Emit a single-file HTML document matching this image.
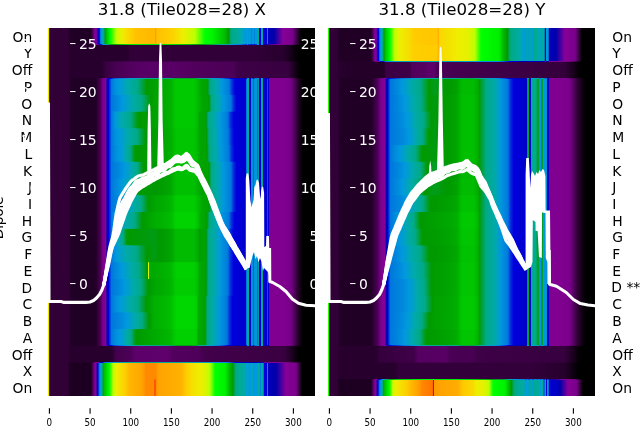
<!DOCTYPE html><html><head><meta charset="utf-8"><title>31.8 (Tile028=28)</title><style>
html,body{margin:0;padding:0;background:#fff}
body{width:640px;height:440px;position:relative;overflow:hidden;font-family:"DejaVu Sans","Liberation Sans",sans-serif;color:#000}
.p{position:absolute;top:28px;width:267px;height:368px;overflow:hidden;background:#2a0033}
.p i{position:absolute;left:0;width:267px;display:block}
.t{position:absolute;white-space:nowrap;line-height:1}
svg{position:absolute;left:0;top:0}
svg text{font-family:"DejaVu Sans","Liberation Sans",sans-serif}
</style></head><body>
<div class="p" style="left:48px">
<i style="top:0px;height:16px;background:linear-gradient(90deg,#f0eb00 0px,#f0eb00 1.1px,#7a008b 1.3px,#7a008b 2.2px,#300036 2.4px,#300036 20px,#210026 22px,#210026 43px,#5f006d 45.5px,#770088 45.88px,#810092 47px,#880099 48.1px,#5200a0 49.2px,#0000aa 49.99px,#0000dd 51.3px,#0077dd 52.45px,#0099dd 53.61px,#00a3be 54.3px,#00aaaa 54.77px,#00aa88 55.95px,#009900 57.12px,#00bb00 58.3px,#00dd00 60.4px,#00ff00 62.5px,#bbff00 68px,#eeee00 74px,#fad600 81px,#ffcc00 84.6px,#ffc200 87px,#ffba00 100px,#ffba00 106.5px,#ffa100 107.3px,#ffa100 108px,#ffc000 108.8px,#ffca00 118px,#ffcc00 119.2px,#fcd300 125px,#eeee00 135px,#bbff00 147px,#00ff00 157px,#00f500 164px,#00dd00 169.4px,#00bb00 177px,#009900 180.5px,#00a76d 182.5px,#00aa88 184.4px,#00aa99 189px,#00aaaa 192.2px,#00a7b4 193.5px,#009cd3 196.5px,#0099dd 198.6px,#00aa9c 198.9px,#00aa9c 200px,#0099dd 200.4px,#0099dd 203px,#0085dd 203.3px,#0085dd 203.9px,#0099dd 204.2px,#0099dd 206px,#0085dd 206.3px,#0085dd 206.9px,#0099dd 207.2px,#0099dd 209.2px,#00aa8b 209.5px,#00aa8b 210.5px,#0000dd 210.9px,#0000dd 212.5px,#00aaa3 212.9px,#00aaa3 214.5px,#0000dd 214.9px,#0000dd 218.7px,#0085dd 219px,#0085dd 219.8px,#0000be 220.1px,#0000af 224px,#0000aa 226px,#880099 235px,#810092 238px,#7e008f 242px,#770088 244.9px,#53005f 247px,#000000 253px,#000000 267px)"></i>
<i style="top:16px;height:1px;background:linear-gradient(90deg,#f0eb00 0px,#f0eb00 1.1px,#7a008b 1.3px,#7a008b 2.2px,#300036 2.4px,#300036 20px,#230028 22px,#230028 43px,#50005c 45.5px,#770088 46.34px,#7b008c 47px,#850096 49.2px,#880099 49.49px,#0000aa 51.3px,#0000dd 52.88px,#006add 54.3px,#0077dd 54.47px,#0099dd 56.09px,#00aaaa 57.71px,#00aa9e 58.3px,#00aa88 60.13px,#009c18 62.5px,#009900 63.86px,#00ac00 68px,#00bb00 71.74px,#00c400 74px,#00d300 80px,#00d600 81px,#00d800 82px,#00dd00 84.21px,#00e300 87px,#00e700 100px,#00e700 106.5px,#00f300 107.3px,#00f300 108px,#00e400 108.8px,#00df00 118px,#00dd00 120.1px,#00d900 125px,#00c500 135px,#00bb00 139.9px,#00ac00 147px,#009900 154.8px,#009c16 157px,#009f33 164px,#00aa88 170.6px,#00aa9d 177px,#00aaaa 178.9px,#00a4bb 180.5px,#009ad9 182.5px,#0099dd 183.5px,#008add 189px,#0079dd 193.5px,#0077dd 193.9px,#004add 196.5px,#0039dd 198.6px,#0088dd 198.9px,#0088dd 200px,#0039dd 200.4px,#0039dd 203px,#0005dd 203.3px,#0005dd 203.9px,#0039dd 204.2px,#0038dd 206px,#0005dd 206.3px,#0004dd 206.9px,#0038dd 207.2px,#0038dd 209.2px,#0094dd 209.5px,#0094dd 210.5px,#0000ab 210.9px,#0000ab 212.5px,#0083dd 212.9px,#0083dd 214.5px,#0000ab 214.9px,#0000ab 218.7px,#0004dd 219px,#0004dd 219.8px,#3a00a3 220.1px,#58009f 224px,#62009e 226px,#880099 229.4px,#800091 235px,#7f0090 236px,#7b008c 238px,#780089 242px,#770088 242.7px,#660075 244px,#3f0048 247px,#1e0023 250px,#000000 253px,#000000 267px)"></i>
<i style="top:17px;height:16px;background:linear-gradient(90deg,#f0eb00 0px,#f0eb00 1.1px,#7a008b 1.3px,#7a008b 2.2px,#300036 2.4px,#300036 20px,#28002e 22px,#28002e 80px,#320039 82px,#320039 200px,#28002e 236px,#130016 244px,#000000 250px,#000000 267px)"></i>
<i style="top:33px;height:1px;background:linear-gradient(90deg,#f0eb00 0px,#f0eb00 1.1px,#7a008b 1.3px,#7a008b 2.2px,#300036 2.4px,#300036 20px,#28002e 22px,#28002e 54px,#320039 58px,#390042 68px,#3f0047 80px,#44004d 82px,#470051 92px,#470051 130px,#43004c 150px,#400049 186px,#380041 190px,#380040 200px,#310037 236px,#2b0032 240px,#1d0021 244px,#150018 246px,#050006 250px,#000000 252px,#000000 267px)"></i>
<i style="top:34px;height:16px;background:linear-gradient(90deg,#f0eb00 0px,#f0eb00 1.1px,#7a008b 1.3px,#7a008b 2.2px,#300036 2.4px,#300036 20px,#28002e 22px,#28002e 54px,#390041 58px,#470052 68px,#51005c 80px,#580065 92px,#580065 130px,#51005c 150px,#4c0057 186px,#3e0047 190px,#37003f 240px,#1d0021 246px,#000000 252px,#000000 267px)"></i>
<i style="top:50px;height:1px;background:linear-gradient(90deg,#f0eb00 0px,#f0eb00 1.1px,#7a008b 1.3px,#7a008b 2.2px,#300036 2.4px,#300036 20px,#2f0036 21px,#28002e 22px,#230028 23px,#230028 48px,#4c0056 53px,#630071 54px,#770088 54.83px,#79008a 55.5px,#7f0090 57px,#860097 58px,#880099 58.17px,#3e00a2 59px,#0000aa 59.83px,#0000bd 60.5px,#0000dd 62.81px,#0017dd 63.5px,#0052dd 66px,#0063dd 68px,#0077dd 70.28px,#0080dd 74px,#0093dd 80px,#0099dd 82.1px,#00a8b0 92px,#00aaaa 93.24px,#00aa9f 97px,#00aa99 98.5px,#00aa92 106px,#00aa8b 116px,#00aa88 119.3px,#00a87a 123px,#009f30 128px,#009f30 130px,#009f32 146px,#00a353 149px,#00a668 150px,#00aa88 151.5px,#00aa90 153px,#00aa91 158.5px,#00aaaa 160.9px,#00a4bb 162px,#0099dc 166.5px,#0099dd 166.6px,#0089dd 170.5px,#0078dd 173.5px,#0077dd 173.8px,#002cdd 180.5px,#0000dd 182.5px,#0000cf 184px,#0000c3 186px,#0000be 187px,#0000b9 190px,#0000b0 197.5px,#0000aa 197.9px,#1100a8 198.3px,#0000aa 198.3px,#0000dd 198.5px,#0077dd 198.6px,#0099dd 198.8px,#009ecd 198.8px,#009ecd 200.7px,#0000b4 201.1px,#0000b4 202.8px,#0064dd 203.2px,#0064dd 205.1px,#0002dd 205.5px,#0064dd 206px,#0077dd 208.6px,#0099dd 208.8px,#00aaaa 209px,#00aa9b 209.1px,#00aa9b 210.2px,#0077dd 210.6px,#0077dd 211.1px,#0000b4 211.4px,#0000b4 212.5px,#00a4bd 212.9px,#00a4bd 215.1px,#0000b4 215.5px,#0000b4 218.9px,#0000da 219.2px,#0000da 219.7px,#0000b4 220px,#0000b4 220.6px,#7e008f 221px,#7c008d 236.5px,#780089 240px,#770088 241.1px,#5e006c 244px,#4a0055 246px,#18001c 251px,#120014 252px,#000000 255px,#000000 267px)"></i>
<i style="top:51px;height:15px;background:linear-gradient(90deg,#f0eb00 0px,#f0eb00 1.1px,#7a008b 1.3px,#7a008b 2.2px,#300036 2.4px,#300036 21px,#210026 23px,#210026 48px,#53005f 53px,#770088 54.25px,#7c008d 55.5px,#830094 57px,#880099 57.6px,#6d009c 58px,#0000aa 59px,#0000dd 60.5px,#0077dd 63.5px,#008bdd 66px,#0099dd 70.57px,#009ece 74px,#00aaaa 80.44px,#00aa88 89.64px,#009c1b 97px,#009900 98.5px,#00a200 106px,#00aa00 116px,#00b200 123px,#00bb00 125px,#00c900 128px,#00c900 146px,#00be00 149px,#00bb00 149.5px,#00a500 153px,#00a300 158.5px,#009900 159.3px,#00aa88 162px,#00aaa3 166.5px,#00aaaa 167.8px,#00a3be 170.5px,#0099dd 173.5px,#007edd 180.5px,#0077dd 181.4px,#0030dd 184px,#0000dd 187px,#0000ce 197.5px,#0000be 198.3px,#0000dd 198.4px,#0077dd 198.5px,#0099dd 198.6px,#00aaaa 198.7px,#00aa96 198.8px,#00aa96 200.7px,#0000d3 201.1px,#0000d3 202.8px,#0092dd 203.2px,#0092dd 205.1px,#005fdd 205.5px,#0077dd 205.6px,#0092dd 206px,#0099dd 208.6px,#00aaaa 208.8px,#00aa88 208.9px,#009900 209.1px,#009900 210.2px,#0099dd 210.6px,#0099dd 211.1px,#0000d3 211.4px,#0000d3 212.5px,#00aa88 212.9px,#00aa88 215.1px,#0000d3 215.5px,#0000d3 218.9px,#0053dd 219.2px,#0053dd 219.7px,#0000d3 220px,#0000d3 220.6px,#810092 221px,#800090 236.5px,#770088 242.8px,#6b007a 244px,#1d0021 251px,#000000 255px,#000000 267px)"></i>
<i style="top:66px;height:1px;background:linear-gradient(90deg,#f0eb00 0px,#f0eb00 1.1px,#7a008b 1.3px,#7a008b 2.2px,#300036 2.4px,#300036 21px,#210026 23px,#210026 48px,#53005f 53px,#770088 54.25px,#7c008d 55.5px,#830094 57px,#880099 57.6px,#6d009c 58px,#0000aa 59px,#0000dd 60.5px,#0077dd 63.5px,#008add 66px,#0096dd 70px,#0099dd 70.94px,#009ecf 74px,#00a5ba 78px,#00aaaa 80.8px,#00aa88 90px,#009d21 97px,#009a06 98.5px,#009900 99.54px,#009b00 101px,#009d00 102.5px,#00a200 106px,#00aa00 116px,#00b200 123px,#00bb00 125px,#00c900 128px,#00c900 146px,#00be00 149px,#00bb00 149.5px,#00a600 153px,#00a400 154.5px,#00a300 158.5px,#009900 159.4px,#009d1c 160px,#00a981 162px,#00aa88 162.3px,#00aa90 163.5px,#00aaa2 166.5px,#00aaaa 168px,#00a4bd 170.5px,#009fcc 172px,#0099dc 173.5px,#0099dd 173.7px,#0094dd 175px,#007edd 180.5px,#0077dd 181.5px,#006add 182px,#0033dd 184px,#001add 185.5px,#0002dd 187px,#0000dd 187.5px,#0000db 188.5px,#0000ce 197.5px,#0000be 198.3px,#0000dd 198.4px,#0077dd 198.5px,#0099dd 198.6px,#00aaaa 198.7px,#00aa96 198.8px,#00aa96 200.7px,#0000d3 201.1px,#0000d3 202.8px,#0092dd 203.2px,#0092dd 205.1px,#005fdd 205.5px,#0077dd 205.6px,#0092dd 206px,#0099dd 208.6px,#00aaaa 208.8px,#00aa88 208.9px,#009900 209.1px,#009900 210.2px,#0099dd 210.6px,#0099dd 211.1px,#0000d3 211.4px,#0000d3 212.5px,#00aa88 212.9px,#00aa88 215.1px,#0000d3 215.5px,#0000d3 218.9px,#0053dd 219.2px,#0053dd 219.7px,#0000d3 220px,#0000d3 220.6px,#810092 221px,#800090 236.5px,#770088 242.8px,#6b007a 244px,#1d0021 251px,#000000 255px,#000000 267px)"></i>
<i style="top:67px;height:16px;background:linear-gradient(90deg,#f0eb00 0px,#f0eb00 1.1px,#7a008b 1.3px,#7a008b 2.2px,#300036 2.4px,#300036 21px,#210026 23px,#210026 48px,#53005f 53px,#770088 54.25px,#7c008d 55.5px,#830094 57px,#880099 57.6px,#6d009c 58px,#0000aa 59px,#0000dd 60.5px,#0077dd 63.5px,#008bdd 70px,#0099dd 74.57px,#009ece 78px,#00aaaa 84.44px,#00aa88 93.64px,#009c1b 101px,#009900 102.5px,#00a200 106px,#00aa00 116px,#00b200 123px,#00bb00 125px,#00c900 128px,#00c900 146px,#00be00 149px,#00bb00 149.7px,#00a500 154.5px,#00a300 160px,#009900 160.8px,#00aa88 163.5px,#00aaa3 168px,#00aaaa 169.3px,#00a3be 172px,#0099dd 175px,#007edd 182px,#0077dd 182.9px,#0030dd 185.5px,#0000dd 188.5px,#0000ce 197.5px,#0000be 198.3px,#0000dd 198.4px,#0077dd 198.5px,#0099dd 198.6px,#00aaaa 198.7px,#00aa96 198.8px,#00aa96 200.7px,#0000d3 201.1px,#0000d3 202.8px,#0092dd 203.2px,#0092dd 205.1px,#005fdd 205.5px,#0077dd 205.6px,#0092dd 206px,#0099dd 208.6px,#00aaaa 208.8px,#00aa88 208.9px,#009900 209.1px,#009900 210.2px,#0099dd 210.6px,#0099dd 211.1px,#0000d3 211.4px,#0000d3 212.5px,#00aa88 212.9px,#00aa88 215.1px,#0000d3 215.5px,#0000d3 218.9px,#0053dd 219.2px,#0053dd 219.7px,#0000d3 220px,#0000d3 220.6px,#810092 221px,#800090 236.5px,#770088 242.8px,#6b007a 244px,#1d0021 251px,#000000 255px,#000000 267px)"></i>
<i style="top:83px;height:1px;background:linear-gradient(90deg,#f0eb00 0px,#f0eb00 1.1px,#7a008b 1.3px,#7a008b 2.2px,#300036 2.4px,#300036 21px,#210026 23px,#210026 48px,#53005f 53px,#770088 54.25px,#7c008d 55.5px,#830094 57px,#880099 57.6px,#6d009c 58px,#0000aa 59px,#0000dd 60.5px,#0077dd 63.5px,#0082dd 65.5px,#0092dd 69px,#0096dd 70px,#0099dd 70.99px,#00a5b9 78px,#00aaaa 80.54px,#00aa89 89px,#00aa88 89.26px,#00a874 90.5px,#009a09 101px,#009900 101.7px,#009b00 102.5px,#00a200 106px,#00aa00 116px,#00b200 123px,#00bb00 125px,#00c900 128px,#00c900 146px,#00be00 149px,#00bb00 149.5px,#00ae00 151.5px,#00a500 154.5px,#00a400 157px,#009900 159.3px,#009b0e 160px,#009e28 160.5px,#00aa88 162.9px,#00aa8f 163.5px,#00aa98 165px,#00aaa9 168px,#00aaaa 168.2px,#00a8b0 169px,#009fca 172px,#0099dd 174.3px,#0095dd 175px,#0085dd 179px,#0077dd 181.7px,#0071dd 182px,#0064dd 182.5px,#001edd 185.5px,#0000dd 188.2px,#0000dc 188.5px,#0000ce 197.5px,#0000be 198.3px,#0000dd 198.4px,#0077dd 198.5px,#0099dd 198.6px,#00aaaa 198.7px,#00aa96 198.8px,#00aa96 200.7px,#0000d3 201.1px,#0000d3 202.8px,#0092dd 203.2px,#0092dd 205.1px,#005fdd 205.5px,#0077dd 205.6px,#0092dd 206px,#0099dd 208.6px,#00aaaa 208.8px,#00aa88 208.9px,#009900 209.1px,#009900 210.2px,#0099dd 210.6px,#0099dd 211.1px,#0000d3 211.4px,#0000d3 212.5px,#00aa88 212.9px,#00aa88 215.1px,#0000d3 215.5px,#0000d3 218.9px,#0053dd 219.2px,#0053dd 219.7px,#0000d3 220px,#0000d3 220.6px,#810092 221px,#800090 236.5px,#770088 242.8px,#6b007a 244px,#1d0021 251px,#000000 255px,#000000 267px)"></i>
<i style="top:84px;height:16px;background:linear-gradient(90deg,#f0eb00 0px,#f0eb00 1.1px,#7a008b 1.3px,#7a008b 2.2px,#300036 2.4px,#300036 21px,#210026 23px,#210026 48px,#53005f 53px,#770088 54.25px,#7c008d 55.5px,#830094 57px,#880099 57.6px,#6d009c 58px,#0000aa 59px,#0000dd 60.5px,#0077dd 63.5px,#008bdd 65.5px,#0099dd 67.5px,#009ece 69px,#00aaaa 74.6px,#00aa88 82.6px,#009c1b 89px,#009900 90.5px,#00a200 106px,#00aa00 116px,#00b200 123px,#00bb00 125px,#00c900 128px,#00c900 146px,#00be00 149px,#00bb00 149.3px,#00a500 151.5px,#00a300 157px,#009900 157.8px,#00aa88 160.5px,#00aaa3 165px,#00aaaa 166.3px,#00a3be 169px,#0099dd 172px,#007edd 179px,#0077dd 179.9px,#0030dd 182.5px,#0000dd 185.5px,#0000ce 197.5px,#0000be 198.3px,#0000dd 198.4px,#0077dd 198.5px,#0099dd 198.6px,#00aaaa 198.7px,#00aa96 198.8px,#00aa96 200.7px,#0000d3 201.1px,#0000d3 202.8px,#0092dd 203.2px,#0092dd 205.1px,#005fdd 205.5px,#0077dd 205.6px,#0092dd 206px,#0099dd 208.6px,#00aaaa 208.8px,#00aa88 208.9px,#009900 209.1px,#009900 210.2px,#0099dd 210.6px,#0099dd 211.1px,#0000d3 211.4px,#0000d3 212.5px,#00aa88 212.9px,#00aa88 215.1px,#0000d3 215.5px,#0000d3 218.9px,#0053dd 219.2px,#0053dd 219.7px,#0000d3 220px,#0000d3 220.6px,#810092 221px,#800090 236.5px,#770088 242.8px,#6b007a 244px,#1d0021 251px,#000000 255px,#000000 267px)"></i>
<i style="top:100px;height:1px;background:linear-gradient(90deg,#f0eb00 0px,#f0eb00 1.1px,#7a008b 1.3px,#7a008b 2.2px,#300036 2.4px,#300036 21px,#210026 23px,#210026 48px,#53005f 53px,#770088 54.25px,#7c008d 55.5px,#830094 57px,#880099 57.6px,#6d009c 58px,#0000aa 59px,#0000dd 60.5px,#0077dd 63.5px,#0089dd 65.5px,#008ddd 66px,#0099dd 68.83px,#0099dc 69px,#00a2c2 74px,#00aaaa 78.01px,#00aa88 86.51px,#00a560 89px,#00a247 90.5px,#009b0d 96px,#009900 97.03px,#009a00 97.5px,#00a000 106px,#00a800 116px,#00b000 123px,#00bb00 125.5px,#00c600 128px,#00c600 146px,#00bc00 149px,#00bb00 149.1px,#00a600 151.5px,#00a400 152px,#00a300 157px,#00a100 157.5px,#009900 158.1px,#00a878 160.5px,#00aa88 160.9px,#00aa89 161px,#00aaa1 165px,#00aaa4 165.5px,#00aaaa 166.7px,#00a4bc 169px,#00a3c0 169.5px,#009ada 172px,#0099dd 172.4px,#0098dd 172.5px,#007fdd 179px,#007cdd 179.5px,#0077dd 180.2px,#0038dd 182.5px,#002ddd 183px,#0005dd 185.5px,#0000dd 186px,#0000ce 197.5px,#0000be 198.3px,#0000dd 198.4px,#0077dd 198.5px,#0099dd 198.6px,#00aaaa 198.7px,#00aa96 198.8px,#00aa96 200.7px,#0000d3 201.1px,#0000d3 202.8px,#0092dd 203.2px,#0092dd 205.1px,#005fdd 205.5px,#0077dd 205.6px,#0092dd 206px,#0099dd 208.6px,#00aaaa 208.8px,#00aa88 208.9px,#009900 209.1px,#009900 210.2px,#0099dd 210.6px,#0099dd 211.1px,#0000d3 211.4px,#0000d3 212.5px,#00aa88 212.9px,#00aa88 215.1px,#0000d3 215.5px,#0000d3 218.9px,#0053dd 219.2px,#0053dd 219.7px,#0000d3 220px,#0000d3 220.6px,#810092 221px,#800090 236.5px,#770088 242.8px,#6b007a 244px,#1d0021 251px,#000000 255px,#000000 267px)"></i>
<i style="top:101px;height:16px;background:linear-gradient(90deg,#f0eb00 0px,#f0eb00 1.1px,#7a008b 1.3px,#7a008b 2.2px,#300036 2.4px,#300036 21px,#210026 23px,#210026 48px,#53005f 53px,#770088 54.25px,#7c008d 55.5px,#830094 57px,#880099 57.6px,#6d009c 58px,#0000aa 59px,#0000dd 60.5px,#0077dd 63.5px,#008bdd 66px,#0099dd 70.57px,#009ece 74px,#00aaaa 80.16px,#00aa88 88.96px,#009c1b 96px,#009900 97.5px,#009e00 106px,#00a700 116px,#00af00 123px,#00bb00 125.7px,#00c500 128px,#00c500 146px,#00bb00 149px,#00a300 152px,#00a300 157.5px,#009900 158.3px,#00aa88 161px,#00aaa3 165.5px,#00aaaa 166.8px,#00a3be 169.5px,#0099dd 172.5px,#007edd 179.5px,#0077dd 180.4px,#0030dd 183px,#0000dd 186px,#0000ce 197.5px,#0000be 198.3px,#0000dd 198.4px,#0077dd 198.5px,#0099dd 198.6px,#00aaaa 198.7px,#00aa96 198.8px,#00aa96 200.7px,#0000d3 201.1px,#0000d3 202.8px,#0092dd 203.2px,#0092dd 205.1px,#005fdd 205.5px,#0077dd 205.6px,#0092dd 206px,#0099dd 208.6px,#00aaaa 208.8px,#00aa88 208.9px,#009900 209.1px,#009900 210.2px,#0099dd 210.6px,#0099dd 211.1px,#0000d3 211.4px,#0000d3 212.5px,#00aa88 212.9px,#00aa88 215.1px,#0000d3 215.5px,#0000d3 218.9px,#0053dd 219.2px,#0053dd 219.7px,#0000d3 220px,#0000d3 220.6px,#810092 221px,#800090 236.5px,#770088 242.8px,#6b007a 244px,#1d0021 251px,#000000 255px,#000000 267px)"></i>
<i style="top:117px;height:1px;background:linear-gradient(90deg,#f0eb00 0px,#f0eb00 1.1px,#7a008b 1.3px,#7a008b 2.2px,#300036 2.4px,#300036 21px,#210026 23px,#210026 48px,#53005f 53px,#770088 54.25px,#7c008d 55.5px,#830094 57px,#880099 57.6px,#6d009c 58px,#0000aa 59px,#0000dd 60.5px,#0077dd 63.5px,#0086dd 66px,#008cdd 67px,#0099dd 71.48px,#009dd2 74px,#009ecd 75px,#00aaaa 78.18px,#00aa88 82.79px,#009e29 86px,#009b0e 87.5px,#009900 93.33px,#009b00 96px,#009c00 97.5px,#009e00 106px,#00a700 116px,#00af00 123px,#00bb00 125.7px,#00c500 128px,#00c500 146px,#00bb00 149px,#00a600 152px,#00a300 152.5px,#00a300 157.5px,#00a300 158px,#009900 158.8px,#00a771 161px,#00aa88 161.5px,#00aaa0 165.5px,#00aaa3 166px,#00aaaa 167.3px,#00a4bb 169.5px,#00a3bf 170px,#009bd8 172.5px,#0099dd 173px,#0080dd 179.5px,#007ddd 180px,#0077dd 180.8px,#003cdd 183px,#002fdd 183.5px,#0007dd 186px,#0000dd 186.5px,#0000ce 197.5px,#0000be 198.3px,#0000dd 198.4px,#0077dd 198.5px,#0099dd 198.6px,#00aaaa 198.7px,#00aa96 198.8px,#00aa96 200.7px,#0000d3 201.1px,#0000d3 202.8px,#0092dd 203.2px,#0092dd 205.1px,#005fdd 205.5px,#0077dd 205.6px,#0092dd 206px,#0099dd 208.6px,#00aaaa 208.8px,#00aa88 208.9px,#009900 209.1px,#009900 210.2px,#0099dd 210.6px,#0099dd 211.1px,#0000d3 211.4px,#0000d3 212.5px,#00aa88 212.9px,#00aa88 215.1px,#0000d3 215.5px,#0000d3 218.9px,#0053dd 219.2px,#0053dd 219.7px,#0000d3 220px,#0000d3 220.6px,#810092 221px,#800090 236.5px,#770088 242.8px,#6b007a 244px,#1d0021 251px,#000000 255px,#000000 267px)"></i>
<i style="top:118px;height:15px;background:linear-gradient(90deg,#f0eb00 0px,#f0eb00 1.1px,#7a008b 1.3px,#7a008b 2.2px,#300036 2.4px,#300036 21px,#210026 23px,#210026 48px,#53005f 53px,#770088 54.25px,#7c008d 55.5px,#830094 57px,#880099 57.6px,#6d009c 58px,#0000aa 59px,#0000dd 60.5px,#0077dd 63.5px,#008bdd 67px,#0099dd 71.57px,#009ece 75px,#00aaaa 78.08px,#00aa88 82.48px,#009c1b 86px,#009900 87.5px,#009e00 106px,#00a700 116px,#00af00 123px,#00bb00 125.7px,#00c500 128px,#00c500 146px,#00bb00 149px,#00a300 152.5px,#00a300 158px,#009900 158.8px,#00aa88 161.5px,#00aaa3 166px,#00aaaa 167.3px,#00a3be 170px,#0099dd 173px,#007edd 180px,#0077dd 180.9px,#0030dd 183.5px,#0000dd 186.5px,#0000ce 197.5px,#0000be 198.3px,#0000dd 198.4px,#0077dd 198.5px,#0099dd 198.6px,#00aaaa 198.7px,#00aa96 198.8px,#00aa96 200.7px,#0000d3 201.1px,#0000d3 202.8px,#0092dd 203.2px,#0092dd 205.1px,#005fdd 205.5px,#0077dd 205.6px,#0092dd 206px,#0099dd 208.6px,#00aaaa 208.8px,#00aa88 208.9px,#009900 209.1px,#009900 210.2px,#0099dd 210.6px,#0099dd 211.1px,#0000d3 211.4px,#0000d3 212.5px,#00aa88 212.9px,#00aa88 215.1px,#0000d3 215.5px,#0000d3 218.9px,#0053dd 219.2px,#0053dd 219.7px,#0000d3 220px,#0000d3 220.6px,#810092 221px,#800090 236.5px,#770088 242.8px,#6b007a 244px,#1d0021 251px,#000000 255px,#000000 267px)"></i>
<i style="top:133px;height:1px;background:linear-gradient(90deg,#f0eb00 0px,#f0eb00 1.1px,#7a008b 1.3px,#7a008b 2.2px,#300036 2.4px,#300036 21px,#210026 23px,#210026 48px,#53005f 53px,#770088 54.25px,#7c008d 55.5px,#830094 57px,#880099 57.6px,#6d009c 58px,#0000aa 59px,#0000dd 60.5px,#0077dd 63.5px,#0089dd 67px,#0098dd 72px,#0099dd 72.48px,#009dd2 75px,#00aaaa 78.86px,#00aaa2 80px,#00aa88 83.53px,#00a13f 86px,#009d22 87.5px,#009900 93.76px,#009900 94px,#009b00 95.5px,#009d00 106px,#00a500 116px,#00ae00 123px,#00bb00 126px,#00c400 128px,#00c400 146px,#00bb00 148.6px,#00ba00 149px,#00a400 152.5px,#00a300 154.5px,#00a300 158px,#009900 159px,#009e2a 160px,#00a876 161.5px,#00aa88 162.1px,#00aa92 163.5px,#00aaa1 166px,#00aaaa 167.7px,#00a9ac 168px,#00a4bc 170px,#009ecf 172px,#009ad9 173px,#0099dd 173.6px,#0093dd 175px,#007fdd 180px,#0077dd 181.2px,#0062dd 182px,#0039dd 183.5px,#0016dd 185.5px,#0006dd 186.5px,#0000dd 187.5px,#0000db 188.5px,#0000ce 197.5px,#0000be 198.3px,#0000dd 198.4px,#0077dd 198.5px,#0099dd 198.6px,#00aaaa 198.7px,#00aa96 198.8px,#00aa96 200.7px,#0000d3 201.1px,#0000d3 202.8px,#0092dd 203.2px,#0092dd 205.1px,#005fdd 205.5px,#0077dd 205.6px,#0092dd 206px,#0099dd 208.6px,#00aaaa 208.8px,#00aa88 208.9px,#009900 209.1px,#009900 210.2px,#0099dd 210.6px,#0099dd 211.1px,#0000d3 211.4px,#0000d3 212.5px,#00aa88 212.9px,#00aa88 215.1px,#0000d3 215.5px,#0000d3 218.9px,#0053dd 219.2px,#0053dd 219.7px,#0000d3 220px,#0000d3 220.6px,#810092 221px,#800090 236.5px,#770088 242.8px,#6b007a 244px,#1d0021 251px,#000000 255px,#000000 267px)"></i>
<i style="top:134px;height:16px;background:linear-gradient(90deg,#f0eb00 0px,#f0eb00 1.1px,#7a008b 1.3px,#7a008b 2.2px,#300036 2.4px,#300036 21px,#210026 23px,#210026 48px,#53005f 53px,#770088 54.25px,#7c008d 55.5px,#830094 57px,#880099 57.6px,#6d009c 58px,#0000aa 59px,#0000dd 60.5px,#0077dd 63.5px,#008bdd 72px,#0099dd 76.57px,#009ece 80px,#00aaaa 83.92px,#00aa88 89.52px,#009c1b 94px,#009900 95.5px,#009a05 106px,#009900 107.7px,#00a000 116px,#00a800 123px,#00bb00 127.2px,#00be00 128px,#00be00 146px,#00bb00 147px,#00b400 149px,#00a000 154.5px,#00a300 160px,#009900 160.8px,#00aa88 163.5px,#00aaa3 168px,#00aaaa 169.3px,#00a3be 172px,#0099dd 175px,#007edd 182px,#0077dd 182.9px,#0030dd 185.5px,#0000dd 188.5px,#0000ce 197.5px,#0000be 198.3px,#0000dd 198.4px,#0077dd 198.5px,#0099dd 198.6px,#00aaaa 198.7px,#00aa96 198.8px,#00aa96 200.7px,#0000d3 201.1px,#0000d3 202.8px,#0092dd 203.2px,#0092dd 205.1px,#005fdd 205.5px,#0077dd 205.6px,#0092dd 206px,#0099dd 208.6px,#00aaaa 208.8px,#00aa88 208.9px,#009900 209.1px,#009900 210.2px,#0099dd 210.6px,#0099dd 211.1px,#0000d3 211.4px,#0000d3 212.5px,#00aa88 212.9px,#00aa88 215.1px,#0000d3 215.5px,#0000d3 218.9px,#0053dd 219.2px,#0053dd 219.7px,#0000d3 220px,#0000d3 220.6px,#810092 221px,#800090 236.5px,#770088 242.8px,#6b007a 244px,#1d0021 251px,#000000 255px,#000000 267px)"></i>
<i style="top:150px;height:1px;background:linear-gradient(90deg,#f0eb00 0px,#f0eb00 1.1px,#7a008b 1.3px,#7a008b 2.2px,#300036 2.4px,#300036 21px,#210026 23px,#210026 48px,#53005f 53px,#770088 54.25px,#7c008d 55.5px,#830094 57px,#880099 57.6px,#6d009c 58px,#0000aa 59px,#0000dd 60.5px,#0077dd 63.5px,#0087dd 69px,#008fdd 72px,#0099dd 75.21px,#009cd5 77px,#00a3c0 80px,#00aaaa 82.37px,#00aa88 87.78px,#00a350 90px,#009f30 91.5px,#009b0f 94px,#009901 95.5px,#009a05 106px,#009900 107.7px,#00a000 116px,#00a800 123px,#00bb00 127.2px,#00be00 128px,#00be00 146px,#00bb00 147px,#00b400 149px,#00a000 154.5px,#00a300 160px,#009900 160.8px,#00aa88 163.5px,#00aaa3 168px,#00aaaa 169.3px,#00a3be 172px,#0099dd 175px,#007edd 182px,#0077dd 182.9px,#0030dd 185.5px,#0000dd 188.5px,#0000ce 197.5px,#0000be 198.3px,#0000dd 198.4px,#0077dd 198.5px,#0099dd 198.6px,#00aaaa 198.7px,#00aa96 198.8px,#00aa96 200.7px,#0000d3 201.1px,#0000d3 202.8px,#0092dd 203.2px,#0092dd 205.1px,#005fdd 205.5px,#0077dd 205.6px,#0092dd 206px,#0099dd 208.6px,#00aaaa 208.8px,#00aa88 208.9px,#009900 209.1px,#009900 210.2px,#0099dd 210.6px,#0099dd 211.1px,#0000d3 211.4px,#0000d3 212.5px,#00aa88 212.9px,#00aa88 215.1px,#0000d3 215.5px,#0000d3 218.9px,#0053dd 219.2px,#0053dd 219.7px,#0000d3 220px,#0000d3 220.6px,#810092 221px,#800090 236.5px,#770088 242.8px,#6b007a 244px,#1d0021 251px,#000000 255px,#000000 267px)"></i>
<i style="top:151px;height:16px;background:linear-gradient(90deg,#f0eb00 0px,#f0eb00 1.1px,#7a008b 1.3px,#7a008b 2.2px,#300036 2.4px,#300036 21px,#210026 23px,#210026 48px,#53005f 53px,#770088 54.25px,#7c008d 55.5px,#830094 57px,#880099 57.6px,#6d009c 58px,#0000aa 59px,#0000dd 60.5px,#0077dd 63.5px,#008bdd 69px,#0099dd 73.57px,#009ece 77px,#00aaaa 80.64px,#00aa88 85.84px,#009c1b 90px,#009900 91.5px,#009a05 106px,#009900 107.7px,#00a000 116px,#00a800 123px,#00bb00 127.2px,#00be00 128px,#00be00 146px,#00bb00 147px,#00b400 149px,#00a000 154.5px,#00a300 160px,#009900 160.8px,#00aa88 163.5px,#00aaa3 168px,#00aaaa 169.3px,#00a3be 172px,#0099dd 175px,#007edd 182px,#0077dd 182.9px,#0030dd 185.5px,#0000dd 188.5px,#0000ce 197.5px,#0000be 198.3px,#0000dd 198.4px,#0077dd 198.5px,#0099dd 198.6px,#00aaaa 198.7px,#00aa96 198.8px,#00aa96 200.7px,#0000d3 201.1px,#0000d3 202.8px,#0092dd 203.2px,#0092dd 205.1px,#005fdd 205.5px,#0077dd 205.6px,#0092dd 206px,#0099dd 208.6px,#00aaaa 208.8px,#00aa88 208.9px,#009900 209.1px,#009900 210.2px,#0099dd 210.6px,#0099dd 211.1px,#0000d3 211.4px,#0000d3 212.5px,#00aa88 212.9px,#00aa88 215.1px,#0000d3 215.5px,#0000d3 218.9px,#0053dd 219.2px,#0053dd 219.7px,#0000d3 220px,#0000d3 220.6px,#810092 221px,#800090 236.5px,#770088 242.8px,#6b007a 244px,#1d0021 251px,#000000 255px,#000000 267px)"></i>
<i style="top:167px;height:1px;background:linear-gradient(90deg,#f0eb00 0px,#f0eb00 1.1px,#7a008b 1.3px,#7a008b 2.2px,#300036 2.4px,#300036 21px,#210026 23px,#210026 48px,#53005f 53px,#770088 54.25px,#7c008d 55.5px,#830094 57px,#880099 57.6px,#6d009c 58px,#0000aa 59px,#0000dd 60.5px,#0077dd 63.5px,#0086dd 69px,#008edd 72px,#0099dd 75.75px,#009bd7 77px,#00a1c6 80px,#00aaaa 83.66px,#00aa8a 90px,#00aa88 90.46px,#00a875 91.5px,#009c15 99px,#009901 100.5px,#009900 100.6px,#00a200 106px,#00aa00 116px,#00b200 123px,#00bb00 125px,#00c800 128px,#00c800 146px,#00be00 149px,#00bb00 149.7px,#00a500 154.5px,#00a300 160px,#009900 160.8px,#00aa88 163.5px,#00aaa3 168px,#00aaaa 169.3px,#00a3be 172px,#0099dd 175px,#007edd 182px,#0077dd 182.9px,#0030dd 185.5px,#0000dd 188.5px,#0000ce 197.5px,#0000be 198.3px,#0000dd 198.4px,#0077dd 198.5px,#0099dd 198.6px,#00aaaa 198.7px,#00aa96 198.8px,#00aa96 200.7px,#0000d3 201.1px,#0000d3 202.8px,#0092dd 203.2px,#0092dd 205.1px,#005fdd 205.5px,#0077dd 205.6px,#0092dd 206px,#0099dd 208.6px,#00aaaa 208.8px,#00aa88 208.9px,#009900 209.1px,#009900 210.2px,#0099dd 210.6px,#0099dd 211.1px,#0000d3 211.4px,#0000d3 212.5px,#00aa88 212.9px,#00aa88 215.1px,#0000d3 215.5px,#0000d3 218.9px,#0053dd 219.2px,#0053dd 219.7px,#0000d3 220px,#0000d3 220.6px,#810092 221px,#800090 236.5px,#770088 242.8px,#6b007a 244px,#1d0021 251px,#000000 255px,#000000 267px)"></i>
<i style="top:168px;height:16px;background:linear-gradient(90deg,#f0eb00 0px,#f0eb00 1.1px,#7a008b 1.3px,#7a008b 2.2px,#300036 2.4px,#300036 21px,#210026 23px,#210026 48px,#53005f 53px,#770088 54.25px,#7c008d 55.5px,#830094 57px,#880099 57.6px,#6d009c 58px,#0000aa 59px,#0000dd 60.5px,#0077dd 63.5px,#008bdd 72px,#0099dd 76.57px,#009ece 80px,#00aaaa 85.32px,#00aa88 92.92px,#009c1b 99px,#009900 100.5px,#00a500 106px,#00ad00 116px,#00b600 123px,#00bb00 124.2px,#00cc00 128px,#00cc00 146px,#00c200 149px,#00bb00 150.4px,#00a700 154.5px,#00a300 160px,#009900 160.8px,#00aa88 163.5px,#00aaa3 168px,#00aaaa 169.3px,#00a3be 172px,#0099dd 175px,#007edd 182px,#0077dd 182.9px,#0030dd 185.5px,#0000dd 188.5px,#0000ce 197.5px,#0000be 198.3px,#0000dd 198.4px,#0077dd 198.5px,#0099dd 198.6px,#00aaaa 198.7px,#00aa96 198.8px,#00aa96 200.7px,#0000d3 201.1px,#0000d3 202.8px,#0092dd 203.2px,#0092dd 205.1px,#005fdd 205.5px,#0077dd 205.6px,#0092dd 206px,#0099dd 208.6px,#00aaaa 208.8px,#00aa88 208.9px,#009900 209.1px,#009900 210.2px,#0099dd 210.6px,#0099dd 211.1px,#0000d3 211.4px,#0000d3 212.5px,#00aa88 212.9px,#00aa88 215.1px,#0000d3 215.5px,#0000d3 218.9px,#0053dd 219.2px,#0053dd 219.7px,#0000d3 220px,#0000d3 220.6px,#810092 221px,#800090 236.5px,#770088 242.8px,#6b007a 244px,#1d0021 251px,#000000 255px,#000000 267px)"></i>
<i style="top:184px;height:16px;background:linear-gradient(90deg,#f0eb00 0px,#f0eb00 1.1px,#7a008b 1.3px,#7a008b 2.2px,#300036 2.4px,#300036 21px,#210026 23px,#210026 48px,#53005f 53px,#770088 54.25px,#7c008d 55.5px,#830094 57px,#880099 57.6px,#6d009c 58px,#0000aa 59px,#0000dd 60.5px,#0077dd 63.5px,#008bdd 65.5px,#0099dd 69.79px,#009ece 73px,#00aaaa 78.6px,#00aa88 86.6px,#009c1b 93px,#009900 94.5px,#00ac00 106px,#00b400 116px,#00bb00 121.8px,#00bc00 123px,#00d300 128px,#00d300 146px,#00c900 149px,#00bb00 150.6px,#00aa00 152.5px,#00a300 158px,#009900 158.8px,#00aa88 161.5px,#00aaa3 166px,#00aaaa 167.3px,#00a3be 170px,#0099dd 173px,#007edd 180px,#0077dd 180.9px,#0030dd 183.5px,#0000dd 186.5px,#0000ce 197.5px,#0000be 198.3px,#0000dd 198.4px,#0077dd 198.5px,#0099dd 198.6px,#00aaaa 198.7px,#00aa96 198.8px,#00aa96 200.7px,#0000d3 201.1px,#0000d3 202.8px,#0092dd 203.2px,#0092dd 205.1px,#005fdd 205.5px,#0077dd 205.6px,#0092dd 206px,#0099dd 208.6px,#00aaaa 208.8px,#00aa88 208.9px,#009900 209.1px,#009900 210.2px,#0099dd 210.6px,#0099dd 211.1px,#0000d3 211.4px,#0000d3 212.5px,#00aa88 212.9px,#00aa88 215.1px,#0000d3 215.5px,#0000d3 218.9px,#0053dd 219.2px,#0053dd 219.7px,#0000d3 220px,#0000d3 220.6px,#810092 221px,#800090 236.5px,#770088 242.8px,#6b007a 244px,#1d0021 251px,#000000 255px,#000000 267px)"></i>
<i style="top:200px;height:1px;background:linear-gradient(90deg,#f0eb00 0px,#f0eb00 1.1px,#7a008b 1.3px,#7a008b 2.2px,#300036 2.4px,#300036 21px,#210026 23px,#210026 48px,#53005f 53px,#770088 54.25px,#7c008d 55.5px,#830094 57px,#880099 57.6px,#6d009c 58px,#0000aa 59px,#0000dd 60.5px,#0077dd 63.5px,#008bdd 65.5px,#0099dd 68.77px,#0099dc 69px,#00a3be 73px,#00aaaa 75.38px,#00aa9b 78px,#00aa95 79.5px,#00aa88 83.67px,#009c16 93px,#009903 94.5px,#009900 95.14px,#00a600 106px,#00ae00 116px,#00b600 123px,#00bb00 124.1px,#00cc00 128px,#00cc00 146px,#00c200 149px,#00bb00 149.8px,#00ad00 151.5px,#00a700 152.5px,#00a400 157px,#00a000 158px,#009900 158.5px,#00a563 160.5px,#00aa88 161.3px,#00aa8a 161.5px,#00aa9f 165px,#00aaa5 166px,#00aaaa 167.1px,#00a5b9 169px,#00a2c1 170px,#009bd6 172px,#0099dd 172.8px,#0098dd 173px,#0081dd 179px,#007cdd 180px,#0077dd 180.6px,#0043dd 182.5px,#002bdd 183.5px,#000cdd 185.5px,#0000dd 186.4px,#0000dd 186.5px,#0000ce 197.5px,#0000be 198.3px,#0000dd 198.4px,#0077dd 198.5px,#0099dd 198.6px,#00aaaa 198.7px,#00aa96 198.8px,#00aa96 200.7px,#0000d3 201.1px,#0000d3 202.8px,#0092dd 203.2px,#0092dd 205.1px,#005fdd 205.5px,#0077dd 205.6px,#0092dd 206px,#0099dd 208.6px,#00aaaa 208.8px,#00aa88 208.9px,#009900 209.1px,#009900 210.2px,#0099dd 210.6px,#0099dd 211.1px,#0000d3 211.4px,#0000d3 212.5px,#00aa88 212.9px,#00aa88 215.1px,#0000d3 215.5px,#0000d3 218.9px,#0053dd 219.2px,#0053dd 219.7px,#0000d3 220px,#0000d3 220.6px,#810092 221px,#800090 236.5px,#770088 242.8px,#6b007a 244px,#1d0021 251px,#000000 255px,#000000 267px)"></i>
<i style="top:201px;height:16px;background:linear-gradient(90deg,#f0eb00 0px,#f0eb00 1.1px,#7a008b 1.3px,#7a008b 2.2px,#300036 2.4px,#300036 21px,#210026 23px,#210026 48px,#53005f 53px,#770088 54.25px,#7c008d 55.5px,#830094 57px,#880099 57.6px,#6d009c 58px,#0000aa 59px,#0000dd 60.5px,#0077dd 63.5px,#008bdd 65.5px,#0099dd 67.5px,#009ece 69px,#00aaaa 71.52px,#00aa88 75.12px,#009c1b 78px,#009900 79.5px,#009b13 106px,#009900 111.8px,#009c00 116px,#00a500 123px,#00bb00 128px,#00bb00 146px,#00b100 149px,#009e00 151.5px,#00a300 157px,#009900 157.8px,#00aa88 160.5px,#00aaa3 165px,#00aaaa 166.3px,#00a3be 169px,#0099dd 172px,#007edd 179px,#0077dd 179.9px,#0030dd 182.5px,#0000dd 185.5px,#0000ce 197.5px,#0000be 198.3px,#0000dd 198.4px,#0077dd 198.5px,#0099dd 198.6px,#00aaaa 198.7px,#00aa96 198.8px,#00aa96 200.7px,#0000d3 201.1px,#0000d3 202.8px,#0092dd 203.2px,#0092dd 205.1px,#005fdd 205.5px,#0077dd 205.6px,#0092dd 206px,#0099dd 208.6px,#00aaaa 208.8px,#00aa88 208.9px,#009900 209.1px,#009900 210.2px,#0099dd 210.6px,#0099dd 211.1px,#0000d3 211.4px,#0000d3 212.5px,#00aa88 212.9px,#00aa88 215.1px,#0000d3 215.5px,#0000d3 218.9px,#0053dd 219.2px,#0053dd 219.7px,#0000d3 220px,#0000d3 220.6px,#810092 221px,#800090 236.5px,#770088 242.8px,#6b007a 244px,#1d0021 251px,#000000 255px,#000000 267px)"></i>
<i style="top:217px;height:1px;background:linear-gradient(90deg,#f0eb00 0px,#f0eb00 1.1px,#7a008b 1.3px,#7a008b 2.2px,#300036 2.4px,#300036 21px,#210026 23px,#210026 48px,#53005f 53px,#770088 54.25px,#7c008d 55.5px,#830094 57px,#880099 57.6px,#6d009c 58px,#0000aa 59px,#0000dd 60.5px,#0077dd 63.5px,#008bdd 65.5px,#0099dd 67.99px,#009cd5 69px,#00a2c1 71px,#00aaaa 73.5px,#00aa8f 78px,#00aa89 79.5px,#00aa88 80.04px,#009c15 97px,#009a06 98.5px,#009b13 106px,#009900 111.8px,#009c00 116px,#00a500 123px,#00bb00 128px,#00bb00 146px,#00b100 149px,#009e00 151.5px,#00a300 157px,#009900 157.8px,#00aa88 160.5px,#00aaa3 165px,#00aaaa 166.3px,#00a3be 169px,#0099dd 172px,#007edd 179px,#0077dd 179.9px,#0030dd 182.5px,#0000dd 185.5px,#0000ce 197.5px,#0000be 198.3px,#0000dd 198.4px,#0077dd 198.5px,#0099dd 198.6px,#00aaaa 198.7px,#00aa96 198.8px,#00aa96 200.7px,#0000d3 201.1px,#0000d3 202.8px,#0092dd 203.2px,#0092dd 205.1px,#005fdd 205.5px,#0077dd 205.6px,#0092dd 206px,#0099dd 208.6px,#00aaaa 208.8px,#00aa88 208.9px,#009900 209.1px,#009900 210.2px,#0099dd 210.6px,#0099dd 211.1px,#0000d3 211.4px,#0000d3 212.5px,#00aa88 212.9px,#00aa88 215.1px,#0000d3 215.5px,#0000d3 218.9px,#0053dd 219.2px,#0053dd 219.7px,#0000d3 220px,#0000d3 220.6px,#810092 221px,#800090 236.5px,#770088 242.8px,#6b007a 244px,#1d0021 251px,#000000 255px,#000000 267px)"></i>
<i style="top:218px;height:16px;background:linear-gradient(90deg,#f0eb00 0px,#f0eb00 1.1px,#7a008b 1.3px,#7a008b 2.2px,#300036 2.4px,#300036 21px,#210026 23px,#210026 48px,#53005f 53px,#770088 54.25px,#7c008d 55.5px,#830094 57px,#880099 57.6px,#6d009c 58px,#0000aa 59px,#0000dd 60.5px,#0077dd 63.5px,#008bdd 65.5px,#0099dd 68.64px,#009ece 71px,#00aaaa 78.28px,#00aa88 88.68px,#009c1b 97px,#009900 98.5px,#009b13 106px,#009900 111.8px,#009c00 116px,#00a500 123px,#00bb00 128px,#00bb00 146px,#00b100 149px,#009e00 151.5px,#00a300 157px,#009900 157.8px,#00aa88 160.5px,#00aaa3 165px,#00aaaa 166.3px,#00a3be 169px,#0099dd 172px,#007edd 179px,#0077dd 179.9px,#0030dd 182.5px,#0000dd 185.5px,#0000ce 197.5px,#0000be 198.3px,#0000dd 198.4px,#0077dd 198.5px,#0099dd 198.6px,#00aaaa 198.7px,#00aa96 198.8px,#00aa96 200.7px,#0000d3 201.1px,#0000d3 202.8px,#0092dd 203.2px,#0092dd 205.1px,#005fdd 205.5px,#0077dd 205.6px,#0092dd 206px,#0099dd 208.6px,#00aaaa 208.8px,#00aa88 208.9px,#009900 209.1px,#009900 210.2px,#0099dd 210.6px,#0099dd 211.1px,#0000d3 211.4px,#0000d3 212.5px,#00aa88 212.9px,#00aa88 215.1px,#0000d3 215.5px,#0000d3 218.9px,#0053dd 219.2px,#0053dd 219.7px,#0000d3 220px,#0000d3 220.6px,#810092 221px,#800090 236.5px,#770088 242.8px,#6b007a 244px,#1d0021 251px,#000000 255px,#000000 267px)"></i>
<i style="top:234px;height:1px;background:linear-gradient(90deg,#f0eb00 0px,#f0eb00 1.1px,#7a008b 1.3px,#7a008b 2.2px,#300036 2.4px,#300036 21px,#210026 23px,#210026 48px,#53005f 53px,#770088 54.25px,#7c008d 55.5px,#830094 57px,#880099 57.6px,#6d009c 58px,#0000aa 59px,#0000dd 60.5px,#0077dd 63.5px,#0081dd 65.5px,#008edd 69px,#0095dd 71px,#0099dd 72.45px,#00a0c8 77px,#00aaaa 82.18px,#00aa88 90.88px,#009e28 97px,#009c18 98px,#009b0f 98.5px,#009900 99.5px,#00bb00 99.66px,#00dd00 99.82px,#00ff00 99.98px,#8eff00 100.1px,#8dff00 101.1px,#00a500 101.5px,#00a500 106px,#00ad00 116px,#00b500 123px,#00bb00 124.3px,#00cc00 128px,#00cc00 146px,#00c100 149px,#00bb00 149.6px,#00a600 151.5px,#00a300 157px,#009900 157.8px,#00aa88 160.5px,#00aaa3 165px,#00aaaa 166.3px,#00a3be 169px,#0099dd 172px,#007edd 179px,#0077dd 179.9px,#0030dd 182.5px,#0000dd 185.5px,#0000ce 197.5px,#0000be 198.3px,#0000dd 198.4px,#0077dd 198.5px,#0099dd 198.6px,#00aaaa 198.7px,#00aa96 198.8px,#00aa96 200.7px,#0000d3 201.1px,#0000d3 202.8px,#0092dd 203.2px,#0092dd 205.1px,#005fdd 205.5px,#0077dd 205.6px,#0092dd 206px,#0099dd 208.6px,#00aaaa 208.8px,#00aa88 208.9px,#009900 209.1px,#009900 210.2px,#0099dd 210.6px,#0099dd 211.1px,#0000d3 211.4px,#0000d3 212.5px,#00aa88 212.9px,#00aa88 215.1px,#0000d3 215.5px,#0000d3 218.9px,#0053dd 219.2px,#0053dd 219.7px,#0000d3 220px,#0000d3 220.6px,#810092 221px,#800090 236.5px,#770088 242.8px,#6b007a 244px,#1d0021 251px,#000000 255px,#000000 267px)"></i>
<i style="top:235px;height:15px;background:linear-gradient(90deg,#f0eb00 0px,#f0eb00 1.1px,#7a008b 1.3px,#7a008b 2.2px,#300036 2.4px,#300036 21px,#210026 23px,#210026 48px,#53005f 53px,#770088 54.25px,#7c008d 55.5px,#830094 57px,#880099 57.6px,#6d009c 58px,#0000aa 59px,#0000dd 60.5px,#0077dd 63.5px,#008bdd 69px,#0099dd 73.57px,#009ece 77px,#00aaaa 82.88px,#00aa88 91.28px,#009c1b 98px,#009900 99.5px,#00bb00 99.63px,#00dd00 99.76px,#00ff00 99.89px,#bbff00 100px,#daf500 100.1px,#daf500 101.1px,#00a900 101.5px,#00a900 106px,#00b100 116px,#00b900 123px,#00bb00 123.5px,#00cf00 128px,#00cf00 146px,#00c500 149px,#00bb00 149.9px,#00a800 151.5px,#00a300 157px,#009900 157.8px,#00aa88 160.5px,#00aaa3 165px,#00aaaa 166.3px,#00a3be 169px,#0099dd 172px,#007edd 179px,#0077dd 179.9px,#0030dd 182.5px,#0000dd 185.5px,#0000ce 197.5px,#0000be 198.3px,#0000dd 198.4px,#0077dd 198.5px,#0099dd 198.6px,#00aaaa 198.7px,#00aa96 198.8px,#00aa96 200.7px,#0000d3 201.1px,#0000d3 202.8px,#0092dd 203.2px,#0092dd 205.1px,#005fdd 205.5px,#0077dd 205.6px,#0092dd 206px,#0099dd 208.6px,#00aaaa 208.8px,#00aa88 208.9px,#009900 209.1px,#009900 210.2px,#0099dd 210.6px,#0099dd 211.1px,#0000d3 211.4px,#0000d3 212.5px,#00aa88 212.9px,#00aa88 215.1px,#0000d3 215.5px,#0000d3 218.9px,#0053dd 219.2px,#0053dd 219.7px,#0000d3 220px,#0000d3 220.6px,#810092 221px,#800090 236.5px,#770088 242.8px,#6b007a 244px,#1d0021 251px,#000000 255px,#000000 267px)"></i>
<i style="top:250px;height:1px;background:linear-gradient(90deg,#f0eb00 0px,#f0eb00 1.1px,#7a008b 1.3px,#7a008b 2.2px,#300036 2.4px,#300036 21px,#210026 23px,#210026 48px,#53005f 53px,#770088 54.25px,#7c008d 55.5px,#830094 57px,#880099 57.6px,#6d009c 58px,#0000aa 59px,#0000dd 60.5px,#0077dd 63.5px,#008bdd 69px,#0094dd 72px,#0099dd 73.84px,#009ecf 77px,#00a4bd 80px,#00aaaa 83.12px,#00aa88 91.44px,#009d1d 98px,#009a0b 99px,#009902 99.5px,#009900 99.5px,#00bb00 99.64px,#00dd00 99.79px,#00ff00 99.93px,#bbff00 100.1px,#c4fc00 100.1px,#c4fc00 100.5px,#c4fc00 101.1px,#00a700 101.5px,#00a800 106px,#00b000 116px,#00b900 123px,#00bb00 123.5px,#00cf00 128px,#00cf00 146px,#00c500 149px,#00bb00 149.9px,#00a800 151.5px,#00a300 157px,#009900 157.8px,#00aa88 160.5px,#00aaa3 165px,#00aaaa 166.3px,#00a3be 169px,#0099dd 172px,#007edd 179px,#0077dd 179.9px,#0030dd 182.5px,#0000dd 185.5px,#0000ce 197.5px,#0000be 198.3px,#0000dd 198.4px,#0077dd 198.5px,#0099dd 198.6px,#00aaaa 198.7px,#00aa96 198.8px,#00aa96 200.7px,#0000d3 201.1px,#0000d3 202.8px,#0092dd 203.2px,#0092dd 205.1px,#005fdd 205.5px,#0077dd 205.6px,#0092dd 206px,#0099dd 208.6px,#00aaaa 208.8px,#00aa88 208.9px,#009900 209.1px,#009900 210.2px,#0099dd 210.6px,#0099dd 211.1px,#0000d3 211.4px,#0000d3 212.5px,#00aa88 212.9px,#00aa88 215.1px,#0000d3 215.5px,#0000d3 218.9px,#0053dd 219.2px,#0053dd 219.7px,#0000d3 220px,#0000d3 220.6px,#810092 221px,#800090 236.5px,#770088 242.8px,#6b007a 244px,#1d0021 251px,#000000 255px,#000000 267px)"></i>
<i style="top:251px;height:16px;background:linear-gradient(90deg,#f0eb00 0px,#f0eb00 1.1px,#7a008b 1.3px,#7a008b 2.2px,#300036 2.4px,#300036 21px,#210026 23px,#210026 48px,#53005f 53px,#770088 54.25px,#7c008d 55.5px,#830094 57px,#880099 57.6px,#6d009c 58px,#0000aa 59px,#0000dd 60.5px,#0077dd 63.5px,#008bdd 72px,#0099dd 76.57px,#009ece 80px,#00aaaa 85.32px,#00aa88 92.92px,#009c1b 99px,#009900 100.5px,#00a500 106px,#00ad00 116px,#00b600 123px,#00bb00 124.2px,#00cc00 128px,#00cc00 146px,#00c200 149px,#00bb00 149.6px,#00a700 151.5px,#00a300 157px,#009900 157.8px,#00aa88 160.5px,#00aaa3 165px,#00aaaa 166.3px,#00a3be 169px,#0099dd 172px,#007edd 179px,#0077dd 179.9px,#0030dd 182.5px,#0000dd 185.5px,#0000ce 197.5px,#0000be 198.3px,#0000dd 198.4px,#0077dd 198.5px,#0099dd 198.6px,#00aaaa 198.7px,#00aa96 198.8px,#00aa96 200.7px,#0000d3 201.1px,#0000d3 202.8px,#0092dd 203.2px,#0092dd 205.1px,#005fdd 205.5px,#0077dd 205.6px,#0092dd 206px,#0099dd 208.6px,#00aaaa 208.8px,#00aa88 208.9px,#009900 209.1px,#009900 210.2px,#0099dd 210.6px,#0099dd 211.1px,#0000d3 211.4px,#0000d3 212.5px,#00aa88 212.9px,#00aa88 215.1px,#0000d3 215.5px,#0000d3 218.9px,#0053dd 219.2px,#0053dd 219.7px,#0000d3 220px,#0000d3 220.6px,#810092 221px,#800090 236.5px,#770088 242.8px,#6b007a 244px,#1d0021 251px,#000000 255px,#000000 267px)"></i>
<i style="top:267px;height:1px;background:linear-gradient(90deg,#f0eb00 0px,#f0eb00 1.1px,#7a008b 1.3px,#7a008b 2.2px,#300036 2.4px,#300036 21px,#210026 23px,#210026 48px,#53005f 53px,#770088 54.25px,#7c008d 55.5px,#830094 57px,#880099 57.6px,#6d009c 58px,#0000aa 59px,#0000dd 60.5px,#0077dd 63.5px,#0084dd 67px,#0091dd 72px,#0099dd 74.75px,#0099dc 75px,#00a2c3 80px,#00aaaa 83.95px,#00aa88 91.94px,#009f32 97px,#009c17 98.5px,#009b0f 99px,#009900 99.95px,#009b00 100.5px,#00a900 106px,#00b100 116px,#00b900 123px,#00bb00 123.4px,#00d000 128px,#00d000 146px,#00c600 149px,#00bb00 149.7px,#00af00 150.5px,#00a800 151.5px,#00a400 156px,#009f00 157px,#009900 157.4px,#00a668 159.5px,#00aa88 160.3px,#00aa8a 160.5px,#00aa9f 164px,#00aaa5 165px,#00aaaa 166px,#00a5ba 168px,#00a2c2 169px,#009bd7 171px,#0099dd 171.8px,#0098dd 172px,#0080dd 178px,#007bdd 179px,#0077dd 179.5px,#0041dd 181.5px,#002add 182.5px,#000add 184.5px,#0000dd 185.4px,#0000dd 185.5px,#0000ce 197.5px,#0000be 198.3px,#0000dd 198.4px,#0077dd 198.5px,#0099dd 198.6px,#00aaaa 198.7px,#00aa96 198.8px,#00aa96 200.7px,#0000d3 201.1px,#0000d3 202.8px,#0092dd 203.2px,#0092dd 205.1px,#005fdd 205.5px,#0077dd 205.6px,#0092dd 206px,#0099dd 208.6px,#00aaaa 208.8px,#00aa88 208.9px,#009900 209.1px,#009900 210.2px,#0099dd 210.6px,#0099dd 211.1px,#0000d3 211.4px,#0000d3 212.5px,#00aa88 212.9px,#00aa88 215.1px,#0000d3 215.5px,#0000d3 218.9px,#0053dd 219.2px,#0053dd 219.7px,#0000d3 220px,#0000d3 220.6px,#810092 221px,#800090 236.5px,#770088 242.8px,#6b007a 244px,#1d0021 251px,#000000 255px,#000000 267px)"></i>
<i style="top:268px;height:16px;background:linear-gradient(90deg,#f0eb00 0px,#f0eb00 1.1px,#7a008b 1.3px,#7a008b 2.2px,#300036 2.4px,#300036 21px,#210026 23px,#210026 48px,#53005f 53px,#770088 54.25px,#7c008d 55.5px,#830094 57px,#880099 57.6px,#6d009c 58px,#0000aa 59px,#0000dd 60.5px,#0077dd 63.5px,#008bdd 67px,#0099dd 71.57px,#009ece 75px,#00aaaa 81.16px,#00aa88 89.96px,#009c1b 97px,#009900 98.5px,#00af00 106px,#00b800 116px,#00bb00 118.9px,#00c000 123px,#00d600 128px,#00d600 146px,#00cc00 149px,#00bb00 149.8px,#00ac00 150.5px,#00a300 156px,#009900 156.8px,#00aa88 159.5px,#00aaa3 164px,#00aaaa 165.3px,#00a3be 168px,#0099dd 171px,#007edd 178px,#0077dd 178.9px,#0030dd 181.5px,#0000dd 184.5px,#0000ce 197.5px,#0000be 198.3px,#0000dd 198.4px,#0077dd 198.5px,#0099dd 198.6px,#00aaaa 198.7px,#00aa96 198.8px,#00aa96 200.7px,#0000d3 201.1px,#0000d3 202.8px,#0092dd 203.2px,#0092dd 205.1px,#005fdd 205.5px,#0077dd 205.6px,#0092dd 206px,#0099dd 208.6px,#00aaaa 208.8px,#00aa88 208.9px,#009900 209.1px,#009900 210.2px,#0099dd 210.6px,#0099dd 211.1px,#0000d3 211.4px,#0000d3 212.5px,#00aa88 212.9px,#00aa88 215.1px,#0000d3 215.5px,#0000d3 218.9px,#0053dd 219.2px,#0053dd 219.7px,#0000d3 220px,#0000d3 220.6px,#810092 221px,#800090 236.5px,#770088 242.8px,#6b007a 244px,#1d0021 251px,#000000 255px,#000000 267px)"></i>
<i style="top:284px;height:1px;background:linear-gradient(90deg,#f0eb00 0px,#f0eb00 1.1px,#7a008b 1.3px,#7a008b 2.2px,#300036 2.4px,#300036 21px,#210026 23px,#210026 48px,#53005f 53px,#770088 54.25px,#7c008d 55.5px,#830094 57px,#880099 57.6px,#6d009c 58px,#0000aa 59px,#0000dd 60.5px,#0077dd 63.5px,#0083dd 67px,#0093dd 74px,#0096dd 75px,#0099dd 75.93px,#00a3bf 82px,#00aaaa 85.11px,#00aa88 92.67px,#00a03a 97px,#009d1e 98.5px,#009b0d 99.5px,#009900 100.3px,#009c00 101px,#00af00 106px,#00b800 116px,#00bb00 118.9px,#00c000 123px,#00d600 128px,#00d600 146px,#00cc00 149px,#00bb00 149.8px,#00ac00 150.5px,#00a300 156px,#009900 156.8px,#00aa88 159.5px,#00aaa3 164px,#00aaaa 165.3px,#00a3be 168px,#0099dd 171px,#007edd 178px,#0077dd 178.9px,#0030dd 181.5px,#0000dd 184.5px,#0000ce 197.5px,#0000be 198.3px,#0000dd 198.4px,#0077dd 198.5px,#0099dd 198.6px,#00aaaa 198.7px,#00aa96 198.8px,#00aa96 200.7px,#0000d3 201.1px,#0000d3 202.8px,#0092dd 203.2px,#0092dd 205.1px,#005fdd 205.5px,#0077dd 205.6px,#0092dd 206px,#0099dd 208.6px,#00aaaa 208.8px,#00aa88 208.9px,#009900 209.1px,#009900 210.2px,#0099dd 210.6px,#0099dd 211.1px,#0000d3 211.4px,#0000d3 212.5px,#00aa88 212.9px,#00aa88 215.1px,#0000d3 215.5px,#0000d3 218.9px,#0053dd 219.2px,#0053dd 219.7px,#0000d3 220px,#0000d3 220.6px,#810092 221px,#800090 236.5px,#770088 242.8px,#6b007a 244px,#1d0021 251px,#000000 255px,#000000 267px)"></i>
<i style="top:285px;height:16px;background:linear-gradient(90deg,#f0eb00 0px,#f0eb00 1.1px,#7a008b 1.3px,#7a008b 2.2px,#300036 2.4px,#300036 21px,#210026 23px,#210026 48px,#53005f 53px,#770088 54.25px,#7c008d 55.5px,#830094 57px,#880099 57.6px,#6d009c 58px,#0000aa 59px,#0000dd 60.5px,#0077dd 63.5px,#008bdd 74px,#0099dd 78.57px,#009ece 82px,#00aaaa 86.9px,#00aa88 93.9px,#009c1b 99.5px,#009900 101px,#00af00 106px,#00b800 116px,#00bb00 118.9px,#00c000 123px,#00d600 128px,#00d600 146px,#00cc00 149px,#00bb00 149.8px,#00ac00 150.5px,#00a300 156px,#009900 156.8px,#00aa88 159.5px,#00aaa3 164px,#00aaaa 165.3px,#00a3be 168px,#0099dd 171px,#007edd 178px,#0077dd 178.9px,#0030dd 181.5px,#0000dd 184.5px,#0000ce 197.5px,#0000be 198.3px,#0000dd 198.4px,#0077dd 198.5px,#0099dd 198.6px,#00aaaa 198.7px,#00aa96 198.8px,#00aa96 200.7px,#0000d3 201.1px,#0000d3 202.8px,#0092dd 203.2px,#0092dd 205.1px,#005fdd 205.5px,#0077dd 205.6px,#0092dd 206px,#0099dd 208.6px,#00aaaa 208.8px,#00aa88 208.9px,#009900 209.1px,#009900 210.2px,#0099dd 210.6px,#0099dd 211.1px,#0000d3 211.4px,#0000d3 212.5px,#00aa88 212.9px,#00aa88 215.1px,#0000d3 215.5px,#0000d3 218.9px,#0053dd 219.2px,#0053dd 219.7px,#0000d3 220px,#0000d3 220.6px,#810092 221px,#800090 236.5px,#770088 242.8px,#6b007a 244px,#1d0021 251px,#000000 255px,#000000 267px)"></i>
<i style="top:301px;height:1px;background:linear-gradient(90deg,#f0eb00 0px,#f0eb00 1.1px,#7a008b 1.3px,#7a008b 2.2px,#300036 2.4px,#300036 21px,#210026 23px,#210026 48px,#53005f 53px,#770088 54.25px,#7c008d 55.5px,#830094 57px,#880099 57.6px,#6d009c 58px,#0000aa 59px,#0000dd 60.5px,#0077dd 63.5px,#008add 67px,#0099dd 72.15px,#009cd5 74px,#009dd1 75px,#00aaaa 78.83px,#00aa95 82px,#00aa88 83.85px,#009f31 87px,#009c16 88.5px,#009900 92.87px,#00a100 99.5px,#00a300 101px,#00a900 106px,#00b100 116px,#00ba00 123px,#00bb00 123.3px,#00d000 128px,#00d000 146px,#00c600 149px,#00bb00 149.6px,#00a900 150.5px,#00a300 156px,#009900 156.8px,#00aa88 159.5px,#00aaa3 164px,#00aaaa 165.3px,#00a3be 168px,#0099dd 171px,#007edd 178px,#0077dd 178.9px,#0030dd 181.5px,#0000dd 184.5px,#0000ce 197.5px,#0000be 198.3px,#0000dd 198.4px,#0077dd 198.5px,#0099dd 198.6px,#00aaaa 198.7px,#00aa96 198.8px,#00aa96 200.7px,#0000d3 201.1px,#0000d3 202.8px,#0092dd 203.2px,#0092dd 205.1px,#005fdd 205.5px,#0077dd 205.6px,#0092dd 206px,#0099dd 208.6px,#00aaaa 208.8px,#00aa88 208.9px,#009900 209.1px,#009900 210.2px,#0099dd 210.6px,#0099dd 211.1px,#0000d3 211.4px,#0000d3 212.5px,#00aa88 212.9px,#00aa88 215.1px,#0000d3 215.5px,#0000d3 218.9px,#0053dd 219.2px,#0053dd 219.7px,#0000d3 220px,#0000d3 220.6px,#810092 221px,#800090 236.5px,#770088 242.8px,#6b007a 244px,#1d0021 251px,#000000 255px,#000000 267px)"></i>
<i style="top:302px;height:15px;background:linear-gradient(90deg,#f0eb00 0px,#f0eb00 1.1px,#7a008b 1.3px,#7a008b 2.2px,#300036 2.4px,#300036 21px,#210026 23px,#210026 48px,#53005f 53px,#770088 54.25px,#7c008d 55.5px,#830094 57px,#880099 57.6px,#6d009c 58px,#0000aa 59px,#0000dd 60.5px,#0077dd 63.5px,#008bdd 67px,#0099dd 71.57px,#009ece 75px,#00aaaa 78.36px,#00aa88 83.16px,#009c1b 87px,#009900 88.5px,#00a900 106px,#00b100 116px,#00b900 123px,#00bb00 123.5px,#00cf00 128px,#00cf00 146px,#00c500 149px,#00bb00 149.5px,#00a800 150.5px,#00a300 156px,#009900 156.8px,#00aa88 159.5px,#00aaa3 164px,#00aaaa 165.3px,#00a3be 168px,#0099dd 171px,#007edd 178px,#0077dd 178.9px,#0030dd 181.5px,#0000dd 184.5px,#0000ce 197.5px,#0000be 198.3px,#0000dd 198.4px,#0077dd 198.5px,#0099dd 198.6px,#00aaaa 198.7px,#00aa96 198.8px,#00aa96 200.7px,#0000d3 201.1px,#0000d3 202.8px,#0092dd 203.2px,#0092dd 205.1px,#005fdd 205.5px,#0077dd 205.6px,#0092dd 206px,#0099dd 208.6px,#00aaaa 208.8px,#00aa88 208.9px,#009900 209.1px,#009900 210.2px,#0099dd 210.6px,#0099dd 211.1px,#0000d3 211.4px,#0000d3 212.5px,#00aa88 212.9px,#00aa88 215.1px,#0000d3 215.5px,#0000d3 218.9px,#0053dd 219.2px,#0053dd 219.7px,#0000d3 220px,#0000d3 220.6px,#810092 221px,#800090 236.5px,#770088 242.8px,#6b007a 244px,#1d0021 251px,#000000 255px,#000000 267px)"></i>
<i style="top:317px;height:1px;background:linear-gradient(90deg,#f0eb00 0px,#f0eb00 1.1px,#7a008b 1.3px,#7a008b 2.2px,#300036 2.4px,#300036 20px,#2f0036 21px,#28002e 22px,#230028 23px,#230028 48px,#4c0056 53px,#770088 54.86px,#79008a 55.5px,#7f0090 57px,#860097 58px,#880099 58.21px,#4200a2 59px,#0000aa 59.89px,#0000bb 60.5px,#0000dd 62.94px,#0012dd 63.5px,#001bdd 64px,#0050dd 67px,#005add 68px,#0077dd 71.37px,#0080dd 75px,#0099dd 79.29px,#00a1c5 82px,#00aaaa 85.05px,#00aa9e 87px,#00aa99 88.5px,#00aa8c 106px,#00aa88 111.9px,#00a97d 116px,#00a76e 120px,#00a664 123px,#00a456 124px,#009c1b 128px,#009d1c 146px,#00a13e 149px,#00a97d 150px,#00aa88 150.2px,#00aa8d 150.5px,#00aa92 156px,#00aaaa 158.3px,#00a4bc 159.5px,#0099dd 163.9px,#0099dd 164px,#0088dd 168px,#0077dd 171px,#0077dd 171.1px,#002add 178px,#0000dd 179.9px,#0000ce 181.5px,#0000bd 184.5px,#0000b0 197.5px,#0000aa 197.9px,#1100a8 198.3px,#0000aa 198.3px,#0000dd 198.5px,#0077dd 198.6px,#0099dd 198.8px,#009ecd 198.8px,#009ecd 200.7px,#0000b4 201.1px,#0000b4 202.8px,#0064dd 203.2px,#0064dd 205.1px,#0002dd 205.5px,#0064dd 206px,#0077dd 208.6px,#0099dd 208.8px,#00aaaa 209px,#00aa9b 209.1px,#00aa9b 210.2px,#0077dd 210.6px,#0077dd 211.1px,#0000b4 211.4px,#0000b4 212.5px,#00a4bd 212.9px,#00a4bd 215.1px,#0000b4 215.5px,#0000b4 218.9px,#0000da 219.2px,#0000da 219.7px,#0000b4 220px,#0000b4 220.6px,#7e008f 221px,#7c008d 236px,#7c008d 236.5px,#770088 240.9px,#5d006a 244px,#17001b 251px,#000000 255px,#000000 267px)"></i>
<i style="top:318px;height:16px;background:linear-gradient(90deg,#f0eb00 0px,#f0eb00 1.1px,#7a008b 1.3px,#7a008b 2.2px,#300036 2.4px,#300036 20px,#28002e 22px,#28002e 64px,#43004c 68px,#4c0057 82px,#5d006a 87px,#5f006d 120px,#53005f 124px,#4f005a 150px,#43004c 156px,#390041 236px,#1d0021 244px,#000000 251px,#000000 267px)"></i>
<i style="top:334px;height:1px;background:linear-gradient(90deg,#f0eb00 0px,#f0eb00 1.1px,#7a008b 1.3px,#7a008b 2.2px,#300036 2.4px,#300036 20px,#230028 22px,#230028 43px,#41004b 45.5px,#6d007c 47px,#770088 47.36px,#7c008d 48.5px,#880099 49.99px,#870099 50px,#0000aa 52.53px,#0000b3 53px,#0000dd 54.58px,#0057dd 56px,#0077dd 57.63px,#008ddd 61.5px,#0098dd 64px,#0099dd 64.22px,#009bd7 65px,#00a3be 68px,#00a4bb 68.5px,#00aaaa 74.83px,#00aaaa 75px,#00aa9e 81px,#00aa9e 82px,#00aa99 87px,#00aa97 92px,#00aa91 97.5px,#00aa90 106.2px,#00aa90 108px,#00aa95 111px,#00aa97 120px,#00aa9a 124px,#00aa9c 133px,#00aaa4 138.5px,#00aaaa 142.2px,#00a9ac 143px,#00a6b6 150px,#00a5b9 152px,#00a3c0 156px,#009ece 160px,#0099dc 164px,#0099dd 164.3px,#0091dd 167px,#008add 177px,#0077dd 180.5px,#0064dd 181.5px,#002ddd 185px,#0002dd 187px,#0000dd 187.3px,#0000cd 193px,#0000c2 197px,#0000af 198.6px,#0000c4 198.9px,#0000c4 200.2px,#0000aa 200.6px,#0000aa 202.8px,#0000bd 203.2px,#0000bd 204.4px,#0000aa 204.8px,#0000aa 208.8px,#0000c6 209.2px,#0000c6 210.4px,#0000cb 210.8px,#0000cb 212.2px,#2500a5 212.5px,#2500a5 213px,#0000cb 213.3px,#0000ca 215.4px,#7c009b 215.8px,#7c009b 219px,#1900a7 219.3px,#1900a7 220.1px,#850096 220.4px,#830094 225px,#820093 228px,#7b008c 236px,#79008a 238px,#770088 239.7px,#6a0079 241px,#5f006c 244px,#570063 246px,#28002e 250px,#1c0020 251px,#000000 254px,#000000 267px)"></i>
<i style="top:335px;height:16px;background:linear-gradient(90deg,#f0eb00 0px,#f0eb00 1.1px,#7a008b 1.3px,#7a008b 2.2px,#300036 2.4px,#300036 20px,#1d0021 22px,#1d0021 43px,#5f006d 45.5px,#770088 45.88px,#810092 47px,#880099 47.75px,#5200a0 48.5px,#0000aa 49.06px,#0000dd 50px,#0077dd 51.15px,#0099dd 52.31px,#00a3be 53px,#00aaaa 53.35px,#00aa88 54.24px,#009900 55.12px,#00bb00 56px,#00dd00 58.75px,#00ff00 61.5px,#bbff00 65px,#eeee00 68.5px,#fad600 75px,#ffcc00 77.57px,#ffb800 81px,#ffa800 92px,#ff9900 96.12px,#ff8a00 97.5px,#ff8a00 106.2px,#ff8a00 108px,#ff9900 109px,#ffa300 111px,#ffb200 133px,#ffcc00 138.5px,#f6dd00 143px,#eeee00 152px,#e4f100 156px,#c5fc00 160px,#bbff00 161.3px,#70ff00 164px,#00ff00 167px,#00f100 177px,#00dd00 178.7px,#00bb00 181.5px,#009900 185px,#00a76d 187px,#00aa88 188.7px,#00aa99 193px,#00aaaa 197px,#009cd3 198.6px,#00aaa7 198.9px,#00aaa7 200.2px,#0099dd 200.6px,#0099dd 202.8px,#00a7b4 203.2px,#00a7b4 204.4px,#0099dd 204.8px,#0099dd 208.8px,#00aaa3 209.2px,#00aaa3 210.4px,#00aa9c 210.8px,#00aa9c 212.2px,#0085dd 212.5px,#0085dd 213px,#00aa9c 213.3px,#00aa9c 215.4px,#0000dd 215.8px,#0000dd 219px,#008bdd 219.3px,#008bdd 220.1px,#0000be 220.4px,#0000af 225px,#0000aa 228px,#880099 238px,#810092 241px,#7e008f 246px,#770088 248.3px,#53005f 250px,#000000 254px,#000000 267px)"></i>
<i style="top:351px;height:1px;background:linear-gradient(90deg,#f0eb00 0px,#f0eb00 1.1px,#7a008b 1.3px,#7a008b 2.2px,#300036 2.4px,#300036 20px,#1d0021 22px,#1d0021 43px,#5f006d 45.5px,#770088 45.88px,#810092 47px,#880099 47.75px,#5200a0 48.5px,#0000aa 49.06px,#0000dd 50px,#0077dd 51.15px,#0099dd 52.31px,#00a3be 53px,#00aaaa 53.35px,#00aa88 54.24px,#009900 55.12px,#00bb00 56px,#00dd00 58.75px,#00ff00 61.5px,#bbff00 65px,#eeee00 68.5px,#fad600 75px,#ffcc00 77.57px,#ffb800 81px,#ffa800 92px,#ff9900 96.12px,#ff8a00 97.5px,#ff8a00 106.2px,#ff6400 106.5px,#ff6400 107.9px,#ff8a00 108px,#ff9900 109px,#ffa300 111px,#ffb200 133px,#ffcc00 138.5px,#f6dd00 143px,#eeee00 152px,#e4f100 156px,#c5fc00 160px,#bbff00 161.3px,#70ff00 164px,#00ff00 167px,#00f100 177px,#00dd00 178.7px,#00bb00 181.5px,#009900 185px,#00a76d 187px,#00aa88 188.7px,#00aa99 193px,#00aaaa 197px,#009cd3 198.6px,#00aaa7 198.9px,#00aaa7 200.2px,#0099dd 200.6px,#0099dd 202.8px,#00a7b4 203.2px,#00a7b4 204.4px,#0099dd 204.8px,#0099dd 208.8px,#00aaa3 209.2px,#00aaa3 210.4px,#00aa9c 210.8px,#00aa9c 212.2px,#0085dd 212.5px,#0085dd 213px,#00aa9c 213.3px,#00aa9c 215.4px,#0000dd 215.8px,#0000dd 219px,#008bdd 219.3px,#008bdd 220.1px,#0000be 220.4px,#0000af 225px,#0000aa 228px,#880099 238px,#810092 241px,#7e008f 246px,#770088 248.3px,#53005f 250px,#000000 254px,#000000 267px)"></i>
<i style="top:352px;height:16px;background:linear-gradient(90deg,#f0eb00 0px,#f0eb00 1.1px,#7a008b 1.3px,#7a008b 2.2px,#300036 2.4px,#300036 20px,#1d0021 22px,#1d0021 43px,#5f006d 45.5px,#770088 45.88px,#810092 47px,#880099 47.75px,#5200a0 48.5px,#0000aa 49.06px,#0000dd 50px,#0077dd 51.15px,#0099dd 52.31px,#00a3be 53px,#00aaaa 53.35px,#00aa88 54.24px,#009900 55.12px,#00bb00 56px,#00dd00 58.75px,#00ff00 61.5px,#bbff00 65px,#eeee00 68.5px,#fad600 75px,#ffcc00 77.57px,#ffb800 81px,#ffa800 92px,#ff9900 96.12px,#ff8a00 97.5px,#ff8a00 106.2px,#ff5600 106.5px,#ff5600 107.9px,#ff8a00 108px,#ff9900 109px,#ffa300 111px,#ffb200 133px,#ffcc00 138.5px,#f6dd00 143px,#eeee00 152px,#e4f100 156px,#c5fc00 160px,#bbff00 161.3px,#70ff00 164px,#00ff00 167px,#00f100 177px,#00dd00 178.7px,#00bb00 181.5px,#009900 185px,#00a76d 187px,#00aa88 188.7px,#00aa99 193px,#00aaaa 197px,#009cd3 198.6px,#00aaa7 198.9px,#00aaa7 200.2px,#0099dd 200.6px,#0099dd 202.8px,#00a7b4 203.2px,#00a7b4 204.4px,#0099dd 204.8px,#0099dd 208.8px,#00aaa3 209.2px,#00aaa3 210.4px,#00aa9c 210.8px,#00aa9c 212.2px,#0085dd 212.5px,#0085dd 213px,#00aa9c 213.3px,#00aa9c 215.4px,#0000dd 215.8px,#0000dd 219px,#008bdd 219.3px,#008bdd 220.1px,#0000be 220.4px,#0000af 225px,#0000aa 228px,#880099 238px,#810092 241px,#7e008f 246px,#770088 248.3px,#53005f 250px,#000000 254px,#000000 267px)"></i>
</div>
<div class="p" style="left:328px">
<i style="top:0px;height:16px;background:linear-gradient(90deg,#2dff00 0px,#2dff00 1.1px,#7a008b 1.3px,#7a008b 2.2px,#300036 2.4px,#300036 9px,#210026 11px,#210026 43px,#5f006d 45.5px,#770088 45.88px,#810092 47px,#880099 48px,#5200a0 49px,#0000aa 49.56px,#0000dd 50.5px,#0077dd 51.58px,#0099dd 52.65px,#00a3be 53.3px,#00aaaa 53.74px,#00aa88 54.82px,#009900 55.91px,#00bb00 57px,#00dd00 59.5px,#00ff00 62px,#bbff00 66.5px,#eeee00 72px,#f6dd00 81px,#ffcc00 86px,#ffc700 100px,#ffc700 109px,#ffb200 110px,#ffb200 110.8px,#ffcc00 111.3px,#fad600 111.6px,#f5e000 120px,#f0eb00 127px,#eeee00 131.3px,#e4f100 140px,#bbff00 147px,#00ff00 153px,#00ee00 171px,#00dd00 172.3px,#00bb00 175px,#009900 179.5px,#00a76d 181.5px,#00aa88 183.7px,#00aa96 188px,#00aaa7 192px,#00aaaa 192.4px,#00a0c9 194.5px,#0099dd 198.3px,#00aa96 198.7px,#00aa96 200.2px,#009cd3 200.6px,#009cd3 202.2px,#00aaa3 202.6px,#00aaa3 204.2px,#0099dd 204.6px,#0099dd 206px,#00aa92 206.4px,#00aa92 209px,#00a7b4 209.4px,#00a5b9 213.6px,#00aaa3 214px,#00aaaa 216.4px,#0000be 216.8px,#0000be 217.8px,#0099dd 218.2px,#0099dd 220.4px,#0000b9 220.8px,#0000af 226px,#0000aa 228px,#880099 237px,#810092 240px,#7d008e 245px,#770088 247.4px,#470052 250px,#000000 254px,#000000 267px)"></i>
<i style="top:16px;height:1px;background:linear-gradient(90deg,#2dff00 0px,#2dff00 1.1px,#7a008b 1.3px,#7a008b 2.2px,#300036 2.4px,#300036 9px,#210026 11px,#210026 43px,#5f006d 45.5px,#770088 45.88px,#810092 47px,#880099 48px,#5200a0 49px,#0000aa 49.56px,#0000dd 50.5px,#0077dd 51.58px,#0099dd 52.65px,#00a3be 53.3px,#00aaaa 53.74px,#00aa88 54.82px,#009900 55.91px,#00bb00 57px,#00dd00 59.5px,#00ff00 62px,#bbff00 66.5px,#eeee00 72px,#f6dd00 81px,#ffcd00 86px,#ffcc00 89.82px,#ffc800 100px,#ffc800 109px,#ffb400 110px,#ffb400 110.8px,#ffcc00 111.3px,#f9d700 111.6px,#f5e000 120px,#f0eb00 127px,#eeee00 131.3px,#e4f100 140px,#bbff00 147px,#00ff00 153px,#00ee00 171px,#00dd00 172.3px,#00bb00 175px,#009900 179.5px,#00a76d 181.5px,#00aa88 183.7px,#00aa96 188px,#00aaa7 192px,#00aaaa 192.4px,#00a0c9 194.5px,#0099dd 198.3px,#00aa96 198.7px,#00aa96 200.2px,#009cd3 200.6px,#009cd3 202.2px,#00aaa3 202.6px,#00aaa3 204.2px,#0099dd 204.6px,#0099dd 206px,#00aa92 206.4px,#00aa92 209px,#00a7b4 209.4px,#00a5b9 213.6px,#00aaa3 214px,#00aaaa 216.4px,#0000be 216.8px,#0000be 217.8px,#0099dd 218.2px,#0099dd 220.4px,#0000b9 220.8px,#0000af 226px,#0000aa 228px,#880099 237px,#810092 240px,#7d008e 245px,#770088 247.4px,#470052 250px,#000000 254px,#000000 267px)"></i>
<i style="top:17px;height:16px;background:linear-gradient(90deg,#2dff00 0px,#2dff00 1.1px,#7a008b 1.3px,#7a008b 2.2px,#300036 2.4px,#300036 9px,#210026 11px,#210026 43px,#5f006d 45.5px,#770088 45.88px,#810092 47px,#880099 48px,#5200a0 49px,#0000aa 49.56px,#0000dd 50.5px,#0077dd 51.58px,#0099dd 52.65px,#00a3be 53.3px,#00aaaa 53.74px,#00aa88 54.82px,#009900 55.91px,#00bb00 57px,#00dd00 59.5px,#00ff00 62px,#bbff00 66.5px,#eeee00 72px,#f6dd00 81px,#fdcf00 86px,#ffcc00 100px,#ffcc00 109px,#ffb800 110px,#ffb800 110.8px,#ffcc00 111.2px,#f8da00 111.6px,#f5e000 120px,#f0eb00 127px,#eeee00 131.3px,#e4f100 140px,#bbff00 147px,#00ff00 153px,#00ee00 171px,#00dd00 172.3px,#00bb00 175px,#009900 179.5px,#00a76d 181.5px,#00aa88 183.7px,#00aa96 188px,#00aaa7 192px,#00aaaa 192.4px,#00a0c9 194.5px,#0099dd 198.3px,#00aa96 198.7px,#00aa96 200.2px,#009cd3 200.6px,#009cd3 202.2px,#00aaa3 202.6px,#00aaa3 204.2px,#0099dd 204.6px,#0099dd 206px,#00aa92 206.4px,#00aa92 209px,#00a7b4 209.4px,#00a5b9 213.6px,#00aaa3 214px,#00aaaa 216.4px,#0000be 216.8px,#0000be 217.8px,#0099dd 218.2px,#0099dd 220.4px,#0000b9 220.8px,#0000af 226px,#0000aa 228px,#880099 237px,#810092 240px,#7d008e 245px,#770088 247.4px,#470052 250px,#000000 254px,#000000 267px)"></i>
<i style="top:33px;height:1px;background:linear-gradient(90deg,#2dff00 0px,#2dff00 1.1px,#7a008b 1.3px,#7a008b 2.2px,#300036 2.4px,#300036 9px,#25002b 11px,#230028 24px,#230028 43px,#3f0048 45.5px,#6a0079 47px,#770088 47.6px,#7b008c 49px,#880099 50.5px,#880099 50.54px,#0000aa 52.91px,#0000b2 53.3px,#0000dd 55.3px,#0023dd 56px,#005bdd 57px,#0077dd 58px,#0090dd 62px,#0099dd 64.67px,#009cd4 66.5px,#00a4bc 72px,#00a8b0 81px,#00a8af 82px,#00aaaa 83.11px,#00aaa8 84px,#00aaa5 86px,#00aaa3 98px,#00aaa2 100px,#00aaa2 106px,#00aaa5 109px,#00aa9f 110px,#00aa9f 110.8px,#00aaaa 111.5px,#00aaab 111.6px,#00a8b0 120px,#00a5b8 127px,#00a3bf 140px,#009dd2 147px,#0099dd 149.8px,#0099dd 150px,#0091dd 153px,#0089dd 171px,#0077dd 174px,#0063dd 175px,#002cdd 179.5px,#0001dd 181.5px,#0000dd 181.7px,#0000cf 188px,#0000c4 192px,#0000b3 194.5px,#0000aa 198.2px,#0100aa 198.3px,#0000cf 198.7px,#0000cf 200.2px,#0000ae 200.6px,#0000ae 202.2px,#0000c5 202.6px,#0000c5 204.2px,#0100aa 204.6px,#0100aa 206px,#0000d1 206.4px,#0000d1 209px,#0000bc 209.4px,#0000b9 213.6px,#0000c5 214px,#0000c0 216.4px,#850096 216.8px,#850096 217.8px,#0300aa 218.2px,#0300aa 220.4px,#840095 220.8px,#820093 226px,#810092 228px,#7a008b 236px,#79008a 237px,#770088 238.7px,#6b007a 240px,#580065 245px,#4e005a 246px,#25002a 250px,#100013 252px,#000000 254px,#000000 267px)"></i>
<i style="top:34px;height:16px;background:linear-gradient(90deg,#2dff00 0px,#2dff00 1.1px,#7a008b 1.3px,#7a008b 2.2px,#300036 2.4px,#300036 9px,#28002e 11px,#240029 24px,#240029 56px,#3c0044 58px,#3e0047 82px,#51005c 84px,#560062 98px,#5d006a 100px,#5d006a 106px,#4a0054 109px,#43004c 150px,#34003c 236px,#18001b 246px,#000000 252px,#000000 267px)"></i>
<i style="top:50px;height:1px;background:linear-gradient(90deg,#2dff00 0px,#2dff00 1.1px,#7a008b 1.3px,#7a008b 2.2px,#300036 2.4px,#300036 9px,#2f0036 10px,#28002e 11px,#230027 12px,#220027 24px,#220027 43px,#41004a 49px,#680077 52.5px,#770088 53.12px,#7c008d 54.5px,#800091 56px,#820093 56.5px,#880099 57.39px,#82009a 57.5px,#57009f 58px,#3e00a2 58.3px,#0000aa 58.97px,#0000bd 59.5px,#0000dd 61.83px,#0016dd 62.5px,#0050dd 69.6px,#0077dd 74.14px,#007fdd 77.6px,#008ddd 82px,#0095dd 84px,#0099dd 85.32px,#00aaaa 95.97px,#00aaa4 98px,#00aa9e 99.5px,#00aa9d 100px,#00aa99 101px,#00aa9e 106px,#00aa9e 109px,#00aa99 122px,#00aa92 129px,#00aa88 131.6px,#00a561 134px,#00a561 145.5px,#00a983 148.5px,#00aa88 148.8px,#00aa8d 150px,#00aa90 151px,#00aaa0 152.3px,#00aaa5 154px,#00aaaa 155.1px,#00a4bc 158px,#009cd5 164px,#0099dd 165.3px,#008bdd 169px,#0077dd 172px,#0077dd 172.1px,#002add 179px,#0000dd 180.9px,#0000cd 182.5px,#0000bd 185.5px,#0000b0 197.5px,#0000aa 198px,#1100a8 198.5px,#00aaa6 198.9px,#00aaa6 200.7px,#0000b4 201.1px,#0000b4 202.5px,#0000dd 202.7px,#0077dd 202.8px,#0099dd 203px,#009ecd 203.1px,#00a1c5 205px,#00a0c9 206.5px,#00a1c5 208.2px,#00aaaa 208.6px,#00aaa3 208.8px,#00aaa3 210.7px,#00aaaa 210.8px,#0099dd 211px,#0077dd 211.3px,#0076dd 211.3px,#0076dd 212.6px,#0077dd 212.6px,#0099dd 212.9px,#00aaaa 213.1px,#00aaa3 213.2px,#00aaa3 215.1px,#00aaaa 215.2px,#0099dd 215.4px,#0077dd 215.7px,#0076dd 215.7px,#0063dd 219.2px,#1200a8 219.5px,#1200a8 220.6px,#7e008f 221px,#7c008d 234px,#7b008c 236px,#780089 240px,#770088 240.6px,#470051 246px,#17001b 252px,#000000 258px,#000000 267px)"></i>
<i style="top:51px;height:15px;background:linear-gradient(90deg,#2dff00 0px,#2dff00 1.1px,#7a008b 1.3px,#7a008b 2.2px,#300036 2.4px,#300036 10px,#210026 12px,#210026 43px,#470052 49px,#770088 52.5px,#800090 54.5px,#860097 56.5px,#880099 56.7px,#5200a0 57.5px,#0000aa 58.3px,#0000dd 59.5px,#0077dd 62.5px,#008bdd 69.6px,#0099dd 74.17px,#009ece 77.6px,#00aaaa 83.73px,#00aa88 92.49px,#009c1b 99.5px,#009900 101px,#009c1b 106px,#009900 119.3px,#009a00 122px,#00a300 129px,#00bb00 134px,#00bb00 145.5px,#00b100 148.5px,#00a500 151px,#009900 151.8px,#009c1b 152.3px,#00a036 154px,#00aa88 158px,#00aa9c 164px,#00aaaa 166.9px,#00a5b9 169px,#0099dd 172px,#007edd 179px,#0077dd 179.9px,#0030dd 182.5px,#0000dd 185.5px,#0000ce 197.5px,#0000be 198.5px,#00a036 198.9px,#00a036 200.7px,#0000d3 201.1px,#0000d3 202.5px,#0000dd 202.5px,#0077dd 202.7px,#0099dd 202.8px,#00aaaa 203px,#00aa96 203.1px,#00aa8f 205px,#00aa92 206.5px,#00aa8f 208.2px,#00aa88 208.3px,#009e29 208.8px,#009e29 210.7px,#00aa88 210.9px,#00aaaa 211.1px,#0099dd 211.3px,#0099dd 212.6px,#00aaaa 212.8px,#00aa88 213px,#009e29 213.2px,#009e29 215.1px,#00aa88 215.3px,#00aaaa 215.5px,#0099dd 215.7px,#0092dd 219.2px,#0000be 219.5px,#0000be 220.6px,#810092 221px,#800090 234px,#7a008b 240px,#770088 242.3px,#51005c 246px,#1d0021 252px,#000000 258px,#000000 267px)"></i>
<i style="top:66px;height:1px;background:linear-gradient(90deg,#2dff00 0px,#2dff00 1.1px,#7a008b 1.3px,#7a008b 2.2px,#300036 2.4px,#300036 10px,#210026 12px,#210026 43px,#470052 49px,#770088 52.5px,#800090 54.5px,#860097 56.5px,#880099 56.7px,#5200a0 57.5px,#0000aa 58.3px,#0000dd 59.5px,#0077dd 62.5px,#008bdd 69.6px,#0092dd 72px,#0099dd 74.39px,#009ecf 77.6px,#00a2c1 80px,#00aaaa 83.91px,#00aa88 92.57px,#009c1b 99.5px,#009900 101px,#009c1a 106px,#009900 118.7px,#009b00 122px,#00a300 129px,#00bb00 133.9px,#00bb00 134px,#00bb00 145.5px,#00bb00 145.6px,#00b100 148.5px,#00a500 151px,#009900 151.8px,#009c1b 152.3px,#00a036 154px,#00aa88 158px,#00aa9c 164px,#00aaaa 166.9px,#00a5b9 169px,#0099dd 172px,#007edd 179px,#0077dd 179.9px,#0030dd 182.5px,#0000dd 185.5px,#0000ce 197.5px,#0000be 198.5px,#00a036 198.9px,#00a036 200.7px,#0000d3 201.1px,#0000d3 202.5px,#0000dd 202.5px,#0077dd 202.7px,#0099dd 202.8px,#00aaaa 203px,#00aa96 203.1px,#00aa8f 205px,#00aa92 206.5px,#00aa8f 208.2px,#00aa88 208.3px,#009e29 208.8px,#009e29 210.7px,#00aa88 210.9px,#00aaaa 211.1px,#0099dd 211.3px,#0099dd 212.6px,#00aaaa 212.8px,#00aa88 213px,#009e29 213.2px,#009e29 215.1px,#00aa88 215.3px,#00aaaa 215.5px,#0099dd 215.7px,#0092dd 219.2px,#0000be 219.5px,#0000be 220.6px,#810092 221px,#800090 234px,#7a008b 240px,#770088 242.3px,#51005c 246px,#1d0021 252px,#000000 258px,#000000 267px)"></i>
<i style="top:67px;height:16px;background:linear-gradient(90deg,#2dff00 0px,#2dff00 1.1px,#7a008b 1.3px,#7a008b 2.2px,#300036 2.4px,#300036 10px,#210026 12px,#210026 43px,#470052 49px,#770088 52.5px,#800090 54.5px,#860097 56.5px,#880099 56.7px,#5200a0 57.5px,#0000aa 58.3px,#0000dd 59.5px,#0077dd 62.5px,#008bdd 72px,#0099dd 76.57px,#009ece 80px,#00aaaa 85.46px,#00aa88 93.26px,#009c1b 99.5px,#009900 101px,#009b0e 106px,#009900 112.7px,#009e00 122px,#00a600 129px,#00bb00 133.3px,#00be00 134px,#00be00 145.5px,#00bb00 146.5px,#00b400 148.5px,#00a700 151px,#009900 151.9px,#009c1b 152.3px,#00a036 154px,#00aa88 158px,#00aa9c 164px,#00aaaa 166.9px,#00a5b9 169px,#0099dd 172px,#007edd 179px,#0077dd 179.9px,#0030dd 182.5px,#0000dd 185.5px,#0000ce 197.5px,#0000be 198.5px,#00a036 198.9px,#00a036 200.7px,#0000d3 201.1px,#0000d3 202.5px,#0000dd 202.5px,#0077dd 202.7px,#0099dd 202.8px,#00aaaa 203px,#00aa96 203.1px,#00aa8f 205px,#00aa92 206.5px,#00aa8f 208.2px,#00aa88 208.3px,#009e29 208.8px,#009e29 210.7px,#00aa88 210.9px,#00aaaa 211.1px,#0099dd 211.3px,#0099dd 212.6px,#00aaaa 212.8px,#00aa88 213px,#009e29 213.2px,#009e29 215.1px,#00aa88 215.3px,#00aaaa 215.5px,#0099dd 215.7px,#0092dd 219.2px,#0000be 219.5px,#0000be 220.6px,#810092 221px,#800090 234px,#7a008b 240px,#770088 242.3px,#51005c 246px,#1d0021 252px,#000000 258px,#000000 267px)"></i>
<i style="top:83px;height:1px;background:linear-gradient(90deg,#2dff00 0px,#2dff00 1.1px,#7a008b 1.3px,#7a008b 2.2px,#300036 2.4px,#300036 10px,#210026 12px,#210026 43px,#470052 49px,#770088 52.5px,#800090 54.5px,#860097 56.5px,#880099 56.7px,#5200a0 57.5px,#0000aa 58.3px,#0000dd 59.5px,#0077dd 62.5px,#008add 72px,#008fdd 74px,#0099dd 77.3px,#009dd1 80px,#00a1c5 82px,#00aaaa 86.2px,#00aa88 94.03px,#009e29 99.5px,#009b0e 101px,#009a0b 101.7px,#009904 103.2px,#009b0e 106px,#009900 112.7px,#009e00 122px,#00a600 129px,#00bb00 133.3px,#00be00 134px,#00be00 145.5px,#00bb00 146.5px,#00b400 148.5px,#00a700 151px,#009900 151.9px,#009c1b 152.3px,#00a036 154px,#00aa88 158px,#00aa9c 164px,#00aaaa 166.9px,#00a5b9 169px,#0099dd 172px,#007edd 179px,#0077dd 179.9px,#0030dd 182.5px,#0000dd 185.5px,#0000ce 197.5px,#0000be 198.5px,#00a036 198.9px,#00a036 200.7px,#0000d3 201.1px,#0000d3 202.5px,#0000dd 202.5px,#0077dd 202.7px,#0099dd 202.8px,#00aaaa 203px,#00aa96 203.1px,#00aa8f 205px,#00aa92 206.5px,#00aa8f 208.2px,#00aa88 208.3px,#009e29 208.8px,#009e29 210.7px,#00aa88 210.9px,#00aaaa 211.1px,#0099dd 211.3px,#0099dd 212.6px,#00aaaa 212.8px,#00aa88 213px,#009e29 213.2px,#009e29 215.1px,#00aa88 215.3px,#00aaaa 215.5px,#0099dd 215.7px,#0092dd 219.2px,#0000be 219.5px,#0000be 220.6px,#810092 221px,#800090 234px,#7a008b 240px,#770088 242.3px,#51005c 246px,#1d0021 252px,#000000 258px,#000000 267px)"></i>
<i style="top:84px;height:16px;background:linear-gradient(90deg,#2dff00 0px,#2dff00 1.1px,#7a008b 1.3px,#7a008b 2.2px,#300036 2.4px,#300036 10px,#210026 12px,#210026 43px,#470052 49px,#770088 52.5px,#800090 54.5px,#860097 56.5px,#880099 56.7px,#5200a0 57.5px,#0000aa 58.3px,#0000dd 59.5px,#0077dd 62.5px,#008bdd 74px,#0099dd 78.57px,#009ece 82px,#00aaaa 87.52px,#00aa88 95.4px,#009c1b 101.7px,#009900 103.2px,#009b0e 106px,#009900 112.7px,#009e00 122px,#00a600 129px,#00bb00 133.3px,#00be00 134px,#00be00 145.5px,#00bb00 146.5px,#00b400 148.5px,#00a700 151px,#009900 151.9px,#009c1b 152.3px,#00a036 154px,#00aa88 158px,#00aa9c 164px,#00aaaa 166.9px,#00a5b9 169px,#0099dd 172px,#007edd 179px,#0077dd 179.9px,#0030dd 182.5px,#0000dd 185.5px,#0000ce 197.5px,#0000be 198.5px,#00a036 198.9px,#00a036 200.7px,#0000d3 201.1px,#0000d3 202.5px,#0000dd 202.5px,#0077dd 202.7px,#0099dd 202.8px,#00aaaa 203px,#00aa96 203.1px,#00aa8f 205px,#00aa92 206.5px,#00aa8f 208.2px,#00aa88 208.3px,#009e29 208.8px,#009e29 210.7px,#00aa88 210.9px,#00aaaa 211.1px,#0099dd 211.3px,#0099dd 212.6px,#00aaaa 212.8px,#00aa88 213px,#009e29 213.2px,#009e29 215.1px,#00aa88 215.3px,#00aaaa 215.5px,#0099dd 215.7px,#0092dd 219.2px,#0000be 219.5px,#0000be 220.6px,#810092 221px,#800090 234px,#7a008b 240px,#770088 242.3px,#51005c 246px,#1d0021 252px,#000000 258px,#000000 267px)"></i>
<i style="top:100px;height:1px;background:linear-gradient(90deg,#2dff00 0px,#2dff00 1.1px,#7a008b 1.3px,#7a008b 2.2px,#300036 2.4px,#300036 10px,#210026 12px,#210026 43px,#470052 49px,#770088 52.5px,#800090 54.5px,#860097 56.5px,#880099 56.7px,#5200a0 57.5px,#0000aa 58.3px,#0000dd 59.5px,#0077dd 62.5px,#0089dd 74px,#008edd 76px,#0099dd 79.84px,#009cd3 82px,#00a0c9 84px,#00aaaa 88.08px,#00aa88 94.81px,#009e29 99.5px,#009b0e 101px,#009a0b 101.7px,#009904 103.2px,#009b0e 106px,#009900 112.7px,#009e00 122px,#00a600 129px,#00bb00 133.3px,#00be00 134px,#00be00 145.5px,#00bb00 146.5px,#00b400 148.5px,#00a700 151px,#009900 151.9px,#009c1b 152.3px,#00a036 154px,#00aa88 158px,#00aa9c 164px,#00aaaa 166.9px,#00a5b9 169px,#0099dd 172px,#007edd 179px,#0077dd 179.9px,#0030dd 182.5px,#0000dd 185.5px,#0000ce 197.5px,#0000be 198.5px,#00a036 198.9px,#00a036 200.7px,#0000d3 201.1px,#0000d3 202.5px,#0000dd 202.5px,#0077dd 202.7px,#0099dd 202.8px,#00aaaa 203px,#00aa96 203.1px,#00aa8f 205px,#00aa92 206.5px,#00aa8f 208.2px,#00aa88 208.3px,#009e29 208.8px,#009e29 210.7px,#00aa88 210.9px,#00aaaa 211.1px,#0099dd 211.3px,#0099dd 212.6px,#00aaaa 212.8px,#00aa88 213px,#009e29 213.2px,#009e29 215.1px,#00aa88 215.3px,#00aaaa 215.5px,#0099dd 215.7px,#0092dd 219.2px,#0000be 219.5px,#0000be 220.6px,#810092 221px,#800090 234px,#7a008b 240px,#770088 242.3px,#51005c 246px,#1d0021 252px,#000000 258px,#000000 267px)"></i>
<i style="top:101px;height:16px;background:linear-gradient(90deg,#2dff00 0px,#2dff00 1.1px,#7a008b 1.3px,#7a008b 2.2px,#300036 2.4px,#300036 10px,#210026 12px,#210026 43px,#470052 49px,#770088 52.5px,#800090 54.5px,#860097 56.5px,#880099 56.7px,#5200a0 57.5px,#0000aa 58.3px,#0000dd 59.5px,#0077dd 62.5px,#008bdd 76px,#0099dd 80.57px,#009ece 84px,#00aaaa 88.34px,#00aa88 94.54px,#009c1b 99.5px,#009900 101px,#009b0e 106px,#009900 112.7px,#009e00 122px,#00a600 129px,#00bb00 133.3px,#00be00 134px,#00be00 145.5px,#00bb00 146.5px,#00b400 148.5px,#00a700 151px,#009900 151.9px,#009c1b 152.3px,#00a036 154px,#00aa88 158px,#00aa9c 164px,#00aaaa 166.9px,#00a5b9 169px,#0099dd 172px,#007edd 179px,#0077dd 179.9px,#0030dd 182.5px,#0000dd 185.5px,#0000ce 197.5px,#0000be 198.5px,#00a036 198.9px,#00a036 200.7px,#0000d3 201.1px,#0000d3 202.5px,#0000dd 202.5px,#0077dd 202.7px,#0099dd 202.8px,#00aaaa 203px,#00aa96 203.1px,#00aa8f 205px,#00aa92 206.5px,#00aa8f 208.2px,#00aa88 208.3px,#009e29 208.8px,#009e29 210.7px,#00aa88 210.9px,#00aaaa 211.1px,#0099dd 211.3px,#0099dd 212.6px,#00aaaa 212.8px,#00aa88 213px,#009e29 213.2px,#009e29 215.1px,#00aa88 215.3px,#00aaaa 215.5px,#0099dd 215.7px,#0092dd 219.2px,#0000be 219.5px,#0000be 220.6px,#810092 221px,#800090 234px,#7a008b 240px,#770088 242.3px,#51005c 246px,#1d0021 252px,#000000 258px,#000000 267px)"></i>
<i style="top:117px;height:1px;background:linear-gradient(90deg,#2dff00 0px,#2dff00 1.1px,#7a008b 1.3px,#7a008b 2.2px,#300036 2.4px,#300036 10px,#210026 12px,#210026 43px,#470052 49px,#770088 52.5px,#800090 54.5px,#860097 56.5px,#880099 56.7px,#5200a0 57.5px,#0000aa 58.3px,#0000dd 59.5px,#0077dd 62.5px,#008add 67px,#0099dd 72.22px,#009dd1 75px,#009fcb 76px,#00aaaa 80.75px,#00aa9b 84px,#00aa88 88px,#009e28 93px,#009b0c 94.5px,#009a08 99.5px,#009a07 101px,#009b0e 106px,#009900 112.7px,#009e00 122px,#00a600 129px,#00bb00 133.3px,#00be00 134px,#00be00 145.5px,#00bb00 146.5px,#00b400 148.5px,#00a700 151px,#009900 151.9px,#009c1b 152.3px,#00a036 154px,#00aa88 158px,#00aa9c 164px,#00aaaa 166.9px,#00a5b9 169px,#0099dd 172px,#007edd 179px,#0077dd 179.9px,#0030dd 182.5px,#0000dd 185.5px,#0000ce 197.5px,#0000be 198.5px,#00a036 198.9px,#00a036 200.7px,#0000d3 201.1px,#0000d3 202.5px,#0000dd 202.5px,#0077dd 202.7px,#0099dd 202.8px,#00aaaa 203px,#00aa96 203.1px,#00aa8f 205px,#00aa92 206.5px,#00aa8f 208.2px,#00aa88 208.3px,#009e29 208.8px,#009e29 210.7px,#00aa88 210.9px,#00aaaa 211.1px,#0099dd 211.3px,#0099dd 212.6px,#00aaaa 212.8px,#00aa88 213px,#009e29 213.2px,#009e29 215.1px,#00aa88 215.3px,#00aaaa 215.5px,#0099dd 215.7px,#0092dd 219.2px,#0000be 219.5px,#0000be 220.6px,#810092 221px,#800090 234px,#7a008b 240px,#770088 242.3px,#51005c 246px,#1d0021 252px,#000000 258px,#000000 267px)"></i>
<i style="top:118px;height:15px;background:linear-gradient(90deg,#2dff00 0px,#2dff00 1.1px,#7a008b 1.3px,#7a008b 2.2px,#300036 2.4px,#300036 10px,#210026 12px,#210026 43px,#470052 49px,#770088 52.5px,#800090 54.5px,#860097 56.5px,#880099 56.7px,#5200a0 57.5px,#0000aa 58.3px,#0000dd 59.5px,#0077dd 62.5px,#008bdd 67px,#0099dd 71.57px,#009ece 75px,#00aaaa 80.04px,#00aa88 87.24px,#009c1b 93px,#009900 94.5px,#009b0e 106px,#009900 112.7px,#009e00 122px,#00a600 129px,#00bb00 133.3px,#00be00 134px,#00be00 145.5px,#00bb00 146.5px,#00b400 148.5px,#00a700 151px,#009900 151.9px,#009c1b 152.3px,#00a036 154px,#00aa88 158px,#00aa9c 164px,#00aaaa 166.9px,#00a5b9 169px,#0099dd 172px,#007edd 179px,#0077dd 179.9px,#0030dd 182.5px,#0000dd 185.5px,#0000ce 197.5px,#0000be 198.5px,#00a036 198.9px,#00a036 200.7px,#0000d3 201.1px,#0000d3 202.5px,#0000dd 202.5px,#0077dd 202.7px,#0099dd 202.8px,#00aaaa 203px,#00aa96 203.1px,#00aa8f 205px,#00aa92 206.5px,#00aa8f 208.2px,#00aa88 208.3px,#009e29 208.8px,#009e29 210.7px,#00aa88 210.9px,#00aaaa 211.1px,#0099dd 211.3px,#0099dd 212.6px,#00aaaa 212.8px,#00aa88 213px,#009e29 213.2px,#009e29 215.1px,#00aa88 215.3px,#00aaaa 215.5px,#0099dd 215.7px,#0092dd 219.2px,#0000be 219.5px,#0000be 220.6px,#810092 221px,#800090 234px,#7a008b 240px,#770088 242.3px,#51005c 246px,#1d0021 252px,#000000 258px,#000000 267px)"></i>
<i style="top:133px;height:1px;background:linear-gradient(90deg,#2dff00 0px,#2dff00 1.1px,#7a008b 1.3px,#7a008b 2.2px,#300036 2.4px,#300036 10px,#210026 12px,#210026 43px,#470052 49px,#770088 52.5px,#800090 54.5px,#860097 56.5px,#880099 56.7px,#5200a0 57.5px,#0000aa 58.3px,#0000dd 59.5px,#0077dd 62.5px,#0089dd 67px,#0098dd 72px,#0099dd 72.48px,#009dd2 75px,#00a8b1 80px,#00aaaa 80.95px,#00aa88 88.15px,#009f2c 93px,#009b11 94.5px,#009a08 98px,#009a05 99.5px,#009b13 106px,#009900 115.1px,#009d00 122px,#00a500 129px,#00bb00 133.6px,#00bd00 134px,#00bd00 145.5px,#00bb00 146.1px,#00b300 148.5px,#00a600 151px,#009900 151.9px,#009c1b 152.3px,#00a036 154px,#00aa88 158px,#00aa9c 164px,#00aaaa 166.9px,#00a5b9 169px,#0099dd 172px,#007edd 179px,#0077dd 179.9px,#0030dd 182.5px,#0000dd 185.5px,#0000ce 197.5px,#0000be 198.5px,#00a036 198.9px,#00a036 200.7px,#0000d3 201.1px,#0000d3 202.5px,#0000dd 202.5px,#0077dd 202.7px,#0099dd 202.8px,#00aaaa 203px,#00aa96 203.1px,#00aa8f 205px,#00aa92 206.5px,#00aa8f 208.2px,#00aa88 208.3px,#009e29 208.8px,#009e29 210.7px,#00aa88 210.9px,#00aaaa 211.1px,#0099dd 211.3px,#0099dd 212.6px,#00aaaa 212.8px,#00aa88 213px,#009e29 213.2px,#009e29 215.1px,#00aa88 215.3px,#00aaaa 215.5px,#0099dd 215.7px,#0092dd 219.2px,#0000be 219.5px,#0000be 220.6px,#810092 221px,#800090 234px,#7a008b 240px,#770088 242.3px,#51005c 246px,#1d0021 252px,#000000 258px,#000000 267px)"></i>
<i style="top:134px;height:16px;background:linear-gradient(90deg,#2dff00 0px,#2dff00 1.1px,#7a008b 1.3px,#7a008b 2.2px,#300036 2.4px,#300036 10px,#210026 12px,#210026 43px,#470052 49px,#770088 52.5px,#800090 54.5px,#860097 56.5px,#880099 56.7px,#5200a0 57.5px,#0000aa 58.3px,#0000dd 59.5px,#0077dd 62.5px,#008bdd 72px,#0099dd 76.57px,#009ece 80px,#00aaaa 85.04px,#00aa88 92.24px,#009c1b 98px,#009900 99.5px,#009e29 106px,#009a08 122px,#009900 123.8px,#009f00 129px,#00b800 134px,#00b800 145.5px,#00ad00 148.5px,#00a300 151px,#009900 151.8px,#009c1b 152.3px,#00a036 154px,#00aa88 158px,#00aa9c 164px,#00aaaa 166.9px,#00a5b9 169px,#0099dd 172px,#007edd 179px,#0077dd 179.9px,#0030dd 182.5px,#0000dd 185.5px,#0000ce 197.5px,#0000be 198.5px,#00a036 198.9px,#00a036 200.7px,#0000d3 201.1px,#0000d3 202.5px,#0000dd 202.5px,#0077dd 202.7px,#0099dd 202.8px,#00aaaa 203px,#00aa96 203.1px,#00aa8f 205px,#00aa92 206.5px,#00aa8f 208.2px,#00aa88 208.3px,#009e29 208.8px,#009e29 210.7px,#00aa88 210.9px,#00aaaa 211.1px,#0099dd 211.3px,#0099dd 212.6px,#00aaaa 212.8px,#00aa88 213px,#009e29 213.2px,#009e29 215.1px,#00aa88 215.3px,#00aaaa 215.5px,#0099dd 215.7px,#0092dd 219.2px,#0000be 219.5px,#0000be 220.6px,#810092 221px,#800090 234px,#7a008b 240px,#770088 242.3px,#51005c 246px,#1d0021 252px,#000000 258px,#000000 267px)"></i>
<i style="top:150px;height:1px;background:linear-gradient(90deg,#2dff00 0px,#2dff00 1.1px,#7a008b 1.3px,#7a008b 2.2px,#300036 2.4px,#300036 10px,#210026 12px,#210026 43px,#470052 49px,#770088 52.5px,#800090 54.5px,#860097 56.5px,#880099 56.7px,#5200a0 57.5px,#0000aa 58.3px,#0000dd 59.5px,#0077dd 62.5px,#0089dd 69.6px,#008fdd 72px,#0099dd 75.48px,#009cd4 77.6px,#00a1c6 80px,#00aaaa 83.85px,#00aa88 90.94px,#00a03a 95px,#009d1e 96.5px,#009b11 98px,#009904 99.5px,#009d23 106px,#009902 122px,#009900 122.4px,#00a100 129px,#00b900 134px,#00b900 145.5px,#00af00 148.5px,#00a400 151px,#009900 151.8px,#009c1b 152.3px,#00a036 154px,#00aa88 158px,#00aa9c 164px,#00aaaa 166.9px,#00a5b9 169px,#0099dd 172px,#007edd 179px,#0077dd 179.9px,#0030dd 182.5px,#0000dd 185.5px,#0000ce 197.5px,#0000be 198.5px,#00a036 198.9px,#00a036 200.7px,#0000d3 201.1px,#0000d3 202.5px,#0000dd 202.5px,#0077dd 202.7px,#0099dd 202.8px,#00aaaa 203px,#00aa96 203.1px,#00aa8f 205px,#00aa92 206.5px,#00aa8f 208.2px,#00aa88 208.3px,#009e29 208.8px,#009e29 210.7px,#00aa88 210.9px,#00aaaa 211.1px,#0099dd 211.3px,#0099dd 212.6px,#00aaaa 212.8px,#00aa88 213px,#009e29 213.2px,#009e29 215.1px,#00aa88 215.3px,#00aaaa 215.5px,#0099dd 215.7px,#0092dd 219.2px,#0000be 219.5px,#0000be 220.6px,#810092 221px,#800090 234px,#7a008b 240px,#770088 242.3px,#51005c 246px,#1d0021 252px,#000000 258px,#000000 267px)"></i>
<i style="top:151px;height:16px;background:linear-gradient(90deg,#2dff00 0px,#2dff00 1.1px,#7a008b 1.3px,#7a008b 2.2px,#300036 2.4px,#300036 10px,#210026 12px,#210026 43px,#470052 49px,#770088 52.5px,#800090 54.5px,#860097 56.5px,#880099 56.7px,#5200a0 57.5px,#0000aa 58.3px,#0000dd 59.5px,#0077dd 62.5px,#008bdd 69.6px,#0099dd 74.17px,#009ece 77.6px,#00aaaa 82.47px,#00aa88 89.43px,#009c1b 95px,#009900 96.5px,#009c1b 106px,#009900 119.3px,#009a00 122px,#00a300 129px,#00bb00 134px,#00bb00 145.5px,#00b100 148.5px,#00a500 151px,#009900 151.8px,#009c1b 152.3px,#00a036 154px,#00aa88 158px,#00aa9c 164px,#00aaaa 166.9px,#00a5b9 169px,#0099dd 172px,#007edd 179px,#0077dd 179.9px,#0030dd 182.5px,#0000dd 185.5px,#0000ce 197.5px,#0000be 198.5px,#00a036 198.9px,#00a036 200.7px,#0000d3 201.1px,#0000d3 202.5px,#0000dd 202.5px,#0077dd 202.7px,#0099dd 202.8px,#00aaaa 203px,#00aa96 203.1px,#00aa8f 205px,#00aa92 206.5px,#00aa8f 208.2px,#00aa88 208.3px,#009e29 208.8px,#009e29 210.7px,#00aa88 210.9px,#00aaaa 211.1px,#0099dd 211.3px,#0099dd 212.6px,#00aaaa 212.8px,#00aa88 213px,#009e29 213.2px,#009e29 215.1px,#00aa88 215.3px,#00aaaa 215.5px,#0099dd 215.7px,#0092dd 219.2px,#0000be 219.5px,#0000be 220.6px,#810092 221px,#800090 234px,#7a008b 240px,#770088 242.3px,#51005c 246px,#1d0021 252px,#000000 258px,#000000 267px)"></i>
<i style="top:167px;height:1px;background:linear-gradient(90deg,#2dff00 0px,#2dff00 1.1px,#7a008b 1.3px,#7a008b 2.2px,#300036 2.4px,#300036 10px,#210026 12px,#210026 43px,#470052 49px,#770088 52.5px,#800090 54.5px,#860097 56.5px,#880099 56.7px,#5200a0 57.5px,#0000aa 58.3px,#0000dd 59.5px,#0077dd 62.5px,#0086dd 69.6px,#008fdd 74px,#0099dd 77.37px,#0099dc 77.6px,#00a1c5 82px,#00aaaa 85.85px,#00aa88 93.16px,#00a666 95px,#00a24a 96.5px,#009c17 100.6px,#009a04 102.1px,#009a07 106px,#009900 109.6px,#009f00 122px,#00a700 129px,#00bb00 133px,#00c000 134px,#00c000 145.5px,#00bb00 147px,#00b600 148.5px,#00a700 151px,#009900 151.9px,#009c1b 152.3px,#00a036 154px,#00aa88 158px,#00aa9c 164px,#00aaaa 166.9px,#00a5b9 169px,#0099dd 172px,#007edd 179px,#0077dd 179.9px,#0030dd 182.5px,#0000dd 185.5px,#0000ce 197.5px,#0000be 198.5px,#00a036 198.9px,#00a036 200.7px,#0000d3 201.1px,#0000d3 202.5px,#0000dd 202.5px,#0077dd 202.7px,#0099dd 202.8px,#00aaaa 203px,#00aa96 203.1px,#00aa8f 205px,#00aa92 206.5px,#00aa8f 208.2px,#00aa88 208.3px,#009e29 208.8px,#009e29 210.7px,#00aa88 210.9px,#00aaaa 211.1px,#0099dd 211.3px,#0099dd 212.6px,#00aaaa 212.8px,#00aa88 213px,#009e29 213.2px,#009e29 215.1px,#00aa88 215.3px,#00aaaa 215.5px,#0099dd 215.7px,#0092dd 219.2px,#0000be 219.5px,#0000be 220.6px,#810092 221px,#800090 234px,#7a008b 240px,#770088 242.3px,#51005c 246px,#1d0021 252px,#000000 258px,#000000 267px)"></i>
<i style="top:168px;height:16px;background:linear-gradient(90deg,#2dff00 0px,#2dff00 1.1px,#7a008b 1.3px,#7a008b 2.2px,#300036 2.4px,#300036 10px,#210026 12px,#210026 43px,#470052 49px,#770088 52.5px,#800090 54.5px,#860097 56.5px,#880099 56.7px,#5200a0 57.5px,#0000aa 58.3px,#0000dd 59.5px,#0077dd 62.5px,#008bdd 74px,#0099dd 78.57px,#009ece 82px,#00aaaa 87.21px,#00aa88 94.65px,#009c1b 100.6px,#009900 102.1px,#009900 106px,#00a100 122px,#00a900 129px,#00bb00 132.6px,#00c200 134px,#00c200 145.5px,#00bb00 147.5px,#00b800 148.5px,#00a800 151px,#009900 151.9px,#009c1b 152.3px,#00a036 154px,#00aa88 158px,#00aa9c 164px,#00aaaa 166.9px,#00a5b9 169px,#0099dd 172px,#007edd 179px,#0077dd 179.9px,#0030dd 182.5px,#0000dd 185.5px,#0000ce 197.5px,#0000be 198.5px,#00a036 198.9px,#00a036 200.7px,#0000d3 201.1px,#0000d3 202.5px,#0000dd 202.5px,#0077dd 202.7px,#0099dd 202.8px,#00aaaa 203px,#00aa96 203.1px,#00aa8f 205px,#00aa92 206.5px,#00aa8f 208.2px,#00aa88 208.3px,#009e29 208.8px,#009e29 210.7px,#00aa88 210.9px,#00aaaa 211.1px,#0099dd 211.3px,#0099dd 212.6px,#00aaaa 212.8px,#00aa88 213px,#009e29 213.2px,#009e29 215.1px,#00aa88 215.3px,#00aaaa 215.5px,#0099dd 215.7px,#0092dd 219.2px,#0000be 219.5px,#0000be 220.6px,#810092 221px,#800090 234px,#7a008b 240px,#770088 242.3px,#51005c 246px,#1d0021 252px,#000000 258px,#000000 267px)"></i>
<i style="top:184px;height:16px;background:linear-gradient(90deg,#2dff00 0px,#2dff00 1.1px,#7a008b 1.3px,#7a008b 2.2px,#300036 2.4px,#300036 10px,#210026 12px,#210026 43px,#470052 49px,#770088 52.5px,#800090 54.5px,#860097 56.5px,#880099 56.7px,#5200a0 57.5px,#0000aa 58.3px,#0000dd 59.5px,#0077dd 62.5px,#008bdd 67px,#0099dd 71.57px,#009ece 75px,#00aaaa 79.48px,#00aa88 85.88px,#009c1b 91px,#009900 92.5px,#00a000 106px,#00a800 122px,#00b000 129px,#00bb00 131.2px,#00c900 134px,#00c900 145.5px,#00be00 148.5px,#00bb00 149px,#00ac00 151px,#009900 152px,#009c1b 152.3px,#00a036 154px,#00aa88 158px,#00aa9c 164px,#00aaaa 166.9px,#00a5b9 169px,#0099dd 172px,#007edd 179px,#0077dd 179.9px,#0030dd 182.5px,#0000dd 185.5px,#0000ce 197.5px,#0000be 198.5px,#00a036 198.9px,#00a036 200.7px,#0000d3 201.1px,#0000d3 202.5px,#0000dd 202.5px,#0077dd 202.7px,#0099dd 202.8px,#00aaaa 203px,#00aa96 203.1px,#00aa8f 205px,#00aa92 206.5px,#00aa8f 208.2px,#00aa88 208.3px,#009e29 208.8px,#009e29 210.7px,#00aa88 210.9px,#00aaaa 211.1px,#0099dd 211.3px,#0099dd 212.6px,#00aaaa 212.8px,#00aa88 213px,#009e29 213.2px,#009e29 215.1px,#00aa88 215.3px,#00aaaa 215.5px,#0099dd 215.7px,#0092dd 219.2px,#0000be 219.5px,#0000be 220.6px,#810092 221px,#800090 234px,#7a008b 240px,#770088 242.3px,#51005c 246px,#1d0021 252px,#000000 258px,#000000 267px)"></i>
<i style="top:200px;height:1px;background:linear-gradient(90deg,#2dff00 0px,#2dff00 1.1px,#7a008b 1.3px,#7a008b 2.2px,#300036 2.4px,#300036 10px,#210026 12px,#210026 43px,#470052 49px,#770088 52.5px,#800090 54.5px,#860097 56.5px,#880099 56.7px,#5200a0 57.5px,#0000aa 58.3px,#0000dd 59.5px,#0077dd 62.5px,#008bdd 67px,#0099dd 71.57px,#009ece 75px,#00aaaa 79.62px,#00aa88 86.22px,#009e26 91px,#009a0a 92.5px,#009a07 93px,#009900 94.04px,#009a00 94.5px,#009f00 106px,#00a700 122px,#00af00 129px,#00bb00 131.4px,#00c800 134px,#00c800 145.5px,#00bd00 148.5px,#00bb00 148.8px,#00ab00 151px,#009900 151.9px,#009c1b 152.3px,#00a036 154px,#00aa88 158px,#00aa9c 164px,#00aaaa 166.9px,#00a5b9 169px,#0099dd 172px,#007edd 179px,#0077dd 179.9px,#0030dd 182.5px,#0000dd 185.5px,#0000ce 197.5px,#0000be 198.5px,#00a036 198.9px,#00a036 200.7px,#0000d3 201.1px,#0000d3 202.5px,#0000dd 202.5px,#0077dd 202.7px,#0099dd 202.8px,#00aaaa 203px,#00aa96 203.1px,#00aa8f 205px,#00aa92 206.5px,#00aa8f 208.2px,#00aa88 208.3px,#009e29 208.8px,#009e29 210.7px,#00aa88 210.9px,#00aaaa 211.1px,#0099dd 211.3px,#0099dd 212.6px,#00aaaa 212.8px,#00aa88 213px,#009e29 213.2px,#009e29 215.1px,#00aa88 215.3px,#00aaaa 215.5px,#0099dd 215.7px,#0092dd 219.2px,#0000be 219.5px,#0000be 220.6px,#810092 221px,#800090 234px,#7a008b 240px,#770088 242.3px,#51005c 246px,#1d0021 252px,#000000 258px,#000000 267px)"></i>
<i style="top:201px;height:16px;background:linear-gradient(90deg,#2dff00 0px,#2dff00 1.1px,#7a008b 1.3px,#7a008b 2.2px,#300036 2.4px,#300036 10px,#210026 12px,#210026 43px,#470052 49px,#770088 52.5px,#800090 54.5px,#860097 56.5px,#880099 56.7px,#5200a0 57.5px,#0000aa 58.3px,#0000dd 59.5px,#0077dd 62.5px,#008bdd 67px,#0099dd 71.57px,#009ece 75px,#00aaaa 80.04px,#00aa88 87.24px,#009c1b 93px,#009900 94.5px,#009c00 106px,#00a500 122px,#00ad00 129px,#00bb00 131.9px,#00c500 134px,#00c500 145.5px,#00bb00 148.5px,#00aa00 151px,#009900 151.9px,#009c1b 152.3px,#00a036 154px,#00aa88 158px,#00aa9c 164px,#00aaaa 166.9px,#00a5b9 169px,#0099dd 172px,#007edd 179px,#0077dd 179.9px,#0030dd 182.5px,#0000dd 185.5px,#0000ce 197.5px,#0000be 198.5px,#00a036 198.9px,#00a036 200.7px,#0000d3 201.1px,#0000d3 202.5px,#0000dd 202.5px,#0077dd 202.7px,#0099dd 202.8px,#00aaaa 203px,#00aa96 203.1px,#00aa8f 205px,#00aa92 206.5px,#00aa8f 208.2px,#00aa88 208.3px,#009e29 208.8px,#009e29 210.7px,#00aa88 210.9px,#00aaaa 211.1px,#0099dd 211.3px,#0099dd 212.6px,#00aaaa 212.8px,#00aa88 213px,#009e29 213.2px,#009e29 215.1px,#00aa88 215.3px,#00aaaa 215.5px,#0099dd 215.7px,#0092dd 219.2px,#0000be 219.5px,#0000be 220.6px,#810092 221px,#800090 234px,#7a008b 240px,#770088 242.3px,#51005c 246px,#1d0021 252px,#000000 258px,#000000 267px)"></i>
<i style="top:217px;height:1px;background:linear-gradient(90deg,#2dff00 0px,#2dff00 1.1px,#7a008b 1.3px,#7a008b 2.2px,#300036 2.4px,#300036 10px,#210026 12px,#210026 43px,#470052 49px,#770088 52.5px,#800090 54.5px,#860097 56.5px,#880099 56.7px,#5200a0 57.5px,#0000aa 58.3px,#0000dd 59.5px,#0077dd 62.5px,#0087dd 67px,#008fdd 69.6px,#0099dd 72.99px,#009cd4 75px,#00a1c5 77.6px,#00aaaa 81.87px,#00aa88 89.85px,#00a352 93px,#00a039 94.5px,#009b0c 99.5px,#009900 100.7px,#009a00 101px,#009b00 106px,#00a300 122px,#00ab00 129px,#00bb00 132.3px,#00c300 134px,#00c300 145.5px,#00bb00 148px,#00b900 148.5px,#00a900 151px,#009900 151.9px,#009c1b 152.3px,#00a036 154px,#00aa88 158px,#00aa9c 164px,#00aaaa 166.9px,#00a5b9 169px,#0099dd 172px,#007edd 179px,#0077dd 179.9px,#0030dd 182.5px,#0000dd 185.5px,#0000ce 197.5px,#0000be 198.5px,#00a036 198.9px,#00a036 200.7px,#0000d3 201.1px,#0000d3 202.5px,#0000dd 202.5px,#0077dd 202.7px,#0099dd 202.8px,#00aaaa 203px,#00aa96 203.1px,#00aa8f 205px,#00aa92 206.5px,#00aa8f 208.2px,#00aa88 208.3px,#009e29 208.8px,#009e29 210.7px,#00aa88 210.9px,#00aaaa 211.1px,#0099dd 211.3px,#0099dd 212.6px,#00aaaa 212.8px,#00aa88 213px,#009e29 213.2px,#009e29 215.1px,#00aa88 215.3px,#00aaaa 215.5px,#0099dd 215.7px,#0092dd 219.2px,#0000be 219.5px,#0000be 220.6px,#810092 221px,#800090 234px,#7a008b 240px,#770088 242.3px,#51005c 246px,#1d0021 252px,#000000 258px,#000000 267px)"></i>
<i style="top:218px;height:16px;background:linear-gradient(90deg,#2dff00 0px,#2dff00 1.1px,#7a008b 1.3px,#7a008b 2.2px,#300036 2.4px,#300036 10px,#210026 12px,#210026 43px,#470052 49px,#770088 52.5px,#800090 54.5px,#860097 56.5px,#880099 56.7px,#5200a0 57.5px,#0000aa 58.3px,#0000dd 59.5px,#0077dd 62.5px,#008bdd 69.6px,#0099dd 74.17px,#009ece 77.6px,#00aaaa 83.73px,#00aa88 92.49px,#009c1b 99.5px,#009900 101px,#009900 106px,#00a100 122px,#00a900 129px,#00bb00 132.6px,#00c200 134px,#00c200 145.5px,#00bb00 147.5px,#00b800 148.5px,#00a800 151px,#009900 151.9px,#009c1b 152.3px,#00a036 154px,#00aa88 158px,#00aa9c 164px,#00aaaa 166.9px,#00a5b9 169px,#0099dd 172px,#007edd 179px,#0077dd 179.9px,#0030dd 182.5px,#0000dd 185.5px,#0000ce 197.5px,#0000be 198.5px,#00a036 198.9px,#00a036 200.7px,#0000d3 201.1px,#0000d3 202.5px,#0000dd 202.5px,#0077dd 202.7px,#0099dd 202.8px,#00aaaa 203px,#00aa96 203.1px,#00aa8f 205px,#00aa92 206.5px,#00aa8f 208.2px,#00aa88 208.3px,#009e29 208.8px,#009e29 210.7px,#00aa88 210.9px,#00aaaa 211.1px,#0099dd 211.3px,#0099dd 212.6px,#00aaaa 212.8px,#00aa88 213px,#009e29 213.2px,#009e29 215.1px,#00aa88 215.3px,#00aaaa 215.5px,#0099dd 215.7px,#0092dd 219.2px,#0000be 219.5px,#0000be 220.6px,#810092 221px,#800090 234px,#7a008b 240px,#770088 242.3px,#51005c 246px,#1d0021 252px,#000000 258px,#000000 267px)"></i>
<i style="top:234px;height:1px;background:linear-gradient(90deg,#2dff00 0px,#2dff00 1.1px,#7a008b 1.3px,#7a008b 2.2px,#300036 2.4px,#300036 10px,#210026 12px,#210026 43px,#470052 49px,#770088 52.5px,#800090 54.5px,#860097 56.5px,#880099 56.7px,#5200a0 57.5px,#0000aa 58.3px,#0000dd 59.5px,#0077dd 62.5px,#0087dd 69.6px,#008ddd 72px,#0099dd 76.14px,#009bd6 77.6px,#009fcb 80px,#00aaaa 85.72px,#00aa88 94.51px,#00a03b 99.5px,#009d23 101px,#009c16 102px,#009900 103.5px,#009c00 106px,#00a400 122px,#00ac00 129px,#00bb00 132px,#00c500 134px,#00c500 145.5px,#00bb00 148.3px,#00ba00 148.5px,#00aa00 151px,#009900 151.9px,#009c1b 152.3px,#00a036 154px,#00aa88 158px,#00aa9c 164px,#00aaaa 166.9px,#00a5b9 169px,#0099dd 172px,#007edd 179px,#0077dd 179.9px,#0030dd 182.5px,#0000dd 185.5px,#0000ce 197.5px,#0000be 198.5px,#00a036 198.9px,#00a036 200.7px,#0000d3 201.1px,#0000d3 202.5px,#0000dd 202.5px,#0077dd 202.7px,#0099dd 202.8px,#00aaaa 203px,#00aa96 203.1px,#00aa8f 205px,#00aa92 206.5px,#00aa8f 208.2px,#00aa88 208.3px,#009e29 208.8px,#009e29 210.7px,#00aa88 210.9px,#00aaaa 211.1px,#0099dd 211.3px,#0099dd 212.6px,#00aaaa 212.8px,#00aa88 213px,#009e29 213.2px,#009e29 215.1px,#00aa88 215.3px,#00aaaa 215.5px,#0099dd 215.7px,#0092dd 219.2px,#0000be 219.5px,#0000be 220.6px,#810092 221px,#800090 234px,#7a008b 240px,#770088 242.3px,#51005c 246px,#1d0021 252px,#000000 258px,#000000 267px)"></i>
<i style="top:235px;height:15px;background:linear-gradient(90deg,#2dff00 0px,#2dff00 1.1px,#7a008b 1.3px,#7a008b 2.2px,#300036 2.4px,#300036 10px,#210026 12px,#210026 43px,#470052 49px,#770088 52.5px,#800090 54.5px,#860097 56.5px,#880099 56.7px,#5200a0 57.5px,#0000aa 58.3px,#0000dd 59.5px,#0077dd 62.5px,#008bdd 72px,#0099dd 76.57px,#009ece 80px,#00aaaa 86.16px,#00aa88 94.96px,#009c1b 102px,#009900 103.5px,#009c00 106px,#00a500 122px,#00ad00 129px,#00bb00 131.9px,#00c500 134px,#00c500 145.5px,#00bb00 148.5px,#00aa00 151px,#009900 151.9px,#009c1b 152.3px,#00a036 154px,#00aa88 158px,#00aa9c 164px,#00aaaa 166.9px,#00a5b9 169px,#0099dd 172px,#007edd 179px,#0077dd 179.9px,#0030dd 182.5px,#0000dd 185.5px,#0000ce 197.5px,#0000be 198.5px,#00a036 198.9px,#00a036 200.7px,#0000d3 201.1px,#0000d3 202.5px,#0000dd 202.5px,#0077dd 202.7px,#0099dd 202.8px,#00aaaa 203px,#00aa96 203.1px,#00aa8f 205px,#00aa92 206.5px,#00aa8f 208.2px,#00aa88 208.3px,#009e29 208.8px,#009e29 210.7px,#00aa88 210.9px,#00aaaa 211.1px,#0099dd 211.3px,#0099dd 212.6px,#00aaaa 212.8px,#00aa88 213px,#009e29 213.2px,#009e29 215.1px,#00aa88 215.3px,#00aaaa 215.5px,#0099dd 215.7px,#0092dd 219.2px,#0000be 219.5px,#0000be 220.6px,#810092 221px,#800090 234px,#7a008b 240px,#770088 242.3px,#51005c 246px,#1d0021 252px,#000000 258px,#000000 267px)"></i>
<i style="top:250px;height:1px;background:linear-gradient(90deg,#2dff00 0px,#2dff00 1.1px,#7a008b 1.3px,#7a008b 2.2px,#300036 2.4px,#300036 10px,#210026 12px,#210026 43px,#470052 49px,#770088 52.5px,#800090 54.5px,#860097 56.5px,#880099 56.7px,#5200a0 57.5px,#0000aa 58.3px,#0000dd 59.5px,#0077dd 62.5px,#008bdd 72px,#0096dd 76px,#0099dd 76.94px,#009ecf 80px,#00a5b9 84px,#00aaaa 86.47px,#00aa88 95.1px,#009c1b 102px,#009900 103.5px,#009c00 106px,#00a500 122px,#00ad00 129px,#00bb00 131.9px,#00c500 134px,#00c500 145.5px,#00bb00 148.5px,#00aa00 151px,#009900 151.9px,#009c1b 152.3px,#00a036 154px,#00aa88 158px,#00aa9c 164px,#00aaaa 166.9px,#00a5b9 169px,#0099dd 172px,#007edd 179px,#0077dd 179.9px,#0030dd 182.5px,#0000dd 185.5px,#0000ce 197.5px,#0000be 198.5px,#00a036 198.9px,#00a036 200.7px,#0000d3 201.1px,#0000d3 202.5px,#0000dd 202.5px,#0077dd 202.7px,#0099dd 202.8px,#00aaaa 203px,#00aa96 203.1px,#00aa8f 205px,#00aa92 206.5px,#00aa8f 208.2px,#00aa88 208.3px,#009e29 208.8px,#009e29 210.7px,#00aa88 210.9px,#00aaaa 211.1px,#0099dd 211.3px,#0099dd 212.6px,#00aaaa 212.8px,#00aa88 213px,#009e29 213.2px,#009e29 215.1px,#00aa88 215.3px,#00aaaa 215.5px,#0099dd 215.7px,#0092dd 219.2px,#0000be 219.5px,#0000be 220.6px,#810092 221px,#800090 234px,#7a008b 240px,#770088 242.3px,#51005c 246px,#1d0021 252px,#000000 258px,#000000 267px)"></i>
<i style="top:251px;height:16px;background:linear-gradient(90deg,#2dff00 0px,#2dff00 1.1px,#7a008b 1.3px,#7a008b 2.2px,#300036 2.4px,#300036 10px,#210026 12px,#210026 43px,#470052 49px,#770088 52.5px,#800090 54.5px,#860097 56.5px,#880099 56.7px,#5200a0 57.5px,#0000aa 58.3px,#0000dd 59.5px,#0077dd 62.5px,#008bdd 76px,#0099dd 80.57px,#009ece 84px,#00aaaa 89.04px,#00aa88 96.24px,#009c1b 102px,#009900 103.5px,#009c00 106px,#00a500 122px,#00ad00 129px,#00bb00 131.9px,#00c500 134px,#00c500 145.5px,#00bb00 148.5px,#00aa00 151px,#009900 151.9px,#009c1b 152.3px,#00a036 154px,#00aa88 158px,#00aa9c 164px,#00aaaa 166.9px,#00a5b9 169px,#0099dd 172px,#007edd 179px,#0077dd 179.9px,#0030dd 182.5px,#0000dd 185.5px,#0000ce 197.5px,#0000be 198.5px,#00a036 198.9px,#00a036 200.7px,#0000d3 201.1px,#0000d3 202.5px,#0000dd 202.5px,#0077dd 202.7px,#0099dd 202.8px,#00aaaa 203px,#00aa96 203.1px,#00aa8f 205px,#00aa92 206.5px,#00aa8f 208.2px,#00aa88 208.3px,#009e29 208.8px,#009e29 210.7px,#00aa88 210.9px,#00aaaa 211.1px,#0099dd 211.3px,#0099dd 212.6px,#00aaaa 212.8px,#00aa88 213px,#009e29 213.2px,#009e29 215.1px,#00aa88 215.3px,#00aaaa 215.5px,#0099dd 215.7px,#0092dd 219.2px,#0000be 219.5px,#0000be 220.6px,#810092 221px,#800090 234px,#7a008b 240px,#770088 242.3px,#51005c 246px,#1d0021 252px,#000000 258px,#000000 267px)"></i>
<i style="top:267px;height:1px;background:linear-gradient(90deg,#2dff00 0px,#2dff00 1.1px,#7a008b 1.3px,#7a008b 2.2px,#300036 2.4px,#300036 10px,#210026 12px,#210026 43px,#470052 49px,#770088 52.5px,#800090 54.5px,#860097 56.5px,#880099 56.7px,#5200a0 57.5px,#0000aa 58.3px,#0000dd 59.5px,#0077dd 62.5px,#008bdd 76px,#0099dd 80.57px,#009ece 84px,#00aaaa 89.14px,#00aa88 96.48px,#009d22 102px,#009b10 103px,#009a07 103.5px,#009900 104.2px,#009a00 104.5px,#009e00 106px,#00a600 122px,#00ae00 129px,#00bb00 131.7px,#00c600 134px,#00c600 145.5px,#00bc00 148.5px,#00bb00 148.7px,#00ab00 151px,#009900 151.9px,#009c1b 152.3px,#00a036 154px,#00aa88 158px,#00aa9c 164px,#00aaaa 166.9px,#00a5b9 169px,#0099dd 172px,#007edd 179px,#0077dd 179.9px,#0030dd 182.5px,#0000dd 185.5px,#0000ce 197.5px,#0000be 198.5px,#00a036 198.9px,#00a036 200.7px,#0000d3 201.1px,#0000d3 202.5px,#0000dd 202.5px,#0077dd 202.7px,#0099dd 202.8px,#00aaaa 203px,#00aa96 203.1px,#00aa8f 205px,#00aa92 206.5px,#00aa8f 208.2px,#00aa88 208.3px,#009e29 208.8px,#009e29 210.7px,#00aa88 210.9px,#00aaaa 211.1px,#0099dd 211.3px,#0099dd 212.6px,#00aaaa 212.8px,#00aa88 213px,#009e29 213.2px,#009e29 215.1px,#00aa88 215.3px,#00aaaa 215.5px,#0099dd 215.7px,#0092dd 219.2px,#0000be 219.5px,#0000be 220.6px,#810092 221px,#800090 234px,#7a008b 240px,#770088 242.3px,#51005c 246px,#1d0021 252px,#000000 258px,#000000 267px)"></i>
<i style="top:268px;height:16px;background:linear-gradient(90deg,#2dff00 0px,#2dff00 1.1px,#7a008b 1.3px,#7a008b 2.2px,#300036 2.4px,#300036 10px,#210026 12px,#210026 43px,#470052 49px,#770088 52.5px,#800090 54.5px,#860097 56.5px,#880099 56.7px,#5200a0 57.5px,#0000aa 58.3px,#0000dd 59.5px,#0077dd 62.5px,#008bdd 76px,#0099dd 80.57px,#009ece 84px,#00aaaa 89.32px,#00aa88 96.92px,#009c1b 103px,#009900 104.5px,#00a000 106px,#00a800 122px,#00b000 129px,#00bb00 131.2px,#00c900 134px,#00c900 145.5px,#00be00 148.5px,#00bb00 149px,#00ac00 151px,#009900 152px,#009c1b 152.3px,#00a036 154px,#00aa88 158px,#00aa9c 164px,#00aaaa 166.9px,#00a5b9 169px,#0099dd 172px,#007edd 179px,#0077dd 179.9px,#0030dd 182.5px,#0000dd 185.5px,#0000ce 197.5px,#0000be 198.5px,#00a036 198.9px,#00a036 200.7px,#0000d3 201.1px,#0000d3 202.5px,#0000dd 202.5px,#0077dd 202.7px,#0099dd 202.8px,#00aaaa 203px,#00aa96 203.1px,#00aa8f 205px,#00aa92 206.5px,#00aa8f 208.2px,#00aa88 208.3px,#009e29 208.8px,#009e29 210.7px,#00aa88 210.9px,#00aaaa 211.1px,#0099dd 211.3px,#0099dd 212.6px,#00aaaa 212.8px,#00aa88 213px,#009e29 213.2px,#009e29 215.1px,#00aa88 215.3px,#00aaaa 215.5px,#0099dd 215.7px,#0092dd 219.2px,#0000be 219.5px,#0000be 220.6px,#810092 221px,#800090 234px,#7a008b 240px,#770088 242.3px,#51005c 246px,#1d0021 252px,#000000 258px,#000000 267px)"></i>
<i style="top:284px;height:1px;background:linear-gradient(90deg,#2dff00 0px,#2dff00 1.1px,#7a008b 1.3px,#7a008b 2.2px,#300036 2.4px,#300036 10px,#210026 12px,#210026 43px,#470052 49px,#770088 52.5px,#800090 54.5px,#860097 56.5px,#880099 56.7px,#5200a0 57.5px,#0000aa 58.3px,#0000dd 59.5px,#0077dd 62.5px,#008add 74px,#008fdd 76px,#0099dd 79.3px,#009dd1 82px,#00a1c4 84px,#00aaaa 87.73px,#00aa88 94.94px,#009f32 99.5px,#009c17 101px,#009903 103px,#009900 103.3px,#009c00 104.5px,#00a000 106px,#00a800 122px,#00b000 129px,#00bb00 131.2px,#00c900 134px,#00c900 145.5px,#00be00 148.5px,#00bb00 149px,#00ac00 151px,#009900 152px,#009c1b 152.3px,#00a036 154px,#00aa88 158px,#00aa9c 164px,#00aaaa 166.9px,#00a5b9 169px,#0099dd 172px,#007edd 179px,#0077dd 179.9px,#0030dd 182.5px,#0000dd 185.5px,#0000ce 197.5px,#0000be 198.5px,#00a036 198.9px,#00a036 200.7px,#0000d3 201.1px,#0000d3 202.5px,#0000dd 202.5px,#0077dd 202.7px,#0099dd 202.8px,#00aaaa 203px,#00aa96 203.1px,#00aa8f 205px,#00aa92 206.5px,#00aa8f 208.2px,#00aa88 208.3px,#009e29 208.8px,#009e29 210.7px,#00aa88 210.9px,#00aaaa 211.1px,#0099dd 211.3px,#0099dd 212.6px,#00aaaa 212.8px,#00aa88 213px,#009e29 213.2px,#009e29 215.1px,#00aa88 215.3px,#00aaaa 215.5px,#0099dd 215.7px,#0092dd 219.2px,#0000be 219.5px,#0000be 220.6px,#810092 221px,#800090 234px,#7a008b 240px,#770088 242.3px,#51005c 246px,#1d0021 252px,#000000 258px,#000000 267px)"></i>
<i style="top:285px;height:16px;background:linear-gradient(90deg,#2dff00 0px,#2dff00 1.1px,#7a008b 1.3px,#7a008b 2.2px,#300036 2.4px,#300036 10px,#210026 12px,#210026 43px,#470052 49px,#770088 52.5px,#800090 54.5px,#860097 56.5px,#880099 56.7px,#5200a0 57.5px,#0000aa 58.3px,#0000dd 59.5px,#0077dd 62.5px,#008bdd 74px,#0099dd 78.57px,#009ece 82px,#00aaaa 86.9px,#00aa88 93.9px,#009c1b 99.5px,#009900 101px,#00a000 106px,#00a800 122px,#00b000 129px,#00bb00 131.2px,#00c900 134px,#00c900 145.5px,#00be00 148.5px,#00bb00 149px,#00ac00 151px,#009900 152px,#009c1b 152.3px,#00a036 154px,#00aa88 158px,#00aa9c 164px,#00aaaa 166.9px,#00a5b9 169px,#0099dd 172px,#007edd 179px,#0077dd 179.9px,#0030dd 182.5px,#0000dd 185.5px,#0000ce 197.5px,#0000be 198.5px,#00a036 198.9px,#00a036 200.7px,#0000d3 201.1px,#0000d3 202.5px,#0000dd 202.5px,#0077dd 202.7px,#0099dd 202.8px,#00aaaa 203px,#00aa96 203.1px,#00aa8f 205px,#00aa92 206.5px,#00aa8f 208.2px,#00aa88 208.3px,#009e29 208.8px,#009e29 210.7px,#00aa88 210.9px,#00aaaa 211.1px,#0099dd 211.3px,#0099dd 212.6px,#00aaaa 212.8px,#00aa88 213px,#009e29 213.2px,#009e29 215.1px,#00aa88 215.3px,#00aaaa 215.5px,#0099dd 215.7px,#0092dd 219.2px,#0000be 219.5px,#0000be 220.6px,#810092 221px,#800090 234px,#7a008b 240px,#770088 242.3px,#51005c 246px,#1d0021 252px,#000000 258px,#000000 267px)"></i>
<i style="top:301px;height:1px;background:linear-gradient(90deg,#2dff00 0px,#2dff00 1.1px,#7a008b 1.3px,#7a008b 2.2px,#300036 2.4px,#300036 10px,#210026 12px,#210026 43px,#470052 49px,#770088 52.5px,#800090 54.5px,#860097 56.5px,#880099 56.7px,#5200a0 57.5px,#0000aa 58.3px,#0000dd 59.5px,#0077dd 62.5px,#008bdd 72px,#0091dd 74px,#0099dd 76.75px,#009ecf 80px,#00a3c0 82px,#00aaaa 84.95px,#00aa88 91.77px,#009d20 97px,#009a04 98.5px,#009901 99.5px,#009900 99.75px,#009a00 101px,#009d00 106px,#00a500 122px,#00ad00 129px,#00bb00 131.9px,#00c600 134px,#00c600 145.5px,#00bb00 148.5px,#00aa00 151px,#009900 151.9px,#009c1b 152.3px,#00a036 154px,#00aa88 158px,#00aa9c 164px,#00aaaa 166.9px,#00a5b9 169px,#0099dd 172px,#007edd 179px,#0077dd 179.9px,#0030dd 182.5px,#0000dd 185.5px,#0000ce 197.5px,#0000be 198.5px,#00a036 198.9px,#00a036 200.7px,#0000d3 201.1px,#0000d3 202.5px,#0000dd 202.5px,#0077dd 202.7px,#0099dd 202.8px,#00aaaa 203px,#00aa96 203.1px,#00aa8f 205px,#00aa92 206.5px,#00aa8f 208.2px,#00aa88 208.3px,#009e29 208.8px,#009e29 210.7px,#00aa88 210.9px,#00aaaa 211.1px,#0099dd 211.3px,#0099dd 212.6px,#00aaaa 212.8px,#00aa88 213px,#009e29 213.2px,#009e29 215.1px,#00aa88 215.3px,#00aaaa 215.5px,#0099dd 215.7px,#0092dd 219.2px,#0000be 219.5px,#0000be 220.6px,#810092 221px,#800090 234px,#7a008b 240px,#770088 242.3px,#51005c 246px,#1d0021 252px,#000000 258px,#000000 267px)"></i>
<i style="top:302px;height:15px;background:linear-gradient(90deg,#2dff00 0px,#2dff00 1.1px,#7a008b 1.3px,#7a008b 2.2px,#300036 2.4px,#300036 10px,#210026 12px,#210026 43px,#470052 49px,#770088 52.5px,#800090 54.5px,#860097 56.5px,#880099 56.7px,#5200a0 57.5px,#0000aa 58.3px,#0000dd 59.5px,#0077dd 62.5px,#008bdd 72px,#0099dd 76.57px,#009ece 80px,#00aaaa 84.76px,#00aa88 91.56px,#009c1b 97px,#009900 98.5px,#009c00 106px,#00a500 122px,#00ad00 129px,#00bb00 131.9px,#00c500 134px,#00c500 145.5px,#00bb00 148.5px,#00aa00 151px,#009900 151.9px,#009c1b 152.3px,#00a036 154px,#00aa88 158px,#00aa9c 164px,#00aaaa 166.9px,#00a5b9 169px,#0099dd 172px,#007edd 179px,#0077dd 179.9px,#0030dd 182.5px,#0000dd 185.5px,#0000ce 197.5px,#0000be 198.5px,#00a036 198.9px,#00a036 200.7px,#0000d3 201.1px,#0000d3 202.5px,#0000dd 202.5px,#0077dd 202.7px,#0099dd 202.8px,#00aaaa 203px,#00aa96 203.1px,#00aa8f 205px,#00aa92 206.5px,#00aa8f 208.2px,#00aa88 208.3px,#009e29 208.8px,#009e29 210.7px,#00aa88 210.9px,#00aaaa 211.1px,#0099dd 211.3px,#0099dd 212.6px,#00aaaa 212.8px,#00aa88 213px,#009e29 213.2px,#009e29 215.1px,#00aa88 215.3px,#00aaaa 215.5px,#0099dd 215.7px,#0092dd 219.2px,#0000be 219.5px,#0000be 220.6px,#810092 221px,#800090 234px,#7a008b 240px,#770088 242.3px,#51005c 246px,#1d0021 252px,#000000 258px,#000000 267px)"></i>
<i style="top:317px;height:1px;background:linear-gradient(90deg,#2dff00 0px,#2dff00 1.1px,#7a008b 1.3px,#7a008b 2.2px,#300036 2.4px,#300036 9px,#2f0036 10px,#28002e 11px,#230028 12px,#230028 30px,#230028 43px,#42004b 49px,#5a0067 51px,#6b007a 52.5px,#770088 52.99px,#7c008d 54.5px,#820093 56.5px,#880099 57.39px,#82009a 57.5px,#3f00a2 58.3px,#0000aa 58.98px,#0000bc 59.5px,#0000dd 61.85px,#0015dd 62.5px,#0050dd 72px,#0077dd 76.54px,#007fdd 80px,#0098dd 86px,#0099dd 86.2px,#00a1c4 90px,#00aaaa 94.25px,#00aa9f 97px,#00aa99 98.5px,#00aa96 106px,#00aa91 118px,#00aa90 122px,#00aa8a 129px,#00aa88 129.4px,#00a13f 134px,#00a13f 145.5px,#00a245 146px,#00a562 148.5px,#00a984 150px,#00aa88 150.2px,#00aa8d 151px,#00aaa0 152.3px,#00aaa6 154px,#00aaaa 155.1px,#00a4bc 158px,#009cd5 164px,#0099dd 165.3px,#008bdd 169px,#0077dd 172px,#0029dd 179px,#0000dd 180.8px,#0000cd 182.5px,#0000bd 185.5px,#0000b0 197.5px,#0000aa 198px,#1200a8 198.5px,#00aaa6 198.9px,#00aaa6 200.7px,#0000b4 201.1px,#0000b4 202.5px,#0000dd 202.7px,#0077dd 202.8px,#0099dd 203px,#009ecd 203.1px,#00a1c5 205px,#00a0c9 206.5px,#00a1c5 208.2px,#00aaaa 208.6px,#00aaa3 208.8px,#00aaa3 210.7px,#00aaaa 210.8px,#0099dd 211px,#0077dd 211.3px,#0076dd 212.6px,#0077dd 212.6px,#0099dd 212.9px,#00aaaa 213.1px,#00aaa3 213.2px,#00aaa3 215.1px,#00aaaa 215.2px,#0099dd 215.4px,#0077dd 215.7px,#0076dd 215.7px,#0063dd 219.2px,#1200a8 219.5px,#1200a8 220.6px,#7e008f 221px,#7c008d 234px,#7b008c 236px,#780089 240px,#770088 240.6px,#470051 246px,#17001b 252px,#000000 258px,#000000 267px)"></i>
<i style="top:318px;height:16px;background:linear-gradient(90deg,#2dff00 0px,#2dff00 1.1px,#7a008b 1.3px,#7a008b 2.2px,#300036 2.4px,#300036 9px,#28002e 11px,#28002e 30px,#28002e 49px,#34003c 51px,#400049 86px,#560062 90px,#580065 118px,#4a0054 122px,#470052 146px,#3e0047 150px,#37003f 236px,#18001b 246px,#000000 252px,#000000 267px)"></i>
<i style="top:334px;height:1px;background:linear-gradient(90deg,#2dff00 0px,#2dff00 1.1px,#7a008b 1.3px,#7a008b 2.2px,#300036 2.4px,#300036 9px,#28002e 11px,#28002e 30px,#28002e 49px,#2e0035 51px,#320039 68px,#380040 70px,#3b0043 86px,#470051 90px,#480052 118px,#400049 122px,#3f0048 146px,#3a0042 150px,#37003f 200px,#300037 236px,#19001d 244px,#130015 246px,#040005 250px,#000000 252px,#000000 267px)"></i>
<i style="top:335px;height:16px;background:linear-gradient(90deg,#2dff00 0px,#2dff00 1.1px,#7a008b 1.3px,#7a008b 2.2px,#300036 2.4px,#300036 9px,#27002d 11px,#27002d 68px,#34003c 70px,#34003c 200px,#27002d 236px,#130016 244px,#000000 250px,#000000 267px)"></i>
<i style="top:351px;height:1px;background:linear-gradient(90deg,#2dff00 0px,#2dff00 1.1px,#7a008b 1.3px,#7a008b 2.2px,#300036 2.4px,#300036 9px,#1f0024 11px,#1f0024 43px,#50005b 45.5px,#770088 46.35px,#7b008c 47px,#850096 48.5px,#880099 48.71px,#0000aa 50px,#0000dd 51.85px,#006add 53.5px,#0077dd 53.63px,#0099dd 54.85px,#00aaaa 56.06px,#00aa9e 56.5px,#00aa88 58.69px,#009c19 61.5px,#009900 62.25px,#00ac00 64.5px,#00bb00 66.38px,#00c400 67.5px,#00c500 68px,#00ca00 70px,#00d700 76px,#00dd00 78.6px,#00e500 82px,#00ef00 88px,#00f900 93px,#00fd00 104px,#00ff00 104.5px,#09ff00 104.9px,#76ff00 105.2px,#76ff00 106.2px,#00f700 106.5px,#00f200 112px,#00ed00 130px,#00e000 134.5px,#00dd00 137.6px,#00d400 145.5px,#00c500 148px,#00c000 156px,#00bb00 157.3px,#00ad00 161px,#009900 164.2px,#009c15 165px,#00a13c 177px,#00aa88 178.9px,#00aa9d 181px,#00aaaa 182.4px,#00a4bb 183.5px,#009ad9 185.5px,#0099dd 186.6px,#008ddd 191px,#0083dd 195px,#0077dd 196.6px,#006ddd 197px,#004bdd 198.5px,#0088dd 198.9px,#0088dd 200px,#0088dd 200.2px,#004bdd 200.6px,#004bdd 202.2px,#0088dd 202.6px,#0088dd 204.2px,#004add 204.6px,#004add 205.6px,#008fdd 206px,#008fdd 208.4px,#005bdd 208.8px,#005bdd 209.6px,#0088dd 210px,#0088dd 212px,#004add 212.4px,#004add 213.2px,#0085dd 213.6px,#0085dd 215.3px,#0000ba 215.7px,#0000ba 216.3px,#006cdd 216.7px,#006cdd 217.6px,#0000ab 218px,#0000ab 218.6px,#0049dd 219px,#0049dd 220.4px,#1c00a6 220.8px,#2700a5 229px,#63009e 232px,#880099 235px,#860097 236px,#800091 240px,#7a008b 243px,#79008a 244px,#770088 247px,#770088 247.1px,#44004e 250px,#34003b 251px,#000000 255px,#000000 267px)"></i>
<i style="top:352px;height:16px;background:linear-gradient(90deg,#2dff00 0px,#2dff00 1.1px,#7a008b 1.3px,#7a008b 2.2px,#300036 2.4px,#300036 9px,#1d0021 11px,#1d0021 43px,#5f006d 45.5px,#770088 45.88px,#810092 47px,#880099 47.75px,#5200a0 48.5px,#0000aa 49.06px,#0000dd 50px,#0077dd 51.35px,#0099dd 52.69px,#00a3be 53.5px,#00aaaa 53.85px,#00aa88 54.74px,#009900 55.62px,#00bb00 56.5px,#00dd00 59px,#00ff00 61.5px,#bbff00 64.5px,#eeee00 67.5px,#fad600 76px,#ffcc00 79px,#ffbd00 82px,#ffa800 88px,#ff9900 91.75px,#ff8a00 93px,#ff7400 104px,#ff5c00 104.9px,#f80000 105.2px,#f80000 106.2px,#ff9900 106.5px,#ffa300 112px,#ffad00 130px,#ffc700 134.5px,#ffcc00 136.7px,#f8da00 145.5px,#eeee00 148px,#e4f100 156px,#bbff00 161px,#00ff00 165px,#00f100 177px,#00dd00 178.5px,#00bb00 181px,#009900 183.5px,#00a76d 185.5px,#00aa88 187.3px,#00aa96 191px,#00aaa3 195px,#00aaaa 195.7px,#00a3be 197px,#009cd3 198.5px,#00aa9c 198.9px,#00aa9c 200.2px,#009cd3 200.6px,#009cd3 202.2px,#00aa9c 202.6px,#00aa9c 204.2px,#009cd3 204.6px,#009cd3 205.6px,#00aa92 206px,#00aa92 208.4px,#00a0c9 208.8px,#00a0c9 209.6px,#00aa9c 210px,#00aa9c 212px,#009cd3 212.4px,#009cd3 213.2px,#00aaa0 213.6px,#00aaa0 215.3px,#0030dd 215.7px,#0030dd 216.3px,#00a3be 216.7px,#00a3be 217.6px,#0000dd 218px,#0000dd 218.6px,#009cd3 219px,#009cd3 220.4px,#0000ce 220.8px,#0000c9 229px,#0000aa 232px,#880099 240px,#810092 243px,#7d008e 247px,#770088 248.9px,#470052 251px,#000000 255px,#000000 267px)"></i>
</div>
<div class="t" style="right:607.8px;top:30.76px;font-size:13.89px">On</div>
<div class="t" style="left:612.3px;top:30.76px;font-size:13.89px">On</div>
<div class="t" style="right:607.8px;top:47.49px;font-size:13.89px">Y</div>
<div class="t" style="left:612.3px;top:47.49px;font-size:13.89px">Y</div>
<div class="t" style="right:607.8px;top:64.22px;font-size:13.89px">Off</div>
<div class="t" style="left:612.3px;top:64.22px;font-size:13.89px">Off</div>
<div class="t" style="right:607.8px;top:80.95px;font-size:13.89px">P</div>
<div class="t" style="left:612.3px;top:80.95px;font-size:13.89px">P</div>
<div class="t" style="right:607.8px;top:97.67px;font-size:13.89px">O</div>
<div class="t" style="left:612.3px;top:97.67px;font-size:13.89px">O</div>
<div class="t" style="right:607.8px;top:114.40px;font-size:13.89px">N</div>
<div class="t" style="left:612.3px;top:114.40px;font-size:13.89px">N</div>
<div class="t" style="right:607.8px;top:131.13px;font-size:13.89px">M</div>
<div class="t" style="left:612.3px;top:131.13px;font-size:13.89px">M</div>
<div class="t" style="right:607.8px;top:147.85px;font-size:13.89px">L</div>
<div class="t" style="left:612.3px;top:147.85px;font-size:13.89px">L</div>
<div class="t" style="right:607.8px;top:164.58px;font-size:13.89px">K</div>
<div class="t" style="left:612.3px;top:164.58px;font-size:13.89px">K</div>
<div class="t" style="right:607.8px;top:181.31px;font-size:13.89px">J</div>
<div class="t" style="left:612.3px;top:181.31px;font-size:13.89px">J</div>
<div class="t" style="right:607.8px;top:198.04px;font-size:13.89px">I</div>
<div class="t" style="left:612.3px;top:198.04px;font-size:13.89px">I</div>
<div class="t" style="right:607.8px;top:214.76px;font-size:13.89px">H</div>
<div class="t" style="left:612.3px;top:214.76px;font-size:13.89px">H</div>
<div class="t" style="right:607.8px;top:231.49px;font-size:13.89px">G</div>
<div class="t" style="left:612.3px;top:231.49px;font-size:13.89px">G</div>
<div class="t" style="right:607.8px;top:248.22px;font-size:13.89px">F</div>
<div class="t" style="left:612.3px;top:248.22px;font-size:13.89px">F</div>
<div class="t" style="right:607.8px;top:264.95px;font-size:13.89px">E</div>
<div class="t" style="left:612.3px;top:264.95px;font-size:13.89px">E</div>
<div class="t" style="right:607.8px;top:281.67px;font-size:13.89px">D</div>
<div class="t" style="left:611.3px;top:280.67px;font-size:13.89px">D **</div>
<div class="t" style="right:607.8px;top:298.40px;font-size:13.89px">C</div>
<div class="t" style="left:612.3px;top:298.40px;font-size:13.89px">C</div>
<div class="t" style="right:607.8px;top:315.13px;font-size:13.89px">B</div>
<div class="t" style="left:612.3px;top:315.13px;font-size:13.89px">B</div>
<div class="t" style="right:607.8px;top:331.85px;font-size:13.89px">A</div>
<div class="t" style="left:612.3px;top:331.85px;font-size:13.89px">A</div>
<div class="t" style="right:607.8px;top:348.58px;font-size:13.89px">Off</div>
<div class="t" style="left:612.3px;top:348.58px;font-size:13.89px">Off</div>
<div class="t" style="right:607.8px;top:365.31px;font-size:13.89px">X</div>
<div class="t" style="left:612.3px;top:365.31px;font-size:13.89px">X</div>
<div class="t" style="right:607.8px;top:382.04px;font-size:13.89px">On</div>
<div class="t" style="left:612.3px;top:382.04px;font-size:13.89px">On</div>
<div class="t" style="left:48.4px;width:267px;text-align:center;top:2.3px;font-size:16.67px">31.8 (Tile028=28) X</div>
<div class="t" style="left:328.4px;width:267px;text-align:center;top:2.3px;font-size:16.67px">31.8 (Tile028=28) Y</div>
<div class="t" style="left:-23.2px;top:210.8px;width:44.4px;text-align:center;font-size:13.89px;letter-spacing:-0.3px;transform:rotate(-90deg);transform-origin:50%% 50%%">Dipole</div>
<svg width="640" height="440" viewBox="0 0 640 440">
<defs><clipPath id="cl"><rect x="48" y="28" width="267" height="368"/></clipPath><clipPath id="cr"><rect x="328" y="28" width="267" height="368"/></clipPath></defs>
<g clip-path="url(#cl)" fill="none" stroke="#fff" stroke-width="3.1" stroke-linejoin="round" stroke-linecap="butt">
<polyline points="48.4,102.5 49.0,301.4 61,301.5 63.5,302.4 86,302.4 90,302 93.5,300.5 96.5,298 99.5,294.5 101.9,290 103.75,285"/>
<polyline points="103.8,285.0 105.0,277.3 106.2,269.6 107.5,261.6 108.8,253.1 110.0,246.3 111.2,242.0 112.5,237.7 113.8,230.5 115.0,221.4 116.2,213.4 117.5,207.7 118.8,201.9 120.0,197.7 121.2,195.7 122.5,193.7 123.8,191.6 125.0,189.6 126.2,187.7 127.5,186.0 128.8,184.2 130.0,182.5 131.2,181.1 132.5,180.1 133.8,179.2 135.0,178.3 136.2,177.3 137.5,176.4 138.8,175.8 140.0,175.6 141.2,175.3 142.5,175.1 143.8,174.6 145.0,174.0 146.2,173.4 147.5,172.7 148.8,172.1 150.0,171.5 151.2,170.8 152.5,170.2 153.8,169.6 155.0,169.0 156.2,168.4 157.5,167.7 158.8,167.2 160.0,166.6 161.2,166.1 162.5,165.6 163.8,165.0 165.0,164.5 166.2,163.7 167.5,162.9 168.8,162.1 170.0,161.3 171.2,160.5 172.5,159.5 173.8,158.2 175.0,157.0 176.2,156.2 177.5,156.0 178.8,156.5 180.0,157.1 181.2,157.8 182.5,156.8 183.8,155.8 185.0,154.5 186.2,153.3 187.5,154.3 188.8,155.3 190.0,157.2 191.2,159.2 192.5,161.3 193.8,162.3 195.0,163.2 196.2,164.2 197.5,165.2 198.8,168.2 200.0,171.3 201.2,174.0 202.5,176.6 203.8,179.1 205.0,181.5 206.2,184.0 207.5,186.5 208.8,189.1 210.0,191.8 211.2,194.5 212.5,197.5 213.8,200.6 215.0,203.8 216.2,207.1 217.5,210.6 218.8,214.0 220.0,217.2 221.2,220.4 222.5,223.5 223.8,226.0 225.0,227.9 226.2,229.8 227.5,231.8 228.8,233.7 230.0,235.8 231.2,238.3 232.5,240.6 233.8,242.8 235.0,245.0 236.2,247.2 237.5,249.3 238.8,251.5 240.0,253.7 241.2,255.9 242.5,258.1 243.8,260.3 245.0,262.5 246.2,264.7"/>
<polyline points="103.8,285.4 105.0,278.5 106.2,271.1 107.5,263.4 108.8,255.9 110.0,249.8 111.2,245.4 112.5,240.8 113.8,234.4 115.0,226.9 116.2,220.8 117.5,216.5 118.8,211.8 120.0,207.4 121.2,204.4 122.5,201.8 123.8,199.7 125.0,197.7 126.2,195.4 127.5,192.8 128.8,190.4 130.0,188.5 131.2,187.2 132.5,186.2 133.8,184.6 135.0,182.7 136.2,181.2 137.5,180.6 138.8,180.4 140.0,179.9 141.2,179.1 142.5,178.2 143.8,177.7 145.0,177.6 146.2,177.3 147.5,176.4 148.8,175.2 150.0,174.3 151.2,173.8 152.5,173.6 153.8,173.0 155.0,171.9 156.2,170.6 157.5,169.9 158.8,169.6 160.0,169.4 161.2,168.7 162.5,167.5 163.8,166.5 165.0,166.1 166.2,165.8 167.5,165.2 168.8,164.0 170.0,162.6 171.2,161.6 172.5,161.0 173.8,160.3 175.0,159.1 176.2,157.9 177.5,157.2 178.8,157.8 180.0,158.9 181.2,159.8 182.5,158.7 183.8,157.2 185.0,155.8 186.2,155.0 187.5,156.4 188.8,157.6 190.0,158.9 191.2,160.3 192.5,162.1 193.8,163.5 195.0,164.8 196.2,165.7 197.5,166.2 198.8,168.8 200.0,172.0 201.2,175.2 202.5,178.0 203.8,180.1 205.0,182.1 206.2,184.5 207.5,187.4 208.8,190.5 210.0,193.2 211.2,195.5 212.5,198.2 213.8,201.5 215.0,205.1 216.2,208.7 217.5,211.9 218.8,214.8 220.0,217.8 221.2,221.2 222.5,224.8 223.8,227.3 225.0,228.9 226.2,230.3 227.5,232.3 228.8,234.8 230.0,237.3 231.2,239.5 232.5,241.2 233.8,243.1 235.0,245.6 236.2,248.3 237.5,250.6 238.8,252.4 240.0,254.1 241.2,256.2 242.5,258.8 243.8,261.4 245.0,263.5 246.2,265.2"/>
<polyline points="103.8,285.3 105.0,278.2 106.2,271.3 107.5,264.8 108.8,258.2 110.0,251.9 111.2,246.4 112.5,241.4 113.8,236.3 115.0,230.5 116.2,225.3 117.5,220.9 118.8,215.9 120.0,211.6 121.2,209.0 122.5,206.8 123.8,204.3 125.0,201.2 126.2,198.3 127.5,195.9 128.8,194.1 130.0,192.4 131.2,190.4 132.5,188.4 133.8,186.4 135.0,185.1 136.2,184.1 137.5,183.3 138.8,182.3 140.0,181.1 141.2,180.4 142.5,180.3 143.8,180.2 145.0,179.6 146.2,178.5 147.5,177.4 148.8,176.7 150.0,176.5 151.2,176.1 152.5,175.2 153.8,173.9 155.0,172.9 156.2,172.4 157.5,172.2 158.8,171.6 160.0,170.6 161.2,169.4 162.5,168.7 163.8,168.5 165.0,168.3 166.2,167.4 167.5,166.1 168.8,164.8 170.0,164.2 171.2,163.8 172.5,163.2 173.8,161.8 175.0,160.2 176.2,159.3 177.5,159.4 178.8,160.3 180.0,160.9 181.2,161.0 182.5,159.8 183.8,158.9 185.0,158.3 186.2,157.7 187.5,158.3 188.8,158.8 190.0,160.2 191.2,162.1 192.5,164.2 193.8,165.2 195.0,165.6 196.2,166.2 197.5,167.3 198.8,170.4 200.0,173.7 201.2,176.3 202.5,178.3 203.8,180.4 205.0,183.1 206.2,186.2 207.5,188.9 208.8,191.2 210.0,193.6 211.2,196.3 212.5,199.9 213.8,203.5 215.0,206.6 216.2,209.4 217.5,212.4 218.8,215.9 220.0,219.6 221.2,222.8 222.5,225.6 223.8,227.5 225.0,229.4 226.2,231.7 227.5,234.1 228.8,236.2 230.0,237.8 231.2,239.7 232.5,242.0 233.8,244.6 235.0,247.2 236.2,249.2 237.5,250.8 238.8,252.6 240.0,255.0 241.2,257.7 242.5,260.1 243.8,261.9 245.0,263.5 246.2,265.6"/>
<polyline points="103.8,284.6 105.0,278.4 106.2,272.6 107.5,266.7 108.8,259.8 110.0,252.9 111.2,247.3 112.5,243.0 113.8,239.0 115.0,234.0 116.2,228.8 117.5,224.4 118.8,220.3 120.0,216.8 121.2,214.3 122.5,211.2 123.8,207.7 125.0,204.3 126.2,201.9 127.5,200.1 128.8,198.0 130.0,195.4 131.2,192.6 132.5,190.7 133.8,189.4 135.0,188.2 136.2,186.5 137.5,184.9 138.8,183.6 140.0,183.0 141.2,182.9 142.5,182.7 143.8,181.9 145.0,180.7 146.2,179.7 147.5,179.3 148.8,179.1 150.0,178.6 151.2,177.3 152.5,176.0 153.8,175.2 155.0,174.9 156.2,174.6 157.5,173.7 158.8,172.5 160.0,171.4 161.2,171.0 162.5,170.8 163.8,170.4 165.0,169.4 166.2,168.1 167.5,167.1 168.8,166.7 170.0,166.4 171.2,165.5 172.5,164.1 173.8,162.7 175.0,161.9 176.2,161.7 177.5,161.7 178.8,161.8 180.0,161.8 181.2,162.1 182.5,161.7 183.8,161.3 185.0,160.4 186.2,159.1 187.5,159.4 188.8,160.4 190.0,162.5 191.2,164.3 192.5,165.5 193.8,165.6 195.0,166.1 196.2,167.5 197.5,169.2 198.8,171.8 200.0,174.3 201.2,176.4 202.5,178.9 203.8,181.8 205.0,184.8 206.2,187.2 207.5,189.2 208.8,191.5 210.0,194.6 211.2,198.2 212.5,201.6 213.8,204.4 215.0,207.0 216.2,210.1 217.5,213.8 218.8,217.7 220.0,220.9 221.2,223.3 222.5,225.7 223.8,228.3 225.0,230.9 226.2,233.3 227.5,235.0 228.8,236.5 230.0,238.3 231.2,240.9 232.5,243.6 233.8,245.9 235.0,247.6 236.2,249.2 237.5,251.3 238.8,253.9 240.0,256.5 241.2,258.5 242.5,260.1 243.8,261.9 245.0,264.2 246.2,266.9"/>
<polyline points="103.8,284.8 105.0,279.6 106.2,274.0 107.5,267.7 108.8,261.2 110.0,255.0 111.2,249.8 112.5,245.6 113.8,241.8 115.0,237.3 116.2,233.3 117.5,230.2 118.8,227.3 120.0,223.7 121.2,220.0 122.5,216.2 123.8,212.7 125.0,209.8 126.2,207.5 127.5,204.9 128.8,201.9 130.0,198.9 131.2,196.6 132.5,195.0 133.8,193.4 135.0,191.2 136.2,188.7 137.5,187.3 138.8,186.7 140.0,186.3 141.2,185.7 142.5,184.6 143.8,183.5 145.0,182.8 146.2,182.6 147.5,182.2 148.8,181.3 150.0,180.1 151.2,179.1 152.5,178.7 153.8,178.6 155.0,178.2 156.2,177.2 157.5,176.0 158.8,175.4 160.0,175.2 161.2,175.1 162.5,174.5 163.8,173.5 165.0,172.6 166.2,172.2 167.5,172.2 168.8,171.9 170.0,171.0 171.2,169.9 172.5,169.1 173.8,168.8 175.0,168.6 176.2,168.1 177.5,167.2 178.8,167.0 180.0,167.4 181.2,168.2 182.5,168.2 183.8,167.2 185.0,166.0 186.2,165.2 187.5,165.9 188.8,167.6 190.0,168.9 191.2,169.1 192.5,169.1 193.8,169.5 195.0,170.4 196.2,172.2 197.5,173.6 198.8,174.8 200.0,177.0 201.2,179.8 202.5,182.8 203.8,185.5 205.0,187.7 206.2,189.6 207.5,192.0 208.8,195.2 210.0,199.0 211.2,202.4 212.5,205.2 213.8,207.9 215.0,211.1 216.2,214.8 217.5,218.3 218.8,221.2 220.0,223.8 221.2,226.2 222.5,229.1 223.8,232.1 225.0,234.6 226.2,236.2 227.5,237.7 228.8,239.7 230.0,242.3 231.2,244.8 232.5,246.7 233.8,248.2 235.0,249.9 236.2,252.3 237.5,254.8 238.8,257.1 240.0,258.8 241.2,260.3 242.5,262.3 243.8,264.8 245.0,267.3 246.2,269.3"/>
<polyline points="103.8,285.0 105.0,279.7 106.2,274.5 107.5,269.2 108.8,263.8 110.0,257.7 111.2,251.6 112.5,246.9 113.8,244.2 115.0,241.5 116.2,238.8 117.5,236.2 118.8,233.3 120.0,229.6 121.2,225.9 122.5,222.2 123.8,218.6 125.0,214.9 126.2,211.9 127.5,209.1 128.8,206.4 130.0,203.6 131.2,200.9 132.5,198.5 133.8,196.3 135.0,194.1 136.2,191.9 137.5,190.6 138.8,189.6 140.0,188.5 141.2,187.8 142.5,187.0 143.8,186.3 145.0,185.5 146.2,184.8 147.5,184.0 148.8,183.3 150.0,182.5 151.2,181.8 152.5,181.0 153.8,180.3 155.0,179.7 156.2,179.0 157.5,178.3 158.8,177.7 160.0,177.0 161.2,176.4 162.5,175.8 163.8,175.3 165.0,174.7 166.2,174.1 167.5,173.6 168.8,173.0 170.0,172.4 171.2,171.9 172.5,171.2 173.8,170.6 175.0,170.0 176.2,169.5 177.5,169.0 178.8,169.2 180.0,169.5 181.2,169.7 182.5,169.5 183.8,168.7 185.0,168.1 186.2,167.7 187.5,168.0 188.8,169.2 190.0,170.3 191.2,170.6 192.5,170.9 193.8,171.2 195.0,171.5 196.2,173.0 197.5,174.5 198.8,176.0 200.0,178.5 201.2,181.0 202.5,183.5 203.8,186.0 205.0,188.5 206.2,191.0 207.5,193.4 208.8,196.2 210.0,199.7 211.2,203.2 212.5,206.5 213.8,209.6 215.0,212.8 216.2,215.9 217.5,219.0 218.8,222.1 220.0,225.2 221.2,227.7 222.5,230.2 223.8,232.7 225.0,235.2 226.2,237.2 227.5,239.2 228.8,241.2 230.0,243.2 231.2,245.2 232.5,247.3 233.8,249.3 235.0,251.3 236.2,253.4 237.5,255.4 238.8,257.4 240.0,259.5 241.2,261.5 242.5,263.5 243.8,265.5 245.0,267.6 246.2,269.6"/>
<path fill="#fff" stroke="none" d="M147.2,173 L147.6,130 L148.2,106 L149.2,103.2 L150.3,106 L150.9,130 L151.4,171 Z"/>
<path fill="#fff" stroke="none" d="M157.2,168 L158.4,120 L159,60 L159.6,44 L160.5,42.5 L161.4,44 L162,60 L162.6,120 L163.8,165 Z"/>
<path fill="#fff" stroke="none" d="M245.8,268 L245.8,178 L246.6,173.5 L248.4,173.5 L249.2,180 L250.4,200 L251.5,207 L253.5,200 L254.3,187 L255.5,185 L256.6,180 L257.8,179.5 L259,183 L260,196 L260.6,199 L261.2,190 L262,186.5 L263.2,187 L264.1,193 L264.3,247 L266,246 L266.3,236 L268.9,236 L269.3,250 L270.6,280 L268,272 L264,268 L263,271 L261.6,262 L260,258 L258.5,262.5 L257,256 L255.5,259 L254,252 L252.5,256 L251,262 L249.6,268 Z"/>
<polyline points="269.6,248 269.8,281.5 272.25,282.3 279.75,286.5 286,291.5 292.25,299 298.5,303.3 306,305.2 316,305.8" stroke-width="3"/>
</g>
<g clip-path="url(#cr)" fill="none" stroke="#fff" stroke-width="3.1" stroke-linejoin="round" stroke-linecap="butt">
<polyline points="328.4,113 329.0,301.4 341,301.5 343.5,302.4 366,302.4 370,302 373.5,300.5 376.5,298 379.5,294.5 381.7,290 383.5,285"/>
<polyline points="383.5,285.0 384.8,276.8 386.0,268.6 387.2,260.6 388.5,253.3 389.8,246.1 391.0,238.9 392.2,234.2 393.5,231.1 394.8,228.1 396.0,225.0 397.2,222.0 398.5,219.0 399.8,215.9 401.0,213.1 402.2,210.3 403.5,207.6 404.8,204.8 406.0,202.0 407.2,199.9 408.5,197.8 409.8,195.6 411.0,193.5 412.2,192.0 413.5,190.5 414.8,189.0 416.0,187.5 417.2,186.1 418.5,184.6 419.8,183.4 421.0,182.1 422.2,180.8 423.5,179.6 424.8,178.3 426.0,177.2 427.2,176.2 428.5,175.3 429.8,174.3 431.0,173.6 432.2,173.2 433.5,172.8 434.8,172.4 436.0,171.9 437.2,171.5 438.5,171.0 439.8,170.4 441.0,169.8 442.2,169.1 443.5,168.5 444.8,167.8 446.0,167.3 447.2,166.9 448.5,166.5 449.8,166.0 451.0,165.6 452.2,165.2 453.5,164.9 454.8,164.7 456.0,164.5 457.2,164.3 458.5,164.1 459.8,163.8 461.0,163.5 462.2,163.2 463.5,162.6 464.8,161.7 466.0,160.7 467.2,160.4 468.5,161.8 469.8,163.3 471.0,164.7 472.2,165.3 473.5,165.8 474.8,166.2 476.0,167.1 477.2,168.2 478.5,170.1 479.8,173.2 481.0,176.0 482.2,177.9 483.5,179.8 484.8,181.6 486.0,184.3 487.2,187.3 488.5,190.2 489.8,193.3 491.0,196.3 492.2,199.4 493.5,202.5 494.8,205.5 496.0,208.2 497.2,210.9 498.5,213.6 499.8,216.2 501.0,218.9 502.2,221.5 503.5,224.0 504.8,226.5 506.0,229.0 507.2,231.2 508.5,233.3 509.8,235.4 511.0,237.5 512.2,239.6 513.5,242.5 514.8,245.5 516.0,247.9 517.2,250.4 518.5,252.8 519.8,255.3 521.0,257.7 522.2,260.2 523.5,262.6 524.8,265.1 526.0,267.5"/>
<polyline points="383.5,285.5 384.8,277.8 386.0,269.8 387.2,262.1 388.5,255.6 389.8,249.4 391.0,242.9 392.2,237.8 393.5,234.0 394.8,230.5 396.0,227.6 397.2,224.9 398.5,221.9 399.8,218.4 401.0,215.2 402.2,212.5 403.5,210.2 404.8,207.7 406.0,204.7 407.2,201.9 408.5,199.6 409.8,197.7 411.0,196.0 412.2,194.5 413.5,192.5 414.8,190.5 416.0,189.1 417.2,188.1 418.5,186.9 419.8,185.5 421.0,183.7 422.2,182.2 423.5,181.3 424.8,180.6 426.0,179.7 427.2,178.3 428.5,176.9 429.8,176.0 431.0,175.7 432.2,175.6 433.5,175.0 434.8,174.0 436.0,173.1 437.2,172.8 438.5,172.8 439.8,172.4 441.0,171.4 442.2,170.1 443.5,169.3 444.8,168.9 446.0,168.8 447.2,168.4 448.5,167.5 449.8,166.6 451.0,166.3 452.2,166.4 453.5,166.4 454.8,166.0 456.0,165.2 457.2,164.7 458.5,164.8 459.8,165.1 461.0,165.0 462.2,164.3 463.5,163.3 464.8,162.3 466.0,161.9 467.2,162.0 468.5,163.2 469.8,164.1 471.0,165.2 472.2,166.1 473.5,167.0 474.8,167.7 476.0,168.2 477.2,168.9 478.5,170.8 479.8,174.4 481.0,177.7 482.2,179.5 483.5,180.8 484.8,182.2 486.0,185.0 487.2,188.3 488.5,191.5 489.8,194.2 491.0,196.7 492.2,199.6 493.5,203.1 494.8,206.6 496.0,209.4 497.2,211.7 498.5,213.9 499.8,216.7 501.0,219.9 502.2,222.9 503.5,225.4 504.8,227.6 506.0,229.9 507.2,232.3 508.5,234.9 509.8,237.1 511.0,238.8 512.2,240.3 513.5,243.1 514.8,246.4 516.0,249.2 517.2,251.5 518.5,253.4 519.8,255.4 521.0,258.0 522.2,260.9 523.5,263.6 524.8,265.7 526.0,267.5"/>
<polyline points="383.5,285.1 384.8,277.7 386.0,270.9 387.2,264.6 388.5,258.8 389.8,252.5 391.0,245.8 392.2,240.7 393.5,237.3 394.8,234.1 396.0,230.7 397.2,227.1 398.5,223.6 399.8,220.5 401.0,218.1 402.2,215.8 403.5,212.9 404.8,209.6 406.0,206.4 407.2,204.3 408.5,202.5 409.8,200.6 411.0,198.0 412.2,195.8 413.5,194.0 414.8,192.8 416.0,191.7 417.2,190.3 418.5,188.3 419.8,186.6 421.0,185.4 422.2,184.7 423.5,183.9 424.8,182.6 426.0,181.0 427.2,179.7 428.5,179.1 429.8,178.8 431.0,178.2 432.2,177.3 433.5,176.1 434.8,175.4 436.0,175.3 437.2,175.2 438.5,174.5 439.8,173.3 441.0,172.1 442.2,171.6 443.5,171.3 444.8,170.8 446.0,169.8 447.2,168.8 448.5,168.2 449.8,168.1 451.0,168.2 452.2,167.8 453.5,167.1 454.8,166.3 456.0,166.2 457.2,166.4 458.5,166.5 459.8,166.1 461.0,165.3 462.2,164.8 463.5,164.6 464.8,164.2 466.0,163.5 467.2,162.8 468.5,163.7 469.8,165.0 471.0,166.8 472.2,167.8 473.5,168.2 474.8,168.1 476.0,168.6 477.2,170.2 478.5,172.9 479.8,176.2 481.0,178.8 482.2,180.1 483.5,181.7 484.8,183.8 486.0,186.8 487.2,189.5 488.5,191.8 489.8,194.2 491.0,197.3 492.2,201.1 493.5,204.5 494.8,207.3 496.0,209.5 497.2,212.0 498.5,215.0 499.8,218.3 501.0,221.2 502.2,223.5 503.5,225.9 504.8,228.8 506.0,232.0 507.2,234.5 508.5,236.3 509.8,237.7 511.0,239.5 512.2,241.7 513.5,244.9 514.8,247.9 516.0,249.8 517.2,251.6 518.5,253.9 519.8,256.6 521.0,259.4 522.2,261.7 523.5,263.5 524.8,265.4 526.0,267.9"/>
<polyline points="383.5,284.5 384.8,278.6 386.0,273.0 387.2,267.1 388.5,261.0 389.8,254.7 391.0,249.0 392.2,244.7 393.5,241.2 394.8,237.1 396.0,232.6 397.2,228.9 398.5,226.1 399.8,223.7 401.0,221.2 402.2,218.0 403.5,214.7 404.8,211.7 406.0,209.2 407.2,207.4 408.5,205.1 409.8,202.3 411.0,199.5 412.2,197.7 413.5,196.6 414.8,195.4 416.0,193.6 417.2,191.5 418.5,189.6 419.8,188.6 421.0,188.0 422.2,187.0 423.5,185.5 424.8,183.9 426.0,182.7 427.2,182.3 428.5,181.9 429.8,181.0 431.0,179.7 432.2,178.7 433.5,178.1 434.8,177.9 436.0,177.5 437.2,176.6 438.5,175.4 439.8,174.5 441.0,174.2 442.2,173.9 443.5,173.0 444.8,171.6 446.0,170.4 447.2,170.0 448.5,170.1 449.8,170.0 451.0,169.4 452.2,168.4 453.5,167.9 454.8,167.9 456.0,168.1 457.2,168.0 458.5,167.3 459.8,166.5 461.0,166.3 462.2,166.7 463.5,166.6 464.8,165.6 466.0,164.2 467.2,163.6 468.5,165.1 469.8,167.0 471.0,168.5 472.2,168.7 473.5,168.7 474.8,169.0 476.0,170.2 477.2,172.3 478.5,174.6 479.8,177.2 481.0,179.7 482.2,181.6 483.5,183.8 484.8,185.7 486.0,187.8 487.2,189.8 488.5,192.3 489.8,195.3 491.0,198.9 492.2,202.3 493.5,204.9 494.8,207.4 496.0,210.2 497.2,213.5 498.5,216.6 499.8,219.3 501.0,221.6 502.2,224.2 503.5,227.5 504.8,231.2 506.0,234.1 507.2,235.7 508.5,237.1 509.8,239.0 511.0,241.4 512.2,243.9 513.5,246.3 514.8,248.4 516.0,250.2 517.2,252.7 518.5,255.5 519.8,257.9 521.0,259.9 522.2,261.6 523.5,263.7 524.8,266.3 526.0,269.0"/>
<polyline points="383.5,285.0 384.8,280.0 386.0,274.4 387.2,268.5 388.5,262.8 389.8,257.8 391.0,253.2 392.2,248.8 393.5,244.1 394.8,239.3 396.0,234.8 397.2,231.8 398.5,229.3 399.8,226.4 401.0,223.1 402.2,219.8 403.5,217.1 404.8,214.8 406.0,212.3 407.2,209.6 408.5,206.6 409.8,204.0 411.0,201.9 412.2,200.5 413.5,198.9 414.8,196.9 416.0,194.8 417.2,193.2 418.5,192.1 419.8,191.1 421.0,189.9 422.2,188.2 423.5,186.8 424.8,186.0 426.0,185.5 427.2,184.7 428.5,183.6 429.8,182.3 431.0,181.5 432.2,181.2 433.5,180.8 434.8,179.9 436.0,178.7 437.2,177.6 438.5,177.0 439.8,176.8 441.0,176.3 442.2,175.2 443.5,173.7 444.8,172.6 446.0,172.2 447.2,172.1 448.5,171.7 449.8,170.8 451.0,170.0 452.2,169.6 453.5,169.8 454.8,169.8 456.0,169.3 457.2,168.5 458.5,167.9 459.8,167.9 461.0,168.3 462.2,168.4 463.5,167.6 464.8,166.2 466.0,165.3 467.2,165.5 468.5,167.2 469.8,168.3 471.0,169.1 472.2,169.3 473.5,170.0 474.8,171.0 476.0,171.9 477.2,173.4 478.5,175.4 479.8,178.3 481.0,181.6 482.2,183.9 483.5,185.4 484.8,186.6 486.0,188.3 487.2,190.9 488.5,193.9 489.8,196.8 491.0,199.5 492.2,202.5 493.5,205.3 494.8,208.6 496.0,211.9 497.2,214.8 498.5,217.1 499.8,219.6 501.0,222.5 502.2,225.9 503.5,229.6 504.8,232.9 506.0,235.2 507.2,236.8 508.5,238.8 509.8,241.2 511.0,243.4 512.2,245.0 513.5,246.9 514.8,249.2 516.0,251.8 517.2,254.4 518.5,256.5 519.8,258.2 521.0,259.9 522.2,262.2 523.5,264.9 524.8,267.4 526.0,269.2"/>
<polyline points="383.5,285.0 384.8,280.2 386.0,275.4 387.2,270.6 388.5,265.8 389.8,261.1 391.0,256.4 392.2,251.8 393.5,247.1 394.8,242.5 396.0,237.9 397.2,234.3 398.5,231.4 399.8,228.5 401.0,225.7 402.2,222.8 403.5,219.9 404.8,217.1 406.0,214.2 407.2,211.7 408.5,209.2 409.8,206.7 411.0,204.2 412.2,202.1 413.5,200.5 414.8,198.8 416.0,197.2 417.2,195.5 418.5,193.8 419.8,192.4 421.0,191.4 422.2,190.3 423.5,189.3 424.8,188.2 426.0,187.2 427.2,186.2 428.5,185.5 429.8,184.8 431.0,184.0 432.2,183.3 433.5,182.5 434.8,181.9 436.0,181.3 437.2,180.8 438.5,180.3 439.8,179.7 441.0,179.2 442.2,178.6 443.5,177.9 444.8,177.1 446.0,176.3 447.2,175.6 448.5,175.2 449.8,174.8 451.0,174.4 452.2,174.0 453.5,173.6 454.8,173.2 456.0,172.8 457.2,172.4 458.5,172.0 459.8,171.6 461.0,171.6 462.2,171.7 463.5,171.5 464.8,170.7 466.0,169.9 467.2,169.6 468.5,170.7 469.8,171.8 471.0,172.9 472.2,173.5 473.5,174.0 474.8,174.4 476.0,174.9 477.2,177.4 478.5,180.4 479.8,183.3 481.0,186.3 482.2,187.9 483.5,189.3 484.8,190.7 486.0,192.3 487.2,194.5 488.5,196.6 489.8,198.7 491.0,201.7 492.2,205.6 493.5,208.5 494.8,211.3 496.0,214.2 497.2,217.1 498.5,220.0 499.8,223.1 501.0,226.2 502.2,229.4 503.5,233.3 504.8,237.5 506.0,240.6 507.2,242.2 508.5,243.8 509.8,245.4 511.0,247.3 512.2,249.2 513.5,251.1 514.8,253.0 516.0,254.9 517.2,256.9 518.5,258.8 519.8,260.7 521.0,262.6 522.2,264.5 523.5,266.4 524.8,268.3 526.0,270.2"/>
<path fill="#fff" stroke="none" d="M428.7,177 L429.3,166 L430.2,160.6 L431.1,166 L431.7,176 Z"/>
<path fill="#fff" stroke="none" d="M436.9,174 L438.4,120 L439.3,60 L439.8,48 L440.6,46.6 L441.4,48 L441.9,60 L442.8,120 L443.8,171 Z"/>
<path fill="#fff" stroke="none" d="M525.6,270 L525.6,175 L526.2,158 L528.8,158 L529.5,170 L530.4,188 L531,175 L532,171 L533.5,173 L535,176 L536.5,172 L538,174 L539.5,170 L541,172 L542.5,169 L544,170 L545.4,176 L545.6,210.5 L550,210.5 L550.4,250 L551,284 L547.3,284 L547.3,262 L545.8,258 L545.5,213 L542,212.5 L541.8,258 L539,257 L537.6,231 L535.6,231 L535.5,222 L532.8,220 L532.5,262 L531,267 Z"/>
<polyline points="549.2,250 549.5,284.2 556.5,286.3 566.3,292.5 573.4,299.5 580.4,303.6 588,305 596,305.8" stroke-width="3"/>
</g>
<g fill="#fff" font-size="13.89px">
<rect x="70.1" y="283.05" width="5.4" height="1" fill="#fff"/>
<text x="79.0" y="289.05">0</text>
<text x="38.3" y="289.05" text-anchor="end">0</text>
<rect x="70.1" y="235.05" width="5.4" height="1" fill="#fff"/>
<text x="79.0" y="241.05">5</text>
<text x="38.3" y="241.05" text-anchor="end">5</text>
<rect x="70.1" y="187.05" width="5.4" height="1" fill="#fff"/>
<text x="79.0" y="193.05">10</text>
<text x="38.3" y="193.05" text-anchor="end">10</text>
<rect x="70.1" y="139.05" width="5.4" height="1" fill="#fff"/>
<text x="79.0" y="145.05">15</text>
<text x="38.3" y="145.05" text-anchor="end">15</text>
<rect x="70.1" y="91.05" width="5.4" height="1" fill="#fff"/>
<text x="79.0" y="97.05">20</text>
<text x="38.3" y="97.05" text-anchor="end">20</text>
<rect x="70.1" y="43.05" width="5.4" height="1" fill="#fff"/>
<text x="79.0" y="49.05">25</text>
<text x="38.3" y="49.05" text-anchor="end">25</text>
<rect x="350.1" y="283.05" width="5.4" height="1" fill="#fff"/>
<text x="359.0" y="289.05">0</text>
<text x="318.3" y="289.05" text-anchor="end">0</text>
<rect x="350.1" y="235.05" width="5.4" height="1" fill="#fff"/>
<text x="359.0" y="241.05">5</text>
<text x="318.3" y="241.05" text-anchor="end">5</text>
<rect x="350.1" y="187.05" width="5.4" height="1" fill="#fff"/>
<text x="359.0" y="193.05">10</text>
<text x="318.3" y="193.05" text-anchor="end">10</text>
<rect x="350.1" y="139.05" width="5.4" height="1" fill="#fff"/>
<text x="359.0" y="145.05">15</text>
<text x="318.3" y="145.05" text-anchor="end">15</text>
<rect x="350.1" y="91.05" width="5.4" height="1" fill="#fff"/>
<text x="359.0" y="97.05">20</text>
<text x="318.3" y="97.05" text-anchor="end">20</text>
<rect x="350.1" y="43.05" width="5.4" height="1" fill="#fff"/>
<text x="359.0" y="49.05">25</text>
<text x="318.3" y="49.05" text-anchor="end">25</text>
</g>
<g fill="#000" font-size="9.72px" text-anchor="middle" style="font-family:'DejaVu Sans Condensed','DejaVu Sans','Liberation Sans',sans-serif;font-stretch:condensed">
<rect x="48.85" y="408.2" width="1.1" height="5.5" fill="#000"/>
<text x="49.40" y="426">0</text>
<rect x="89.52" y="408.2" width="1.1" height="5.5" fill="#000"/>
<text x="90.06" y="426">50</text>
<rect x="130.18" y="408.2" width="1.1" height="5.5" fill="#000"/>
<text x="130.73" y="426">100</text>
<rect x="170.84" y="408.2" width="1.1" height="5.5" fill="#000"/>
<text x="171.40" y="426">150</text>
<rect x="211.51" y="408.2" width="1.1" height="5.5" fill="#000"/>
<text x="212.06" y="426">200</text>
<rect x="252.18" y="408.2" width="1.1" height="5.5" fill="#000"/>
<text x="252.73" y="426">250</text>
<rect x="292.84" y="408.2" width="1.1" height="5.5" fill="#000"/>
<text x="293.39" y="426">300</text>
<rect x="328.85" y="408.2" width="1.1" height="5.5" fill="#000"/>
<text x="329.40" y="426">0</text>
<rect x="369.51" y="408.2" width="1.1" height="5.5" fill="#000"/>
<text x="370.06" y="426">50</text>
<rect x="410.18" y="408.2" width="1.1" height="5.5" fill="#000"/>
<text x="410.73" y="426">100</text>
<rect x="450.84" y="408.2" width="1.1" height="5.5" fill="#000"/>
<text x="451.39" y="426">150</text>
<rect x="491.51" y="408.2" width="1.1" height="5.5" fill="#000"/>
<text x="492.06" y="426">200</text>
<rect x="532.18" y="408.2" width="1.1" height="5.5" fill="#000"/>
<text x="532.73" y="426">250</text>
<rect x="572.84" y="408.2" width="1.1" height="5.5" fill="#000"/>
<text x="573.39" y="426">300</text>
</g>
</svg>
</body></html>
